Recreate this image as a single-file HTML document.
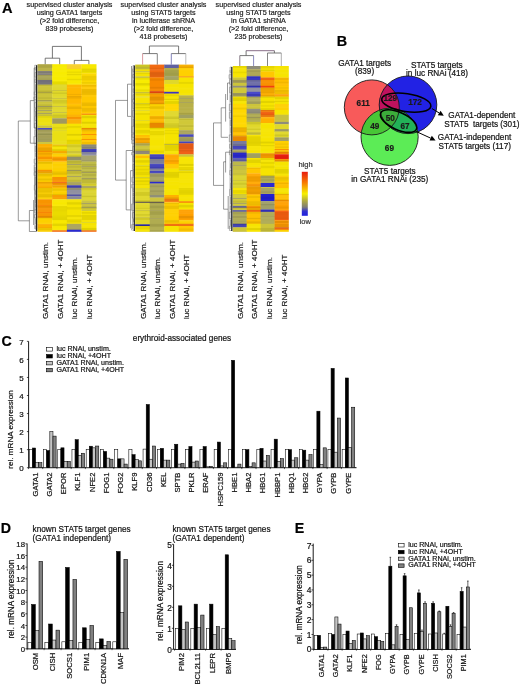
<!DOCTYPE html>
<html><head><meta charset="utf-8"><style>
html,body{margin:0;padding:0;background:#fff;}
svg{display:block;font-family:"Liberation Sans", sans-serif;filter:blur(0.35px);}
text{stroke:currentColor;stroke-width:0.2px;paint-order:stroke;}
</style></head><body>
<svg width="520" height="687" viewBox="0 0 520 687">
<rect width="520" height="687" fill="#fff"/>
<text x="1.90" y="12.50" font-size="14.6" font-weight="bold" fill="#000" color="#000">A</text>
<text x="69.50" y="6.60" font-size="7.2" text-anchor="middle" fill="#222" color="#222">supervised cluster analysis</text>
<text x="69.50" y="14.60" font-size="7.2" text-anchor="middle" fill="#222" color="#222">using GATA1 targets</text>
<text x="69.50" y="22.60" font-size="7.2" text-anchor="middle" fill="#222" color="#222">(&gt;2 fold difference,</text>
<text x="69.50" y="30.60" font-size="7.2" text-anchor="middle" fill="#222" color="#222">839 probesets)</text>
<text x="163.50" y="6.60" font-size="7.2" text-anchor="middle" fill="#222" color="#222">supervised cluster analysis</text>
<text x="163.50" y="14.60" font-size="7.2" text-anchor="middle" fill="#222" color="#222">using STAT5 targets</text>
<text x="163.50" y="22.60" font-size="7.2" text-anchor="middle" fill="#222" color="#222">in luciferase shRNA</text>
<text x="163.50" y="30.60" font-size="7.2" text-anchor="middle" fill="#222" color="#222">(&gt;2 fold difference,</text>
<text x="163.50" y="38.60" font-size="7.2" text-anchor="middle" fill="#222" color="#222">418 probesets)</text>
<text x="258.50" y="6.60" font-size="7.2" text-anchor="middle" fill="#222" color="#222">supervised cluster analysis</text>
<text x="258.50" y="14.60" font-size="7.2" text-anchor="middle" fill="#222" color="#222">using STAT5 targets</text>
<text x="258.50" y="22.60" font-size="7.2" text-anchor="middle" fill="#222" color="#222">in GATA1 shRNA</text>
<text x="258.50" y="30.60" font-size="7.2" text-anchor="middle" fill="#222" color="#222">(&gt;2 fold difference,</text>
<text x="258.50" y="38.60" font-size="7.2" text-anchor="middle" fill="#222" color="#222">235 probesets)</text>
<rect x="37.50" y="64.20" width="14.98" height="7.10" fill="#bcb44a"/>
<rect x="37.50" y="71.00" width="14.98" height="4.30" fill="#88847c"/>
<rect x="37.50" y="75.00" width="14.98" height="5.30" fill="#a8a458"/>
<rect x="37.50" y="80.00" width="14.98" height="4.90" fill="#7c7a84"/>
<rect x="37.50" y="84.60" width="14.98" height="7.70" fill="#ccc43a"/>
<rect x="37.50" y="92.00" width="14.98" height="1.30" fill="#b8b048"/>
<rect x="37.50" y="93.00" width="14.98" height="7.30" fill="#ccc43a"/>
<rect x="37.50" y="100.00" width="14.98" height="1.80" fill="#a8a050"/>
<rect x="37.50" y="101.50" width="14.98" height="4.80" fill="#ccc43a"/>
<rect x="37.50" y="106.00" width="14.98" height="1.30" fill="#aaa45c"/>
<rect x="37.50" y="107.00" width="14.98" height="3.30" fill="#ccc43a"/>
<rect x="37.50" y="110.00" width="14.98" height="1.30" fill="#aaa45c"/>
<rect x="37.50" y="111.00" width="14.98" height="2.30" fill="#ccc43a"/>
<rect x="37.50" y="113.00" width="14.98" height="1.30" fill="#aaa45c"/>
<rect x="37.50" y="114.00" width="14.98" height="2.30" fill="#ccc43a"/>
<rect x="37.50" y="116.00" width="14.98" height="9.80" fill="#ece010"/>
<rect x="37.50" y="125.50" width="14.98" height="2.80" fill="#ccc43a"/>
<rect x="37.50" y="128.00" width="14.98" height="1.90" fill="#4444bc"/>
<rect x="37.50" y="129.60" width="14.98" height="3.30" fill="#aaa45c"/>
<rect x="37.50" y="132.60" width="14.98" height="2.70" fill="#a09c58"/>
<rect x="37.50" y="135.00" width="14.98" height="3.30" fill="#aaa45c"/>
<rect x="37.50" y="138.00" width="14.98" height="4.30" fill="#a09c58"/>
<rect x="37.50" y="142.00" width="14.98" height="2.30" fill="#ccc43a"/>
<rect x="37.50" y="144.00" width="14.98" height="7.10" fill="#fcb000"/>
<rect x="37.50" y="150.80" width="14.98" height="1.50" fill="#f89400"/>
<rect x="37.50" y="152.00" width="14.98" height="5.00" fill="#fcb000"/>
<rect x="37.50" y="156.70" width="14.98" height="2.70" fill="#f89400"/>
<rect x="37.50" y="159.10" width="14.98" height="2.70" fill="#fcb000"/>
<rect x="37.50" y="161.50" width="14.98" height="8.60" fill="#fcd000"/>
<rect x="37.50" y="169.80" width="14.98" height="2.10" fill="#f89400"/>
<rect x="37.50" y="171.60" width="14.98" height="2.10" fill="#fcb000"/>
<rect x="37.50" y="173.40" width="14.98" height="8.70" fill="#fcd000"/>
<rect x="37.50" y="181.80" width="14.98" height="6.50" fill="#fcb000"/>
<rect x="37.50" y="188.00" width="14.98" height="11.60" fill="#fcd000"/>
<rect x="37.50" y="199.30" width="14.98" height="6.00" fill="#f89400"/>
<rect x="37.50" y="205.00" width="14.98" height="1.30" fill="#f88400"/>
<rect x="37.50" y="206.00" width="14.98" height="6.30" fill="#f89400"/>
<rect x="37.50" y="212.00" width="14.98" height="1.30" fill="#f88400"/>
<rect x="37.50" y="213.00" width="14.98" height="5.10" fill="#f89400"/>
<rect x="37.50" y="217.80" width="14.98" height="6.50" fill="#fcd000"/>
<rect x="37.50" y="224.00" width="14.98" height="4.30" fill="#fcb000"/>
<rect x="37.50" y="228.00" width="14.98" height="3.80" fill="#fcd000"/>
<rect x="52.17" y="64.20" width="14.98" height="20.70" fill="#f8ec00"/>
<rect x="52.17" y="84.60" width="14.98" height="5.70" fill="#e0d82a"/>
<rect x="52.17" y="90.00" width="14.98" height="1.30" fill="#ccc43a"/>
<rect x="52.17" y="91.00" width="14.98" height="7.30" fill="#e0d82a"/>
<rect x="52.17" y="98.00" width="14.98" height="1.30" fill="#ccc43a"/>
<rect x="52.17" y="99.00" width="14.98" height="5.30" fill="#e0d82a"/>
<rect x="52.17" y="104.00" width="14.98" height="2.30" fill="#e0d82a"/>
<rect x="52.17" y="106.00" width="14.98" height="1.30" fill="#c8c040"/>
<rect x="52.17" y="107.00" width="14.98" height="5.30" fill="#e0d82a"/>
<rect x="52.17" y="112.00" width="14.98" height="1.30" fill="#c8c040"/>
<rect x="52.17" y="113.00" width="14.98" height="5.60" fill="#e0d82a"/>
<rect x="52.17" y="118.30" width="14.98" height="5.70" fill="#a09860"/>
<rect x="52.17" y="123.70" width="14.98" height="6.60" fill="#eadf14"/>
<rect x="52.17" y="130.00" width="14.98" height="1.30" fill="#e0d82a"/>
<rect x="52.17" y="131.00" width="14.98" height="13.80" fill="#eadf14"/>
<rect x="52.17" y="144.50" width="14.98" height="1.80" fill="#f8d010"/>
<rect x="52.17" y="146.00" width="14.98" height="5.10" fill="#f6e400"/>
<rect x="52.17" y="150.80" width="14.98" height="2.70" fill="#fcb000"/>
<rect x="52.17" y="153.20" width="14.98" height="3.80" fill="#fcd000"/>
<rect x="52.17" y="156.70" width="14.98" height="5.10" fill="#ffa000"/>
<rect x="52.17" y="161.50" width="14.98" height="15.80" fill="#fcd000"/>
<rect x="52.17" y="177.00" width="14.98" height="5.30" fill="#f89400"/>
<rect x="52.17" y="182.00" width="14.98" height="1.30" fill="#f26a12"/>
<rect x="52.17" y="183.00" width="14.98" height="2.60" fill="#f89400"/>
<rect x="52.17" y="185.30" width="14.98" height="3.00" fill="#fcb000"/>
<rect x="52.17" y="188.00" width="14.98" height="7.30" fill="#fcd000"/>
<rect x="52.17" y="195.00" width="14.98" height="4.60" fill="#f8a000"/>
<rect x="52.17" y="199.30" width="14.98" height="31.30" fill="#f8e800"/>
<rect x="52.17" y="230.30" width="14.98" height="1.50" fill="#f26a12"/>
<rect x="66.85" y="64.20" width="14.98" height="5.10" fill="#f8d028"/>
<rect x="66.85" y="69.00" width="14.98" height="15.90" fill="#f8e800"/>
<rect x="66.85" y="84.60" width="14.98" height="19.70" fill="#ffb800"/>
<rect x="66.85" y="104.00" width="14.98" height="11.00" fill="#ffc000"/>
<rect x="66.85" y="114.70" width="14.98" height="2.60" fill="#fcb000"/>
<rect x="66.85" y="117.00" width="14.98" height="2.80" fill="#f89400"/>
<rect x="66.85" y="119.50" width="14.98" height="4.50" fill="#fcb000"/>
<rect x="66.85" y="123.70" width="14.98" height="21.10" fill="#f6e400"/>
<rect x="66.85" y="144.50" width="14.98" height="6.80" fill="#e0d82a"/>
<rect x="66.85" y="151.00" width="14.98" height="2.80" fill="#ccc43a"/>
<rect x="66.85" y="153.50" width="14.98" height="3.50" fill="#e0d82a"/>
<rect x="66.85" y="156.70" width="14.98" height="3.90" fill="#9c9a70"/>
<rect x="66.85" y="160.30" width="14.98" height="4.00" fill="#ccc43a"/>
<rect x="66.85" y="164.00" width="14.98" height="1.30" fill="#aaa45c"/>
<rect x="66.85" y="165.00" width="14.98" height="5.30" fill="#ccc43a"/>
<rect x="66.85" y="170.00" width="14.98" height="1.30" fill="#aaa45c"/>
<rect x="66.85" y="171.00" width="14.98" height="5.30" fill="#ccc43a"/>
<rect x="66.85" y="176.00" width="14.98" height="1.30" fill="#aaa45c"/>
<rect x="66.85" y="177.00" width="14.98" height="5.10" fill="#ccc43a"/>
<rect x="66.85" y="181.80" width="14.98" height="3.80" fill="#aaa45c"/>
<rect x="66.85" y="185.30" width="14.98" height="2.70" fill="#4444bc"/>
<rect x="66.85" y="187.70" width="14.98" height="2.60" fill="#8e8c7a"/>
<rect x="66.85" y="190.00" width="14.98" height="4.80" fill="#9090a0"/>
<rect x="66.85" y="194.50" width="14.98" height="1.80" fill="#5858b0"/>
<rect x="66.85" y="196.00" width="14.98" height="3.60" fill="#9090a0"/>
<rect x="66.85" y="199.30" width="14.98" height="24.80" fill="#f6e400"/>
<rect x="66.85" y="223.80" width="14.98" height="6.20" fill="#aaa45c"/>
<rect x="66.85" y="229.70" width="14.98" height="2.10" fill="#2a2ad0"/>
<rect x="81.53" y="64.20" width="14.98" height="9.40" fill="#f8e800"/>
<rect x="81.53" y="73.30" width="14.98" height="11.60" fill="#fcd800"/>
<rect x="81.53" y="84.60" width="14.98" height="29.20" fill="#ffc800"/>
<rect x="81.53" y="113.50" width="14.98" height="1.80" fill="#f89400"/>
<rect x="81.53" y="115.00" width="14.98" height="13.30" fill="#f6e400"/>
<rect x="81.53" y="128.00" width="14.98" height="1.90" fill="#f89400"/>
<rect x="81.53" y="129.60" width="14.98" height="4.70" fill="#ffc800"/>
<rect x="81.53" y="134.00" width="14.98" height="1.30" fill="#f89400"/>
<rect x="81.53" y="135.00" width="14.98" height="4.30" fill="#ffc800"/>
<rect x="81.53" y="139.00" width="14.98" height="1.30" fill="#f89400"/>
<rect x="81.53" y="140.00" width="14.98" height="4.80" fill="#ffc800"/>
<rect x="81.53" y="144.50" width="14.98" height="4.80" fill="#8e8c7a"/>
<rect x="81.53" y="149.00" width="14.98" height="3.30" fill="#4444bc"/>
<rect x="81.53" y="152.00" width="14.98" height="3.80" fill="#9090a8"/>
<rect x="81.53" y="155.50" width="14.98" height="6.30" fill="#a8a470"/>
<rect x="81.53" y="161.50" width="14.98" height="4.80" fill="#c0bc48"/>
<rect x="81.53" y="166.00" width="14.98" height="1.30" fill="#aaa45c"/>
<rect x="81.53" y="167.00" width="14.98" height="5.30" fill="#c0bc48"/>
<rect x="81.53" y="172.00" width="14.98" height="1.30" fill="#aaa45c"/>
<rect x="81.53" y="173.00" width="14.98" height="5.30" fill="#c0bc48"/>
<rect x="81.53" y="178.00" width="14.98" height="1.30" fill="#aaa45c"/>
<rect x="81.53" y="179.00" width="14.98" height="1.30" fill="#c0bc48"/>
<rect x="81.53" y="180.00" width="14.98" height="3.80" fill="#ccc43a"/>
<rect x="81.53" y="183.50" width="14.98" height="2.60" fill="#e0d82a"/>
<rect x="81.53" y="185.80" width="14.98" height="2.50" fill="#aaa45c"/>
<rect x="81.53" y="188.00" width="14.98" height="13.10" fill="#dcd430"/>
<rect x="81.53" y="200.80" width="14.98" height="2.50" fill="#c8c040"/>
<rect x="81.53" y="203.00" width="14.98" height="1.30" fill="#a8a460"/>
<rect x="81.53" y="204.00" width="14.98" height="3.30" fill="#c8c040"/>
<rect x="81.53" y="207.00" width="14.98" height="1.30" fill="#b0ac58"/>
<rect x="81.53" y="208.00" width="14.98" height="3.30" fill="#d0c838"/>
<rect x="81.53" y="211.00" width="14.98" height="11.30" fill="#f6e400"/>
<rect x="81.53" y="222.00" width="14.98" height="1.30" fill="#e0d82a"/>
<rect x="81.53" y="223.00" width="14.98" height="7.60" fill="#f6e400"/>
<rect x="81.53" y="230.30" width="14.98" height="1.50" fill="#f26a12"/>
<rect x="37.50" y="64.20" width="14.98" height="1.52" fill="#000" fill-opacity="0.072"/>
<rect x="37.50" y="65.72" width="14.98" height="2.04" fill="#000" fill-opacity="0.081"/>
<rect x="37.50" y="71.77" width="14.98" height="1.11" fill="#000" fill-opacity="0.079"/>
<rect x="37.50" y="72.88" width="14.98" height="1.68" fill="#fff" fill-opacity="0.033"/>
<rect x="37.50" y="74.56" width="14.98" height="1.20" fill="#000" fill-opacity="0.063"/>
<rect x="37.50" y="75.76" width="14.98" height="2.00" fill="#fff" fill-opacity="0.045"/>
<rect x="37.50" y="79.69" width="14.98" height="2.56" fill="#000" fill-opacity="0.084"/>
<rect x="37.50" y="82.25" width="14.98" height="2.37" fill="#000" fill-opacity="0.055"/>
<rect x="37.50" y="84.62" width="14.98" height="1.23" fill="#000" fill-opacity="0.076"/>
<rect x="37.50" y="85.85" width="14.98" height="1.49" fill="#fff" fill-opacity="0.032"/>
<rect x="37.50" y="90.66" width="14.98" height="1.88" fill="#000" fill-opacity="0.082"/>
<rect x="37.50" y="92.53" width="14.98" height="1.10" fill="#000" fill-opacity="0.065"/>
<rect x="37.50" y="97.22" width="14.98" height="1.73" fill="#000" fill-opacity="0.054"/>
<rect x="37.50" y="102.61" width="14.98" height="1.84" fill="#fff" fill-opacity="0.038"/>
<rect x="37.50" y="104.45" width="14.98" height="2.17" fill="#000" fill-opacity="0.055"/>
<rect x="37.50" y="106.61" width="14.98" height="2.57" fill="#000" fill-opacity="0.076"/>
<rect x="37.50" y="109.18" width="14.98" height="1.67" fill="#fff" fill-opacity="0.026"/>
<rect x="37.50" y="115.38" width="14.98" height="2.40" fill="#000" fill-opacity="0.052"/>
<rect x="37.50" y="121.82" width="14.98" height="2.34" fill="#fff" fill-opacity="0.044"/>
<rect x="37.50" y="127.02" width="14.98" height="2.04" fill="#fff" fill-opacity="0.049"/>
<rect x="37.50" y="129.06" width="14.98" height="2.32" fill="#000" fill-opacity="0.056"/>
<rect x="37.50" y="134.03" width="14.98" height="1.27" fill="#000" fill-opacity="0.076"/>
<rect x="37.50" y="135.29" width="14.98" height="1.09" fill="#fff" fill-opacity="0.027"/>
<rect x="37.50" y="136.39" width="14.98" height="1.21" fill="#000" fill-opacity="0.060"/>
<rect x="37.50" y="137.60" width="14.98" height="1.63" fill="#fff" fill-opacity="0.037"/>
<rect x="37.50" y="140.35" width="14.98" height="1.88" fill="#fff" fill-opacity="0.038"/>
<rect x="37.50" y="142.23" width="14.98" height="2.31" fill="#fff" fill-opacity="0.036"/>
<rect x="37.50" y="145.99" width="14.98" height="1.57" fill="#fff" fill-opacity="0.038"/>
<rect x="37.50" y="147.56" width="14.98" height="2.53" fill="#000" fill-opacity="0.072"/>
<rect x="37.50" y="150.09" width="14.98" height="1.28" fill="#000" fill-opacity="0.062"/>
<rect x="37.50" y="152.75" width="14.98" height="1.94" fill="#000" fill-opacity="0.058"/>
<rect x="37.50" y="161.64" width="14.98" height="2.08" fill="#000" fill-opacity="0.084"/>
<rect x="37.50" y="163.72" width="14.98" height="2.44" fill="#fff" fill-opacity="0.028"/>
<rect x="37.50" y="166.16" width="14.98" height="2.40" fill="#fff" fill-opacity="0.030"/>
<rect x="37.50" y="171.35" width="14.98" height="1.10" fill="#000" fill-opacity="0.082"/>
<rect x="37.50" y="172.45" width="14.98" height="1.33" fill="#000" fill-opacity="0.071"/>
<rect x="37.50" y="173.78" width="14.98" height="1.54" fill="#000" fill-opacity="0.084"/>
<rect x="37.50" y="175.33" width="14.98" height="1.00" fill="#000" fill-opacity="0.072"/>
<rect x="37.50" y="177.49" width="14.98" height="1.04" fill="#fff" fill-opacity="0.037"/>
<rect x="37.50" y="178.53" width="14.98" height="1.98" fill="#000" fill-opacity="0.072"/>
<rect x="37.50" y="181.92" width="14.98" height="1.58" fill="#000" fill-opacity="0.075"/>
<rect x="37.50" y="183.50" width="14.98" height="2.36" fill="#fff" fill-opacity="0.049"/>
<rect x="37.50" y="187.60" width="14.98" height="1.14" fill="#000" fill-opacity="0.078"/>
<rect x="37.50" y="188.74" width="14.98" height="1.55" fill="#000" fill-opacity="0.058"/>
<rect x="37.50" y="190.29" width="14.98" height="2.33" fill="#000" fill-opacity="0.071"/>
<rect x="37.50" y="192.62" width="14.98" height="1.04" fill="#fff" fill-opacity="0.045"/>
<rect x="37.50" y="193.65" width="14.98" height="1.85" fill="#000" fill-opacity="0.072"/>
<rect x="37.50" y="195.50" width="14.98" height="1.87" fill="#000" fill-opacity="0.087"/>
<rect x="37.50" y="197.37" width="14.98" height="1.84" fill="#fff" fill-opacity="0.048"/>
<rect x="37.50" y="203.01" width="14.98" height="1.27" fill="#fff" fill-opacity="0.027"/>
<rect x="37.50" y="204.28" width="14.98" height="1.85" fill="#fff" fill-opacity="0.028"/>
<rect x="37.50" y="206.13" width="14.98" height="1.53" fill="#000" fill-opacity="0.063"/>
<rect x="37.50" y="207.66" width="14.98" height="2.30" fill="#fff" fill-opacity="0.048"/>
<rect x="37.50" y="209.96" width="14.98" height="2.36" fill="#fff" fill-opacity="0.031"/>
<rect x="37.50" y="212.32" width="14.98" height="2.31" fill="#fff" fill-opacity="0.024"/>
<rect x="37.50" y="215.99" width="14.98" height="1.57" fill="#000" fill-opacity="0.087"/>
<rect x="37.50" y="217.56" width="14.98" height="1.04" fill="#000" fill-opacity="0.056"/>
<rect x="37.50" y="222.55" width="14.98" height="2.50" fill="#fff" fill-opacity="0.049"/>
<rect x="37.50" y="227.58" width="14.98" height="1.35" fill="#000" fill-opacity="0.063"/>
<rect x="37.50" y="228.93" width="14.98" height="1.31" fill="#000" fill-opacity="0.065"/>
<rect x="37.50" y="230.25" width="14.98" height="1.25" fill="#fff" fill-opacity="0.040"/>
<rect x="52.17" y="66.54" width="14.98" height="2.04" fill="#fff" fill-opacity="0.030"/>
<rect x="52.17" y="69.73" width="14.98" height="2.46" fill="#fff" fill-opacity="0.028"/>
<rect x="52.17" y="74.38" width="14.98" height="1.29" fill="#fff" fill-opacity="0.029"/>
<rect x="52.17" y="75.67" width="14.98" height="1.53" fill="#fff" fill-opacity="0.030"/>
<rect x="52.17" y="79.75" width="14.98" height="1.64" fill="#fff" fill-opacity="0.045"/>
<rect x="52.17" y="81.40" width="14.98" height="2.16" fill="#000" fill-opacity="0.070"/>
<rect x="52.17" y="83.56" width="14.98" height="1.20" fill="#000" fill-opacity="0.072"/>
<rect x="52.17" y="84.76" width="14.98" height="2.45" fill="#fff" fill-opacity="0.031"/>
<rect x="52.17" y="87.21" width="14.98" height="1.23" fill="#fff" fill-opacity="0.033"/>
<rect x="52.17" y="92.57" width="14.98" height="1.21" fill="#000" fill-opacity="0.088"/>
<rect x="52.17" y="96.33" width="14.98" height="1.84" fill="#fff" fill-opacity="0.043"/>
<rect x="52.17" y="98.17" width="14.98" height="1.69" fill="#fff" fill-opacity="0.037"/>
<rect x="52.17" y="99.87" width="14.98" height="2.32" fill="#000" fill-opacity="0.065"/>
<rect x="52.17" y="102.19" width="14.98" height="1.40" fill="#000" fill-opacity="0.055"/>
<rect x="52.17" y="106.39" width="14.98" height="1.21" fill="#fff" fill-opacity="0.041"/>
<rect x="52.17" y="109.17" width="14.98" height="1.93" fill="#fff" fill-opacity="0.040"/>
<rect x="52.17" y="111.10" width="14.98" height="1.67" fill="#fff" fill-opacity="0.042"/>
<rect x="52.17" y="114.58" width="14.98" height="1.84" fill="#000" fill-opacity="0.088"/>
<rect x="52.17" y="116.42" width="14.98" height="1.70" fill="#000" fill-opacity="0.068"/>
<rect x="52.17" y="118.12" width="14.98" height="1.01" fill="#fff" fill-opacity="0.030"/>
<rect x="52.17" y="124.08" width="14.98" height="1.89" fill="#fff" fill-opacity="0.028"/>
<rect x="52.17" y="127.14" width="14.98" height="1.40" fill="#000" fill-opacity="0.057"/>
<rect x="52.17" y="130.78" width="14.98" height="1.90" fill="#fff" fill-opacity="0.026"/>
<rect x="52.17" y="140.66" width="14.98" height="1.76" fill="#fff" fill-opacity="0.044"/>
<rect x="52.17" y="142.42" width="14.98" height="2.12" fill="#fff" fill-opacity="0.038"/>
<rect x="52.17" y="144.54" width="14.98" height="2.51" fill="#000" fill-opacity="0.059"/>
<rect x="52.17" y="147.05" width="14.98" height="1.90" fill="#fff" fill-opacity="0.044"/>
<rect x="52.17" y="148.94" width="14.98" height="2.34" fill="#000" fill-opacity="0.074"/>
<rect x="52.17" y="152.48" width="14.98" height="1.12" fill="#000" fill-opacity="0.061"/>
<rect x="52.17" y="154.72" width="14.98" height="2.25" fill="#fff" fill-opacity="0.040"/>
<rect x="52.17" y="158.22" width="14.98" height="2.06" fill="#000" fill-opacity="0.073"/>
<rect x="52.17" y="160.27" width="14.98" height="2.41" fill="#fff" fill-opacity="0.047"/>
<rect x="52.17" y="162.69" width="14.98" height="1.35" fill="#fff" fill-opacity="0.045"/>
<rect x="52.17" y="165.67" width="14.98" height="2.58" fill="#fff" fill-opacity="0.033"/>
<rect x="52.17" y="171.34" width="14.98" height="1.31" fill="#000" fill-opacity="0.052"/>
<rect x="52.17" y="172.65" width="14.98" height="2.16" fill="#000" fill-opacity="0.088"/>
<rect x="52.17" y="179.72" width="14.98" height="1.10" fill="#fff" fill-opacity="0.049"/>
<rect x="52.17" y="180.83" width="14.98" height="2.26" fill="#fff" fill-opacity="0.047"/>
<rect x="52.17" y="183.09" width="14.98" height="1.17" fill="#000" fill-opacity="0.058"/>
<rect x="52.17" y="184.26" width="14.98" height="1.06" fill="#fff" fill-opacity="0.028"/>
<rect x="52.17" y="185.32" width="14.98" height="1.43" fill="#000" fill-opacity="0.074"/>
<rect x="52.17" y="186.75" width="14.98" height="1.68" fill="#fff" fill-opacity="0.041"/>
<rect x="52.17" y="188.43" width="14.98" height="2.31" fill="#000" fill-opacity="0.059"/>
<rect x="52.17" y="190.74" width="14.98" height="1.24" fill="#fff" fill-opacity="0.042"/>
<rect x="52.17" y="193.89" width="14.98" height="1.14" fill="#000" fill-opacity="0.083"/>
<rect x="52.17" y="197.13" width="14.98" height="1.12" fill="#fff" fill-opacity="0.044"/>
<rect x="52.17" y="198.25" width="14.98" height="2.02" fill="#fff" fill-opacity="0.030"/>
<rect x="52.17" y="200.27" width="14.98" height="1.13" fill="#fff" fill-opacity="0.036"/>
<rect x="52.17" y="201.40" width="14.98" height="1.11" fill="#fff" fill-opacity="0.036"/>
<rect x="52.17" y="204.23" width="14.98" height="1.88" fill="#fff" fill-opacity="0.043"/>
<rect x="52.17" y="206.12" width="14.98" height="1.43" fill="#000" fill-opacity="0.074"/>
<rect x="52.17" y="207.55" width="14.98" height="1.84" fill="#000" fill-opacity="0.061"/>
<rect x="52.17" y="209.39" width="14.98" height="1.18" fill="#000" fill-opacity="0.071"/>
<rect x="52.17" y="210.56" width="14.98" height="1.08" fill="#000" fill-opacity="0.066"/>
<rect x="52.17" y="211.64" width="14.98" height="1.50" fill="#000" fill-opacity="0.053"/>
<rect x="52.17" y="213.14" width="14.98" height="2.22" fill="#000" fill-opacity="0.055"/>
<rect x="52.17" y="215.36" width="14.98" height="1.80" fill="#000" fill-opacity="0.069"/>
<rect x="52.17" y="217.16" width="14.98" height="1.56" fill="#000" fill-opacity="0.088"/>
<rect x="52.17" y="218.71" width="14.98" height="1.40" fill="#000" fill-opacity="0.088"/>
<rect x="52.17" y="223.59" width="14.98" height="2.50" fill="#000" fill-opacity="0.077"/>
<rect x="52.17" y="228.40" width="14.98" height="1.79" fill="#fff" fill-opacity="0.033"/>
<rect x="66.85" y="64.20" width="14.98" height="2.10" fill="#fff" fill-opacity="0.048"/>
<rect x="66.85" y="66.30" width="14.98" height="1.55" fill="#fff" fill-opacity="0.033"/>
<rect x="66.85" y="71.63" width="14.98" height="1.09" fill="#000" fill-opacity="0.074"/>
<rect x="66.85" y="72.71" width="14.98" height="1.11" fill="#fff" fill-opacity="0.024"/>
<rect x="66.85" y="73.83" width="14.98" height="1.41" fill="#000" fill-opacity="0.070"/>
<rect x="66.85" y="75.24" width="14.98" height="1.14" fill="#fff" fill-opacity="0.034"/>
<rect x="66.85" y="78.76" width="14.98" height="1.45" fill="#000" fill-opacity="0.061"/>
<rect x="66.85" y="82.94" width="14.98" height="1.42" fill="#fff" fill-opacity="0.046"/>
<rect x="66.85" y="86.91" width="14.98" height="1.39" fill="#fff" fill-opacity="0.047"/>
<rect x="66.85" y="93.88" width="14.98" height="1.01" fill="#000" fill-opacity="0.058"/>
<rect x="66.85" y="96.03" width="14.98" height="1.07" fill="#000" fill-opacity="0.087"/>
<rect x="66.85" y="97.10" width="14.98" height="1.49" fill="#000" fill-opacity="0.062"/>
<rect x="66.85" y="102.73" width="14.98" height="2.15" fill="#fff" fill-opacity="0.038"/>
<rect x="66.85" y="106.49" width="14.98" height="2.58" fill="#000" fill-opacity="0.072"/>
<rect x="66.85" y="111.23" width="14.98" height="1.07" fill="#fff" fill-opacity="0.034"/>
<rect x="66.85" y="114.73" width="14.98" height="2.17" fill="#fff" fill-opacity="0.031"/>
<rect x="66.85" y="118.12" width="14.98" height="1.81" fill="#fff" fill-opacity="0.033"/>
<rect x="66.85" y="119.93" width="14.98" height="2.29" fill="#fff" fill-opacity="0.033"/>
<rect x="66.85" y="122.22" width="14.98" height="1.93" fill="#fff" fill-opacity="0.039"/>
<rect x="66.85" y="126.24" width="14.98" height="1.37" fill="#000" fill-opacity="0.086"/>
<rect x="66.85" y="128.83" width="14.98" height="1.17" fill="#fff" fill-opacity="0.034"/>
<rect x="66.85" y="133.89" width="14.98" height="1.78" fill="#000" fill-opacity="0.090"/>
<rect x="66.85" y="135.67" width="14.98" height="2.28" fill="#fff" fill-opacity="0.025"/>
<rect x="66.85" y="139.75" width="14.98" height="2.05" fill="#000" fill-opacity="0.082"/>
<rect x="66.85" y="141.81" width="14.98" height="2.18" fill="#000" fill-opacity="0.060"/>
<rect x="66.85" y="143.99" width="14.98" height="1.12" fill="#000" fill-opacity="0.058"/>
<rect x="66.85" y="145.11" width="14.98" height="2.17" fill="#000" fill-opacity="0.065"/>
<rect x="66.85" y="147.27" width="14.98" height="2.18" fill="#fff" fill-opacity="0.048"/>
<rect x="66.85" y="155.24" width="14.98" height="2.03" fill="#000" fill-opacity="0.081"/>
<rect x="66.85" y="157.27" width="14.98" height="1.24" fill="#000" fill-opacity="0.060"/>
<rect x="66.85" y="158.50" width="14.98" height="2.19" fill="#000" fill-opacity="0.053"/>
<rect x="66.85" y="160.69" width="14.98" height="1.91" fill="#000" fill-opacity="0.089"/>
<rect x="66.85" y="162.60" width="14.98" height="1.10" fill="#000" fill-opacity="0.058"/>
<rect x="66.85" y="165.77" width="14.98" height="2.08" fill="#000" fill-opacity="0.055"/>
<rect x="66.85" y="169.68" width="14.98" height="1.75" fill="#000" fill-opacity="0.076"/>
<rect x="66.85" y="171.43" width="14.98" height="2.43" fill="#000" fill-opacity="0.066"/>
<rect x="66.85" y="173.86" width="14.98" height="2.57" fill="#fff" fill-opacity="0.044"/>
<rect x="66.85" y="177.45" width="14.98" height="2.31" fill="#fff" fill-opacity="0.047"/>
<rect x="66.85" y="179.76" width="14.98" height="1.72" fill="#000" fill-opacity="0.058"/>
<rect x="66.85" y="181.48" width="14.98" height="1.34" fill="#fff" fill-opacity="0.045"/>
<rect x="66.85" y="185.38" width="14.98" height="2.52" fill="#000" fill-opacity="0.074"/>
<rect x="66.85" y="192.64" width="14.98" height="1.37" fill="#fff" fill-opacity="0.040"/>
<rect x="66.85" y="194.01" width="14.98" height="1.78" fill="#000" fill-opacity="0.087"/>
<rect x="66.85" y="196.79" width="14.98" height="1.72" fill="#000" fill-opacity="0.054"/>
<rect x="66.85" y="199.74" width="14.98" height="1.51" fill="#fff" fill-opacity="0.034"/>
<rect x="66.85" y="201.24" width="14.98" height="1.00" fill="#fff" fill-opacity="0.025"/>
<rect x="66.85" y="202.25" width="14.98" height="2.34" fill="#000" fill-opacity="0.076"/>
<rect x="66.85" y="207.07" width="14.98" height="2.44" fill="#000" fill-opacity="0.055"/>
<rect x="66.85" y="215.28" width="14.98" height="1.44" fill="#000" fill-opacity="0.084"/>
<rect x="66.85" y="216.72" width="14.98" height="1.16" fill="#fff" fill-opacity="0.033"/>
<rect x="66.85" y="217.89" width="14.98" height="1.46" fill="#fff" fill-opacity="0.044"/>
<rect x="66.85" y="219.34" width="14.98" height="1.40" fill="#000" fill-opacity="0.058"/>
<rect x="66.85" y="220.74" width="14.98" height="1.82" fill="#000" fill-opacity="0.067"/>
<rect x="66.85" y="222.56" width="14.98" height="1.60" fill="#fff" fill-opacity="0.046"/>
<rect x="66.85" y="224.16" width="14.98" height="2.41" fill="#fff" fill-opacity="0.031"/>
<rect x="66.85" y="226.57" width="14.98" height="2.01" fill="#fff" fill-opacity="0.041"/>
<rect x="66.85" y="231.09" width="14.98" height="0.41" fill="#000" fill-opacity="0.084"/>
<rect x="81.53" y="68.58" width="14.98" height="1.46" fill="#000" fill-opacity="0.084"/>
<rect x="81.53" y="70.03" width="14.98" height="2.48" fill="#000" fill-opacity="0.075"/>
<rect x="81.53" y="74.27" width="14.98" height="1.48" fill="#fff" fill-opacity="0.024"/>
<rect x="81.53" y="75.75" width="14.98" height="2.56" fill="#000" fill-opacity="0.059"/>
<rect x="81.53" y="78.31" width="14.98" height="2.05" fill="#000" fill-opacity="0.054"/>
<rect x="81.53" y="82.25" width="14.98" height="1.27" fill="#000" fill-opacity="0.071"/>
<rect x="81.53" y="83.52" width="14.98" height="1.33" fill="#fff" fill-opacity="0.041"/>
<rect x="81.53" y="84.85" width="14.98" height="1.80" fill="#000" fill-opacity="0.064"/>
<rect x="81.53" y="86.65" width="14.98" height="2.45" fill="#fff" fill-opacity="0.050"/>
<rect x="81.53" y="89.10" width="14.98" height="1.72" fill="#000" fill-opacity="0.073"/>
<rect x="81.53" y="90.82" width="14.98" height="1.31" fill="#000" fill-opacity="0.079"/>
<rect x="81.53" y="92.13" width="14.98" height="1.55" fill="#000" fill-opacity="0.079"/>
<rect x="81.53" y="93.67" width="14.98" height="1.38" fill="#000" fill-opacity="0.059"/>
<rect x="81.53" y="95.06" width="14.98" height="1.91" fill="#fff" fill-opacity="0.039"/>
<rect x="81.53" y="102.43" width="14.98" height="1.10" fill="#000" fill-opacity="0.057"/>
<rect x="81.53" y="103.53" width="14.98" height="2.55" fill="#000" fill-opacity="0.075"/>
<rect x="81.53" y="107.88" width="14.98" height="2.38" fill="#000" fill-opacity="0.064"/>
<rect x="81.53" y="110.26" width="14.98" height="1.43" fill="#000" fill-opacity="0.060"/>
<rect x="81.53" y="113.34" width="14.98" height="2.53" fill="#fff" fill-opacity="0.035"/>
<rect x="81.53" y="115.86" width="14.98" height="2.40" fill="#000" fill-opacity="0.087"/>
<rect x="81.53" y="121.75" width="14.98" height="1.94" fill="#000" fill-opacity="0.090"/>
<rect x="81.53" y="123.69" width="14.98" height="1.63" fill="#fff" fill-opacity="0.043"/>
<rect x="81.53" y="125.31" width="14.98" height="2.32" fill="#fff" fill-opacity="0.036"/>
<rect x="81.53" y="127.63" width="14.98" height="2.56" fill="#000" fill-opacity="0.060"/>
<rect x="81.53" y="130.19" width="14.98" height="1.17" fill="#000" fill-opacity="0.071"/>
<rect x="81.53" y="135.70" width="14.98" height="2.04" fill="#fff" fill-opacity="0.026"/>
<rect x="81.53" y="139.47" width="14.98" height="1.06" fill="#fff" fill-opacity="0.028"/>
<rect x="81.53" y="140.54" width="14.98" height="1.37" fill="#fff" fill-opacity="0.042"/>
<rect x="81.53" y="141.91" width="14.98" height="2.03" fill="#000" fill-opacity="0.054"/>
<rect x="81.53" y="143.94" width="14.98" height="1.20" fill="#000" fill-opacity="0.060"/>
<rect x="81.53" y="147.16" width="14.98" height="1.18" fill="#000" fill-opacity="0.082"/>
<rect x="81.53" y="150.18" width="14.98" height="1.62" fill="#000" fill-opacity="0.063"/>
<rect x="81.53" y="151.80" width="14.98" height="1.96" fill="#000" fill-opacity="0.089"/>
<rect x="81.53" y="160.20" width="14.98" height="1.38" fill="#000" fill-opacity="0.060"/>
<rect x="81.53" y="164.11" width="14.98" height="1.49" fill="#000" fill-opacity="0.087"/>
<rect x="81.53" y="167.40" width="14.98" height="1.67" fill="#000" fill-opacity="0.059"/>
<rect x="81.53" y="169.07" width="14.98" height="2.07" fill="#fff" fill-opacity="0.043"/>
<rect x="81.53" y="171.14" width="14.98" height="1.36" fill="#000" fill-opacity="0.086"/>
<rect x="81.53" y="174.04" width="14.98" height="2.09" fill="#000" fill-opacity="0.066"/>
<rect x="81.53" y="176.13" width="14.98" height="2.28" fill="#fff" fill-opacity="0.024"/>
<rect x="81.53" y="178.41" width="14.98" height="1.81" fill="#000" fill-opacity="0.065"/>
<rect x="81.53" y="180.22" width="14.98" height="2.55" fill="#000" fill-opacity="0.053"/>
<rect x="81.53" y="182.77" width="14.98" height="2.31" fill="#000" fill-opacity="0.062"/>
<rect x="81.53" y="185.08" width="14.98" height="1.35" fill="#fff" fill-opacity="0.026"/>
<rect x="81.53" y="186.43" width="14.98" height="1.47" fill="#fff" fill-opacity="0.045"/>
<rect x="81.53" y="187.91" width="14.98" height="1.79" fill="#000" fill-opacity="0.068"/>
<rect x="81.53" y="191.06" width="14.98" height="2.06" fill="#fff" fill-opacity="0.045"/>
<rect x="81.53" y="194.36" width="14.98" height="1.34" fill="#fff" fill-opacity="0.047"/>
<rect x="81.53" y="195.70" width="14.98" height="1.23" fill="#000" fill-opacity="0.084"/>
<rect x="81.53" y="198.02" width="14.98" height="2.44" fill="#fff" fill-opacity="0.038"/>
<rect x="81.53" y="200.46" width="14.98" height="2.17" fill="#fff" fill-opacity="0.050"/>
<rect x="81.53" y="205.12" width="14.98" height="1.30" fill="#fff" fill-opacity="0.044"/>
<rect x="81.53" y="206.42" width="14.98" height="2.19" fill="#000" fill-opacity="0.086"/>
<rect x="81.53" y="212.27" width="14.98" height="1.27" fill="#000" fill-opacity="0.090"/>
<rect x="81.53" y="214.99" width="14.98" height="2.53" fill="#000" fill-opacity="0.075"/>
<rect x="81.53" y="217.52" width="14.98" height="2.54" fill="#000" fill-opacity="0.065"/>
<rect x="81.53" y="220.06" width="14.98" height="1.57" fill="#fff" fill-opacity="0.032"/>
<rect x="81.53" y="225.03" width="14.98" height="1.60" fill="#fff" fill-opacity="0.042"/>
<rect x="81.53" y="227.93" width="14.98" height="2.44" fill="#000" fill-opacity="0.086"/>
<rect x="81.53" y="230.37" width="14.98" height="1.13" fill="#fff" fill-opacity="0.031"/>
<rect x="135.20" y="64.60" width="14.83" height="2.50" fill="#e0d82a"/>
<rect x="135.20" y="66.80" width="14.83" height="2.70" fill="#ccc43a"/>
<rect x="135.20" y="69.20" width="14.83" height="2.10" fill="#f6e400"/>
<rect x="135.20" y="71.00" width="14.83" height="1.50" fill="#ccc43a"/>
<rect x="135.20" y="72.20" width="14.83" height="4.40" fill="#f6e400"/>
<rect x="135.20" y="76.30" width="14.83" height="2.00" fill="#ccc43a"/>
<rect x="135.20" y="78.00" width="14.83" height="14.10" fill="#f8ec00"/>
<rect x="135.20" y="91.80" width="14.83" height="1.70" fill="#ccc43a"/>
<rect x="135.20" y="93.20" width="14.83" height="3.60" fill="#f6e400"/>
<rect x="135.20" y="96.50" width="14.83" height="1.30" fill="#e0d82a"/>
<rect x="135.20" y="97.50" width="14.83" height="5.80" fill="#f6e400"/>
<rect x="135.20" y="103.00" width="14.83" height="1.30" fill="#e0d82a"/>
<rect x="135.20" y="104.00" width="14.83" height="6.30" fill="#f6e400"/>
<rect x="135.20" y="110.00" width="14.83" height="1.30" fill="#e0d82a"/>
<rect x="135.20" y="111.00" width="14.83" height="9.30" fill="#f6e400"/>
<rect x="135.20" y="120.00" width="14.83" height="1.30" fill="#e0d82a"/>
<rect x="135.20" y="121.00" width="14.83" height="14.30" fill="#f6e400"/>
<rect x="135.20" y="135.00" width="14.83" height="3.30" fill="#ffc000"/>
<rect x="135.20" y="138.00" width="14.83" height="5.60" fill="#f8a800"/>
<rect x="135.20" y="143.30" width="14.83" height="3.00" fill="#b8b050"/>
<rect x="135.20" y="146.00" width="14.83" height="5.10" fill="#ccc43a"/>
<rect x="135.20" y="150.80" width="14.83" height="3.80" fill="#908878"/>
<rect x="135.20" y="154.30" width="14.83" height="1.50" fill="#f6e400"/>
<rect x="135.20" y="155.50" width="14.83" height="2.80" fill="#ffc000"/>
<rect x="135.20" y="158.00" width="14.83" height="7.30" fill="#f6e400"/>
<rect x="135.20" y="165.00" width="14.83" height="1.30" fill="#e0d82a"/>
<rect x="135.20" y="166.00" width="14.83" height="11.30" fill="#f6e400"/>
<rect x="135.20" y="177.00" width="14.83" height="1.30" fill="#e0d82a"/>
<rect x="135.20" y="178.00" width="14.83" height="10.30" fill="#f6e400"/>
<rect x="135.20" y="188.00" width="14.83" height="7.30" fill="#e0d828"/>
<rect x="135.20" y="195.00" width="14.83" height="7.00" fill="#e0d82a"/>
<rect x="135.20" y="201.70" width="14.83" height="1.60" fill="#706850"/>
<rect x="135.20" y="203.00" width="14.83" height="7.30" fill="#e0d82a"/>
<rect x="135.20" y="210.00" width="14.83" height="1.30" fill="#ccc43a"/>
<rect x="135.20" y="211.00" width="14.83" height="6.30" fill="#e0d82a"/>
<rect x="135.20" y="217.00" width="14.83" height="1.30" fill="#ccc43a"/>
<rect x="135.20" y="218.00" width="14.83" height="6.60" fill="#e0d82a"/>
<rect x="135.20" y="224.30" width="14.83" height="2.00" fill="#3030a0"/>
<rect x="135.20" y="226.00" width="14.83" height="5.80" fill="#f6e400"/>
<rect x="149.72" y="64.60" width="14.83" height="13.20" fill="#f26a12"/>
<rect x="149.72" y="77.50" width="14.83" height="14.00" fill="#f88800"/>
<rect x="149.72" y="91.20" width="14.83" height="2.30" fill="#ee4a10"/>
<rect x="149.72" y="93.20" width="14.83" height="11.10" fill="#f8a000"/>
<rect x="149.72" y="104.00" width="14.83" height="12.30" fill="#fcd000"/>
<rect x="149.72" y="116.00" width="14.83" height="7.30" fill="#ffb800"/>
<rect x="149.72" y="123.00" width="14.83" height="5.10" fill="#f89000"/>
<rect x="149.72" y="127.80" width="14.83" height="26.80" fill="#f6e400"/>
<rect x="149.72" y="154.30" width="14.83" height="5.00" fill="#4444bc"/>
<rect x="149.72" y="159.00" width="14.83" height="5.20" fill="#8888a0"/>
<rect x="149.72" y="163.90" width="14.83" height="5.00" fill="#4444bc"/>
<rect x="149.72" y="168.60" width="14.83" height="2.70" fill="#8888a0"/>
<rect x="149.72" y="171.00" width="14.83" height="2.70" fill="#4444bc"/>
<rect x="149.72" y="173.40" width="14.83" height="8.70" fill="#a8a468"/>
<rect x="149.72" y="181.80" width="14.83" height="2.00" fill="#2a2ad0"/>
<rect x="149.72" y="183.50" width="14.83" height="4.80" fill="#a8a460"/>
<rect x="149.72" y="188.00" width="14.83" height="7.30" fill="#a8a460"/>
<rect x="149.72" y="195.00" width="14.83" height="2.80" fill="#909078"/>
<rect x="149.72" y="197.50" width="14.83" height="4.50" fill="#ccc43a"/>
<rect x="149.72" y="201.70" width="14.83" height="1.60" fill="#706850"/>
<rect x="149.72" y="203.00" width="14.83" height="7.30" fill="#b0ac50"/>
<rect x="149.72" y="210.00" width="14.83" height="1.30" fill="#aaa45c"/>
<rect x="149.72" y="211.00" width="14.83" height="7.30" fill="#b0ac50"/>
<rect x="149.72" y="218.00" width="14.83" height="1.30" fill="#aaa45c"/>
<rect x="149.72" y="219.00" width="14.83" height="12.80" fill="#b0ac50"/>
<rect x="164.25" y="64.60" width="14.83" height="3.70" fill="#6060a0"/>
<rect x="164.25" y="68.00" width="14.83" height="8.60" fill="#b0ac50"/>
<rect x="164.25" y="76.30" width="14.83" height="3.90" fill="#a0a060"/>
<rect x="164.25" y="79.90" width="14.83" height="4.40" fill="#e0d82a"/>
<rect x="164.25" y="84.00" width="14.83" height="8.10" fill="#f6e400"/>
<rect x="164.25" y="91.80" width="14.83" height="2.10" fill="#3830c0"/>
<rect x="164.25" y="93.60" width="14.83" height="10.70" fill="#f6e400"/>
<rect x="164.25" y="104.00" width="14.83" height="7.30" fill="#ffd800"/>
<rect x="164.25" y="111.00" width="14.83" height="17.10" fill="#e0d82a"/>
<rect x="164.25" y="127.80" width="14.83" height="16.50" fill="#f6e400"/>
<rect x="164.25" y="144.00" width="14.83" height="1.30" fill="#ccc43a"/>
<rect x="164.25" y="145.00" width="14.83" height="9.60" fill="#f6e400"/>
<rect x="164.25" y="154.30" width="14.83" height="9.90" fill="#ffa800"/>
<rect x="164.25" y="163.90" width="14.83" height="5.00" fill="#ffc800"/>
<rect x="164.25" y="168.60" width="14.83" height="26.70" fill="#f6e400"/>
<rect x="164.25" y="195.00" width="14.83" height="4.00" fill="#ffb000"/>
<rect x="164.25" y="198.70" width="14.83" height="3.90" fill="#f88010"/>
<rect x="164.25" y="202.30" width="14.83" height="21.80" fill="#ffd000"/>
<rect x="164.25" y="223.80" width="14.83" height="2.50" fill="#f07010"/>
<rect x="164.25" y="226.00" width="14.83" height="5.80" fill="#f6e400"/>
<rect x="178.78" y="64.60" width="14.83" height="3.70" fill="#f8b000"/>
<rect x="178.78" y="68.00" width="14.83" height="8.60" fill="#ffd000"/>
<rect x="178.78" y="76.30" width="14.83" height="1.50" fill="#f89400"/>
<rect x="178.78" y="77.50" width="14.83" height="18.20" fill="#f6e400"/>
<rect x="178.78" y="95.40" width="14.83" height="2.90" fill="#b8b048"/>
<rect x="178.78" y="98.00" width="14.83" height="1.30" fill="#aaa45c"/>
<rect x="178.78" y="99.00" width="14.83" height="3.30" fill="#b8b048"/>
<rect x="178.78" y="102.00" width="14.83" height="1.30" fill="#aaa45c"/>
<rect x="178.78" y="103.00" width="14.83" height="12.00" fill="#b8b048"/>
<rect x="178.78" y="114.70" width="14.83" height="3.90" fill="#a0a060"/>
<rect x="178.78" y="118.30" width="14.83" height="12.20" fill="#d0c838"/>
<rect x="178.78" y="130.20" width="14.83" height="4.50" fill="#aaa45c"/>
<rect x="178.78" y="134.40" width="14.83" height="2.70" fill="#4444bc"/>
<rect x="178.78" y="136.80" width="14.83" height="5.00" fill="#a8a460"/>
<rect x="178.78" y="141.50" width="14.83" height="2.10" fill="#4444bc"/>
<rect x="178.78" y="143.30" width="14.83" height="11.30" fill="#f06018"/>
<rect x="178.78" y="154.30" width="14.83" height="2.70" fill="#ccc43a"/>
<rect x="178.78" y="156.70" width="14.83" height="13.60" fill="#f6e400"/>
<rect x="178.78" y="170.00" width="14.83" height="1.30" fill="#e0d82a"/>
<rect x="178.78" y="171.00" width="14.83" height="30.40" fill="#f6e400"/>
<rect x="178.78" y="201.10" width="14.83" height="2.20" fill="#f89400"/>
<rect x="178.78" y="203.00" width="14.83" height="6.80" fill="#f6e400"/>
<rect x="178.78" y="209.50" width="14.83" height="11.00" fill="#ffa000"/>
<rect x="178.78" y="220.20" width="14.83" height="3.90" fill="#fcd000"/>
<rect x="178.78" y="223.80" width="14.83" height="2.50" fill="#f07010"/>
<rect x="178.78" y="226.00" width="14.83" height="5.80" fill="#ffc800"/>
<rect x="135.20" y="64.60" width="14.83" height="2.23" fill="#000" fill-opacity="0.085"/>
<rect x="135.20" y="66.83" width="14.83" height="1.06" fill="#000" fill-opacity="0.082"/>
<rect x="135.20" y="67.88" width="14.83" height="2.47" fill="#000" fill-opacity="0.059"/>
<rect x="135.20" y="70.35" width="14.83" height="2.20" fill="#fff" fill-opacity="0.040"/>
<rect x="135.20" y="72.55" width="14.83" height="1.54" fill="#000" fill-opacity="0.057"/>
<rect x="135.20" y="78.04" width="14.83" height="1.51" fill="#000" fill-opacity="0.057"/>
<rect x="135.20" y="79.55" width="14.83" height="1.01" fill="#fff" fill-opacity="0.026"/>
<rect x="135.20" y="83.02" width="14.83" height="2.51" fill="#000" fill-opacity="0.087"/>
<rect x="135.20" y="86.91" width="14.83" height="2.53" fill="#fff" fill-opacity="0.045"/>
<rect x="135.20" y="89.44" width="14.83" height="1.62" fill="#000" fill-opacity="0.060"/>
<rect x="135.20" y="92.74" width="14.83" height="2.48" fill="#000" fill-opacity="0.068"/>
<rect x="135.20" y="95.23" width="14.83" height="2.28" fill="#fff" fill-opacity="0.024"/>
<rect x="135.20" y="97.51" width="14.83" height="2.32" fill="#fff" fill-opacity="0.027"/>
<rect x="135.20" y="103.31" width="14.83" height="2.25" fill="#000" fill-opacity="0.081"/>
<rect x="135.20" y="105.56" width="14.83" height="1.32" fill="#fff" fill-opacity="0.025"/>
<rect x="135.20" y="106.88" width="14.83" height="1.40" fill="#000" fill-opacity="0.082"/>
<rect x="135.20" y="109.33" width="14.83" height="1.52" fill="#fff" fill-opacity="0.048"/>
<rect x="135.20" y="110.85" width="14.83" height="2.41" fill="#fff" fill-opacity="0.049"/>
<rect x="135.20" y="113.26" width="14.83" height="1.42" fill="#000" fill-opacity="0.080"/>
<rect x="135.20" y="121.35" width="14.83" height="2.20" fill="#fff" fill-opacity="0.035"/>
<rect x="135.20" y="123.54" width="14.83" height="2.06" fill="#000" fill-opacity="0.075"/>
<rect x="135.20" y="125.60" width="14.83" height="2.35" fill="#000" fill-opacity="0.055"/>
<rect x="135.20" y="129.86" width="14.83" height="2.18" fill="#000" fill-opacity="0.066"/>
<rect x="135.20" y="132.04" width="14.83" height="1.40" fill="#000" fill-opacity="0.061"/>
<rect x="135.20" y="133.43" width="14.83" height="1.25" fill="#fff" fill-opacity="0.038"/>
<rect x="135.20" y="136.60" width="14.83" height="1.63" fill="#fff" fill-opacity="0.049"/>
<rect x="135.20" y="138.24" width="14.83" height="1.81" fill="#000" fill-opacity="0.062"/>
<rect x="135.20" y="142.34" width="14.83" height="2.59" fill="#000" fill-opacity="0.078"/>
<rect x="135.20" y="144.93" width="14.83" height="1.76" fill="#fff" fill-opacity="0.032"/>
<rect x="135.20" y="146.69" width="14.83" height="2.34" fill="#fff" fill-opacity="0.041"/>
<rect x="135.20" y="149.03" width="14.83" height="1.06" fill="#000" fill-opacity="0.055"/>
<rect x="135.20" y="150.10" width="14.83" height="1.19" fill="#000" fill-opacity="0.067"/>
<rect x="135.20" y="158.72" width="14.83" height="1.42" fill="#fff" fill-opacity="0.028"/>
<rect x="135.20" y="160.14" width="14.83" height="2.51" fill="#000" fill-opacity="0.077"/>
<rect x="135.20" y="165.95" width="14.83" height="1.23" fill="#000" fill-opacity="0.066"/>
<rect x="135.20" y="168.58" width="14.83" height="2.04" fill="#000" fill-opacity="0.066"/>
<rect x="135.20" y="171.65" width="14.83" height="2.09" fill="#000" fill-opacity="0.068"/>
<rect x="135.20" y="173.73" width="14.83" height="1.50" fill="#000" fill-opacity="0.066"/>
<rect x="135.20" y="177.50" width="14.83" height="1.10" fill="#000" fill-opacity="0.078"/>
<rect x="135.20" y="180.24" width="14.83" height="2.02" fill="#000" fill-opacity="0.079"/>
<rect x="135.20" y="183.52" width="14.83" height="1.66" fill="#000" fill-opacity="0.056"/>
<rect x="135.20" y="185.18" width="14.83" height="1.49" fill="#fff" fill-opacity="0.045"/>
<rect x="135.20" y="189.74" width="14.83" height="2.38" fill="#fff" fill-opacity="0.050"/>
<rect x="135.20" y="192.12" width="14.83" height="1.58" fill="#000" fill-opacity="0.066"/>
<rect x="135.20" y="193.71" width="14.83" height="2.16" fill="#000" fill-opacity="0.066"/>
<rect x="135.20" y="195.87" width="14.83" height="1.01" fill="#fff" fill-opacity="0.040"/>
<rect x="135.20" y="196.88" width="14.83" height="1.68" fill="#fff" fill-opacity="0.032"/>
<rect x="135.20" y="198.56" width="14.83" height="1.65" fill="#fff" fill-opacity="0.038"/>
<rect x="135.20" y="200.21" width="14.83" height="1.74" fill="#000" fill-opacity="0.070"/>
<rect x="135.20" y="202.97" width="14.83" height="2.03" fill="#fff" fill-opacity="0.041"/>
<rect x="135.20" y="207.73" width="14.83" height="1.23" fill="#000" fill-opacity="0.056"/>
<rect x="135.20" y="208.96" width="14.83" height="1.83" fill="#fff" fill-opacity="0.043"/>
<rect x="135.20" y="211.97" width="14.83" height="2.29" fill="#fff" fill-opacity="0.047"/>
<rect x="135.20" y="214.26" width="14.83" height="1.32" fill="#000" fill-opacity="0.075"/>
<rect x="135.20" y="215.57" width="14.83" height="2.51" fill="#fff" fill-opacity="0.048"/>
<rect x="135.20" y="218.08" width="14.83" height="1.77" fill="#000" fill-opacity="0.084"/>
<rect x="135.20" y="224.78" width="14.83" height="2.32" fill="#000" fill-opacity="0.071"/>
<rect x="135.20" y="227.10" width="14.83" height="2.26" fill="#000" fill-opacity="0.063"/>
<rect x="135.20" y="229.36" width="14.83" height="1.65" fill="#fff" fill-opacity="0.035"/>
<rect x="135.20" y="231.01" width="14.83" height="0.49" fill="#000" fill-opacity="0.068"/>
<rect x="149.72" y="67.78" width="14.83" height="1.20" fill="#000" fill-opacity="0.060"/>
<rect x="149.72" y="68.97" width="14.83" height="2.16" fill="#fff" fill-opacity="0.040"/>
<rect x="149.72" y="72.20" width="14.83" height="2.21" fill="#000" fill-opacity="0.085"/>
<rect x="149.72" y="74.41" width="14.83" height="2.34" fill="#000" fill-opacity="0.076"/>
<rect x="149.72" y="78.71" width="14.83" height="2.00" fill="#000" fill-opacity="0.053"/>
<rect x="149.72" y="86.82" width="14.83" height="1.78" fill="#000" fill-opacity="0.062"/>
<rect x="149.72" y="88.60" width="14.83" height="2.22" fill="#fff" fill-opacity="0.028"/>
<rect x="149.72" y="90.83" width="14.83" height="1.73" fill="#000" fill-opacity="0.068"/>
<rect x="149.72" y="92.56" width="14.83" height="1.76" fill="#000" fill-opacity="0.077"/>
<rect x="149.72" y="96.67" width="14.83" height="1.82" fill="#000" fill-opacity="0.085"/>
<rect x="149.72" y="98.49" width="14.83" height="2.02" fill="#000" fill-opacity="0.080"/>
<rect x="149.72" y="100.50" width="14.83" height="2.17" fill="#fff" fill-opacity="0.028"/>
<rect x="149.72" y="102.68" width="14.83" height="1.82" fill="#000" fill-opacity="0.083"/>
<rect x="149.72" y="106.30" width="14.83" height="2.52" fill="#000" fill-opacity="0.074"/>
<rect x="149.72" y="108.82" width="14.83" height="2.37" fill="#fff" fill-opacity="0.050"/>
<rect x="149.72" y="111.19" width="14.83" height="2.17" fill="#fff" fill-opacity="0.031"/>
<rect x="149.72" y="113.37" width="14.83" height="1.31" fill="#fff" fill-opacity="0.048"/>
<rect x="149.72" y="114.68" width="14.83" height="1.79" fill="#fff" fill-opacity="0.046"/>
<rect x="149.72" y="116.46" width="14.83" height="2.47" fill="#000" fill-opacity="0.070"/>
<rect x="149.72" y="118.93" width="14.83" height="2.26" fill="#fff" fill-opacity="0.043"/>
<rect x="149.72" y="122.29" width="14.83" height="2.21" fill="#000" fill-opacity="0.071"/>
<rect x="149.72" y="124.50" width="14.83" height="2.43" fill="#000" fill-opacity="0.057"/>
<rect x="149.72" y="126.94" width="14.83" height="2.31" fill="#000" fill-opacity="0.073"/>
<rect x="149.72" y="129.24" width="14.83" height="1.80" fill="#fff" fill-opacity="0.042"/>
<rect x="149.72" y="131.05" width="14.83" height="1.33" fill="#000" fill-opacity="0.058"/>
<rect x="149.72" y="132.38" width="14.83" height="1.81" fill="#000" fill-opacity="0.052"/>
<rect x="149.72" y="134.19" width="14.83" height="1.06" fill="#000" fill-opacity="0.068"/>
<rect x="149.72" y="135.25" width="14.83" height="1.26" fill="#fff" fill-opacity="0.044"/>
<rect x="149.72" y="136.51" width="14.83" height="2.09" fill="#fff" fill-opacity="0.040"/>
<rect x="149.72" y="138.59" width="14.83" height="1.27" fill="#fff" fill-opacity="0.028"/>
<rect x="149.72" y="145.46" width="14.83" height="1.93" fill="#fff" fill-opacity="0.038"/>
<rect x="149.72" y="147.39" width="14.83" height="1.17" fill="#fff" fill-opacity="0.049"/>
<rect x="149.72" y="150.57" width="14.83" height="2.28" fill="#000" fill-opacity="0.058"/>
<rect x="149.72" y="155.43" width="14.83" height="1.58" fill="#fff" fill-opacity="0.026"/>
<rect x="149.72" y="157.00" width="14.83" height="1.71" fill="#000" fill-opacity="0.069"/>
<rect x="149.72" y="158.71" width="14.83" height="2.19" fill="#000" fill-opacity="0.084"/>
<rect x="149.72" y="160.90" width="14.83" height="2.31" fill="#000" fill-opacity="0.060"/>
<rect x="149.72" y="163.21" width="14.83" height="2.02" fill="#fff" fill-opacity="0.048"/>
<rect x="149.72" y="167.17" width="14.83" height="1.50" fill="#000" fill-opacity="0.090"/>
<rect x="149.72" y="168.67" width="14.83" height="1.05" fill="#000" fill-opacity="0.072"/>
<rect x="149.72" y="171.71" width="14.83" height="1.82" fill="#fff" fill-opacity="0.040"/>
<rect x="149.72" y="173.53" width="14.83" height="1.21" fill="#000" fill-opacity="0.063"/>
<rect x="149.72" y="174.74" width="14.83" height="2.04" fill="#000" fill-opacity="0.087"/>
<rect x="149.72" y="180.32" width="14.83" height="1.94" fill="#000" fill-opacity="0.065"/>
<rect x="149.72" y="184.26" width="14.83" height="1.22" fill="#fff" fill-opacity="0.044"/>
<rect x="149.72" y="185.48" width="14.83" height="1.39" fill="#000" fill-opacity="0.072"/>
<rect x="149.72" y="188.02" width="14.83" height="2.39" fill="#fff" fill-opacity="0.028"/>
<rect x="149.72" y="190.42" width="14.83" height="1.64" fill="#000" fill-opacity="0.058"/>
<rect x="149.72" y="197.01" width="14.83" height="2.50" fill="#fff" fill-opacity="0.023"/>
<rect x="149.72" y="199.51" width="14.83" height="1.40" fill="#fff" fill-opacity="0.040"/>
<rect x="149.72" y="201.98" width="14.83" height="1.65" fill="#000" fill-opacity="0.061"/>
<rect x="149.72" y="203.63" width="14.83" height="1.09" fill="#fff" fill-opacity="0.028"/>
<rect x="149.72" y="205.74" width="14.83" height="2.51" fill="#000" fill-opacity="0.073"/>
<rect x="149.72" y="211.38" width="14.83" height="2.30" fill="#000" fill-opacity="0.069"/>
<rect x="149.72" y="213.68" width="14.83" height="1.50" fill="#000" fill-opacity="0.054"/>
<rect x="149.72" y="215.17" width="14.83" height="1.08" fill="#fff" fill-opacity="0.039"/>
<rect x="149.72" y="218.50" width="14.83" height="1.01" fill="#fff" fill-opacity="0.034"/>
<rect x="149.72" y="223.89" width="14.83" height="1.36" fill="#000" fill-opacity="0.077"/>
<rect x="149.72" y="225.25" width="14.83" height="1.37" fill="#000" fill-opacity="0.085"/>
<rect x="149.72" y="226.63" width="14.83" height="1.54" fill="#fff" fill-opacity="0.025"/>
<rect x="149.72" y="228.16" width="14.83" height="2.11" fill="#fff" fill-opacity="0.035"/>
<rect x="149.72" y="230.28" width="14.83" height="1.22" fill="#000" fill-opacity="0.058"/>
<rect x="164.25" y="70.17" width="14.83" height="2.54" fill="#000" fill-opacity="0.064"/>
<rect x="164.25" y="72.72" width="14.83" height="2.41" fill="#000" fill-opacity="0.088"/>
<rect x="164.25" y="75.12" width="14.83" height="1.42" fill="#000" fill-opacity="0.062"/>
<rect x="164.25" y="76.54" width="14.83" height="2.19" fill="#fff" fill-opacity="0.044"/>
<rect x="164.25" y="83.33" width="14.83" height="1.38" fill="#fff" fill-opacity="0.041"/>
<rect x="164.25" y="86.73" width="14.83" height="2.06" fill="#fff" fill-opacity="0.048"/>
<rect x="164.25" y="88.79" width="14.83" height="1.75" fill="#fff" fill-opacity="0.034"/>
<rect x="164.25" y="90.54" width="14.83" height="2.12" fill="#fff" fill-opacity="0.036"/>
<rect x="164.25" y="94.36" width="14.83" height="1.91" fill="#000" fill-opacity="0.053"/>
<rect x="164.25" y="97.61" width="14.83" height="1.12" fill="#fff" fill-opacity="0.041"/>
<rect x="164.25" y="98.73" width="14.83" height="1.23" fill="#000" fill-opacity="0.087"/>
<rect x="164.25" y="99.96" width="14.83" height="1.17" fill="#fff" fill-opacity="0.043"/>
<rect x="164.25" y="101.13" width="14.83" height="1.55" fill="#000" fill-opacity="0.073"/>
<rect x="164.25" y="102.69" width="14.83" height="1.05" fill="#000" fill-opacity="0.085"/>
<rect x="164.25" y="105.84" width="14.83" height="2.12" fill="#fff" fill-opacity="0.024"/>
<rect x="164.25" y="109.06" width="14.83" height="1.58" fill="#fff" fill-opacity="0.032"/>
<rect x="164.25" y="110.64" width="14.83" height="2.31" fill="#fff" fill-opacity="0.039"/>
<rect x="164.25" y="112.95" width="14.83" height="1.11" fill="#fff" fill-opacity="0.037"/>
<rect x="164.25" y="114.06" width="14.83" height="2.46" fill="#fff" fill-opacity="0.044"/>
<rect x="164.25" y="116.52" width="14.83" height="1.17" fill="#000" fill-opacity="0.065"/>
<rect x="164.25" y="117.69" width="14.83" height="1.18" fill="#000" fill-opacity="0.086"/>
<rect x="164.25" y="118.87" width="14.83" height="2.36" fill="#fff" fill-opacity="0.031"/>
<rect x="164.25" y="121.23" width="14.83" height="2.01" fill="#fff" fill-opacity="0.033"/>
<rect x="164.25" y="123.24" width="14.83" height="2.01" fill="#000" fill-opacity="0.056"/>
<rect x="164.25" y="125.25" width="14.83" height="1.16" fill="#000" fill-opacity="0.078"/>
<rect x="164.25" y="126.41" width="14.83" height="2.21" fill="#000" fill-opacity="0.065"/>
<rect x="164.25" y="130.14" width="14.83" height="1.03" fill="#000" fill-opacity="0.059"/>
<rect x="164.25" y="132.62" width="14.83" height="1.59" fill="#000" fill-opacity="0.052"/>
<rect x="164.25" y="140.17" width="14.83" height="1.70" fill="#fff" fill-opacity="0.027"/>
<rect x="164.25" y="143.42" width="14.83" height="1.86" fill="#000" fill-opacity="0.064"/>
<rect x="164.25" y="145.28" width="14.83" height="2.38" fill="#000" fill-opacity="0.079"/>
<rect x="164.25" y="147.66" width="14.83" height="2.31" fill="#000" fill-opacity="0.070"/>
<rect x="164.25" y="149.97" width="14.83" height="1.00" fill="#000" fill-opacity="0.066"/>
<rect x="164.25" y="150.97" width="14.83" height="2.22" fill="#fff" fill-opacity="0.048"/>
<rect x="164.25" y="154.20" width="14.83" height="1.79" fill="#fff" fill-opacity="0.030"/>
<rect x="164.25" y="157.28" width="14.83" height="1.56" fill="#fff" fill-opacity="0.033"/>
<rect x="164.25" y="158.84" width="14.83" height="1.42" fill="#fff" fill-opacity="0.044"/>
<rect x="164.25" y="160.25" width="14.83" height="1.45" fill="#000" fill-opacity="0.064"/>
<rect x="164.25" y="165.00" width="14.83" height="1.13" fill="#fff" fill-opacity="0.029"/>
<rect x="164.25" y="166.13" width="14.83" height="2.12" fill="#fff" fill-opacity="0.029"/>
<rect x="164.25" y="171.89" width="14.83" height="2.42" fill="#000" fill-opacity="0.080"/>
<rect x="164.25" y="174.32" width="14.83" height="2.42" fill="#000" fill-opacity="0.087"/>
<rect x="164.25" y="176.74" width="14.83" height="1.33" fill="#000" fill-opacity="0.058"/>
<rect x="164.25" y="180.51" width="14.83" height="1.61" fill="#fff" fill-opacity="0.038"/>
<rect x="164.25" y="183.49" width="14.83" height="1.85" fill="#fff" fill-opacity="0.025"/>
<rect x="164.25" y="189.10" width="14.83" height="1.25" fill="#fff" fill-opacity="0.034"/>
<rect x="164.25" y="190.35" width="14.83" height="2.06" fill="#fff" fill-opacity="0.024"/>
<rect x="164.25" y="197.12" width="14.83" height="2.42" fill="#000" fill-opacity="0.061"/>
<rect x="164.25" y="199.54" width="14.83" height="1.31" fill="#000" fill-opacity="0.054"/>
<rect x="164.25" y="200.85" width="14.83" height="2.13" fill="#fff" fill-opacity="0.034"/>
<rect x="164.25" y="202.97" width="14.83" height="1.25" fill="#000" fill-opacity="0.071"/>
<rect x="164.25" y="205.61" width="14.83" height="1.84" fill="#000" fill-opacity="0.071"/>
<rect x="164.25" y="207.45" width="14.83" height="1.52" fill="#000" fill-opacity="0.067"/>
<rect x="164.25" y="208.97" width="14.83" height="2.56" fill="#fff" fill-opacity="0.023"/>
<rect x="164.25" y="211.53" width="14.83" height="1.16" fill="#fff" fill-opacity="0.046"/>
<rect x="164.25" y="213.86" width="14.83" height="2.57" fill="#fff" fill-opacity="0.029"/>
<rect x="164.25" y="219.92" width="14.83" height="1.17" fill="#000" fill-opacity="0.065"/>
<rect x="164.25" y="221.09" width="14.83" height="1.62" fill="#000" fill-opacity="0.086"/>
<rect x="164.25" y="222.71" width="14.83" height="1.64" fill="#fff" fill-opacity="0.029"/>
<rect x="164.25" y="229.70" width="14.83" height="1.65" fill="#fff" fill-opacity="0.024"/>
<rect x="178.78" y="64.60" width="14.83" height="1.92" fill="#fff" fill-opacity="0.025"/>
<rect x="178.78" y="66.52" width="14.83" height="1.67" fill="#000" fill-opacity="0.063"/>
<rect x="178.78" y="68.19" width="14.83" height="2.16" fill="#fff" fill-opacity="0.038"/>
<rect x="178.78" y="81.89" width="14.83" height="2.01" fill="#000" fill-opacity="0.060"/>
<rect x="178.78" y="87.57" width="14.83" height="2.08" fill="#fff" fill-opacity="0.043"/>
<rect x="178.78" y="93.18" width="14.83" height="1.78" fill="#fff" fill-opacity="0.047"/>
<rect x="178.78" y="96.03" width="14.83" height="1.26" fill="#fff" fill-opacity="0.028"/>
<rect x="178.78" y="106.96" width="14.83" height="1.66" fill="#fff" fill-opacity="0.045"/>
<rect x="178.78" y="109.96" width="14.83" height="1.63" fill="#fff" fill-opacity="0.026"/>
<rect x="178.78" y="111.58" width="14.83" height="1.20" fill="#fff" fill-opacity="0.048"/>
<rect x="178.78" y="112.78" width="14.83" height="1.57" fill="#000" fill-opacity="0.083"/>
<rect x="178.78" y="118.48" width="14.83" height="1.56" fill="#000" fill-opacity="0.058"/>
<rect x="178.78" y="120.05" width="14.83" height="1.36" fill="#fff" fill-opacity="0.024"/>
<rect x="178.78" y="123.91" width="14.83" height="1.35" fill="#fff" fill-opacity="0.030"/>
<rect x="178.78" y="125.26" width="14.83" height="1.63" fill="#000" fill-opacity="0.065"/>
<rect x="178.78" y="126.89" width="14.83" height="1.21" fill="#fff" fill-opacity="0.028"/>
<rect x="178.78" y="132.14" width="14.83" height="1.36" fill="#fff" fill-opacity="0.046"/>
<rect x="178.78" y="135.07" width="14.83" height="2.31" fill="#fff" fill-opacity="0.032"/>
<rect x="178.78" y="137.38" width="14.83" height="1.75" fill="#000" fill-opacity="0.055"/>
<rect x="178.78" y="139.12" width="14.83" height="1.88" fill="#000" fill-opacity="0.075"/>
<rect x="178.78" y="143.34" width="14.83" height="2.36" fill="#000" fill-opacity="0.058"/>
<rect x="178.78" y="145.70" width="14.83" height="1.60" fill="#000" fill-opacity="0.060"/>
<rect x="178.78" y="147.30" width="14.83" height="1.68" fill="#000" fill-opacity="0.068"/>
<rect x="178.78" y="149.98" width="14.83" height="1.45" fill="#000" fill-opacity="0.061"/>
<rect x="178.78" y="156.66" width="14.83" height="2.49" fill="#fff" fill-opacity="0.035"/>
<rect x="178.78" y="159.14" width="14.83" height="1.09" fill="#fff" fill-opacity="0.033"/>
<rect x="178.78" y="160.24" width="14.83" height="2.45" fill="#fff" fill-opacity="0.028"/>
<rect x="178.78" y="162.68" width="14.83" height="1.22" fill="#fff" fill-opacity="0.033"/>
<rect x="178.78" y="163.91" width="14.83" height="2.01" fill="#000" fill-opacity="0.088"/>
<rect x="178.78" y="165.92" width="14.83" height="1.02" fill="#fff" fill-opacity="0.045"/>
<rect x="178.78" y="166.94" width="14.83" height="2.05" fill="#000" fill-opacity="0.060"/>
<rect x="178.78" y="168.99" width="14.83" height="1.16" fill="#000" fill-opacity="0.073"/>
<rect x="178.78" y="170.15" width="14.83" height="1.37" fill="#fff" fill-opacity="0.028"/>
<rect x="178.78" y="171.53" width="14.83" height="1.55" fill="#000" fill-opacity="0.072"/>
<rect x="178.78" y="173.08" width="14.83" height="2.45" fill="#fff" fill-opacity="0.029"/>
<rect x="178.78" y="175.53" width="14.83" height="1.27" fill="#fff" fill-opacity="0.039"/>
<rect x="178.78" y="176.80" width="14.83" height="1.97" fill="#fff" fill-opacity="0.028"/>
<rect x="178.78" y="178.77" width="14.83" height="2.07" fill="#fff" fill-opacity="0.039"/>
<rect x="178.78" y="180.84" width="14.83" height="2.26" fill="#fff" fill-opacity="0.034"/>
<rect x="178.78" y="184.42" width="14.83" height="1.85" fill="#fff" fill-opacity="0.024"/>
<rect x="178.78" y="186.27" width="14.83" height="1.70" fill="#fff" fill-opacity="0.038"/>
<rect x="178.78" y="187.97" width="14.83" height="1.89" fill="#000" fill-opacity="0.058"/>
<rect x="178.78" y="189.85" width="14.83" height="1.37" fill="#000" fill-opacity="0.073"/>
<rect x="178.78" y="191.23" width="14.83" height="1.79" fill="#000" fill-opacity="0.083"/>
<rect x="178.78" y="193.02" width="14.83" height="1.75" fill="#000" fill-opacity="0.073"/>
<rect x="178.78" y="196.55" width="14.83" height="1.86" fill="#fff" fill-opacity="0.036"/>
<rect x="178.78" y="198.42" width="14.83" height="1.01" fill="#fff" fill-opacity="0.034"/>
<rect x="178.78" y="201.17" width="14.83" height="2.06" fill="#fff" fill-opacity="0.034"/>
<rect x="178.78" y="204.84" width="14.83" height="2.54" fill="#000" fill-opacity="0.081"/>
<rect x="178.78" y="210.44" width="14.83" height="2.09" fill="#fff" fill-opacity="0.043"/>
<rect x="178.78" y="212.53" width="14.83" height="1.53" fill="#fff" fill-opacity="0.048"/>
<rect x="178.78" y="215.88" width="14.83" height="2.44" fill="#000" fill-opacity="0.086"/>
<rect x="178.78" y="220.46" width="14.83" height="1.54" fill="#fff" fill-opacity="0.036"/>
<rect x="178.78" y="223.59" width="14.83" height="1.84" fill="#fff" fill-opacity="0.027"/>
<rect x="178.78" y="228.45" width="14.83" height="2.32" fill="#000" fill-opacity="0.055"/>
<rect x="232.70" y="66.00" width="14.25" height="11.80" fill="#f6e400"/>
<rect x="232.70" y="77.50" width="14.25" height="2.70" fill="#ccc43a"/>
<rect x="232.70" y="79.90" width="14.25" height="3.30" fill="#a8a058"/>
<rect x="232.70" y="82.90" width="14.25" height="3.20" fill="#ccc43a"/>
<rect x="232.70" y="85.80" width="14.25" height="2.10" fill="#8e8c7a"/>
<rect x="232.70" y="87.60" width="14.25" height="5.70" fill="#d0c838"/>
<rect x="232.70" y="93.00" width="14.25" height="3.90" fill="#a09c60"/>
<rect x="232.70" y="96.60" width="14.25" height="7.70" fill="#f6e400"/>
<rect x="232.70" y="104.00" width="14.25" height="24.10" fill="#ffd800"/>
<rect x="232.70" y="127.80" width="14.25" height="8.70" fill="#ffc000"/>
<rect x="232.70" y="136.20" width="14.25" height="5.10" fill="#f89000"/>
<rect x="232.70" y="141.00" width="14.25" height="5.30" fill="#76769a"/>
<rect x="232.70" y="146.00" width="14.25" height="3.90" fill="#4444bc"/>
<rect x="232.70" y="149.60" width="14.25" height="3.30" fill="#aaa45c"/>
<rect x="232.70" y="152.60" width="14.25" height="5.70" fill="#2a2ad0"/>
<rect x="232.70" y="158.00" width="14.25" height="3.80" fill="#6060b0"/>
<rect x="232.70" y="161.50" width="14.25" height="3.80" fill="#bcb84a"/>
<rect x="232.70" y="165.00" width="14.25" height="1.30" fill="#aaa45c"/>
<rect x="232.70" y="166.00" width="14.25" height="4.10" fill="#c4be44"/>
<rect x="232.70" y="169.80" width="14.25" height="5.10" fill="#ccc43a"/>
<rect x="232.70" y="174.60" width="14.25" height="5.70" fill="#dad42e"/>
<rect x="232.70" y="180.00" width="14.25" height="1.30" fill="#ccc43a"/>
<rect x="232.70" y="181.00" width="14.25" height="7.30" fill="#dad42e"/>
<rect x="232.70" y="188.00" width="14.25" height="6.30" fill="#f6e400"/>
<rect x="232.70" y="194.00" width="14.25" height="4.30" fill="#d0c838"/>
<rect x="232.70" y="198.00" width="14.25" height="1.30" fill="#aaa45c"/>
<rect x="232.70" y="199.00" width="14.25" height="4.30" fill="#d0c838"/>
<rect x="232.70" y="203.00" width="14.25" height="1.30" fill="#aaa45c"/>
<rect x="232.70" y="204.00" width="14.25" height="2.20" fill="#d0c838"/>
<rect x="232.70" y="205.90" width="14.25" height="2.10" fill="#606090"/>
<rect x="232.70" y="207.70" width="14.25" height="2.60" fill="#ccc43a"/>
<rect x="232.70" y="210.00" width="14.25" height="2.10" fill="#6868a0"/>
<rect x="232.70" y="211.80" width="14.25" height="4.50" fill="#b0ac58"/>
<rect x="232.70" y="216.00" width="14.25" height="1.30" fill="#aaa45c"/>
<rect x="232.70" y="217.00" width="14.25" height="4.30" fill="#b0ac58"/>
<rect x="232.70" y="221.00" width="14.25" height="1.30" fill="#aaa45c"/>
<rect x="232.70" y="222.00" width="14.25" height="2.10" fill="#b0ac58"/>
<rect x="232.70" y="223.80" width="14.25" height="3.80" fill="#4040b0"/>
<rect x="232.70" y="227.30" width="14.25" height="4.50" fill="#ccc43a"/>
<rect x="246.65" y="66.00" width="14.25" height="3.50" fill="#8e8c7a"/>
<rect x="246.65" y="69.20" width="14.25" height="7.40" fill="#b0a858"/>
<rect x="246.65" y="76.30" width="14.25" height="3.90" fill="#3838c8"/>
<rect x="246.65" y="79.90" width="14.25" height="6.20" fill="#7070a8"/>
<rect x="246.65" y="85.80" width="14.25" height="2.10" fill="#3030b8"/>
<rect x="246.65" y="87.60" width="14.25" height="4.50" fill="#9090a0"/>
<rect x="246.65" y="91.80" width="14.25" height="5.10" fill="#4040c8"/>
<rect x="246.65" y="96.60" width="14.25" height="7.70" fill="#b0ac60"/>
<rect x="246.65" y="104.00" width="14.25" height="5.10" fill="#ccc43a"/>
<rect x="246.65" y="108.80" width="14.25" height="5.00" fill="#8e8c7a"/>
<rect x="246.65" y="113.50" width="14.25" height="3.80" fill="#b0ac50"/>
<rect x="246.65" y="117.00" width="14.25" height="1.30" fill="#aaa45c"/>
<rect x="246.65" y="118.00" width="14.25" height="4.20" fill="#b0ac50"/>
<rect x="246.65" y="121.90" width="14.25" height="11.00" fill="#e0d82a"/>
<rect x="246.65" y="132.60" width="14.25" height="2.70" fill="#ccc43a"/>
<rect x="246.65" y="135.00" width="14.25" height="18.50" fill="#f6e400"/>
<rect x="246.65" y="153.20" width="14.25" height="5.10" fill="#a0a060"/>
<rect x="246.65" y="158.00" width="14.25" height="9.80" fill="#f6e400"/>
<rect x="246.65" y="167.50" width="14.25" height="6.20" fill="#ffc800"/>
<rect x="246.65" y="173.40" width="14.25" height="10.90" fill="#ffa800"/>
<rect x="246.65" y="184.00" width="14.25" height="2.80" fill="#f89400"/>
<rect x="246.65" y="186.50" width="14.25" height="8.40" fill="#ffa800"/>
<rect x="246.65" y="194.60" width="14.25" height="11.60" fill="#ffc800"/>
<rect x="246.65" y="205.90" width="14.25" height="2.40" fill="#f89400"/>
<rect x="246.65" y="208.00" width="14.25" height="2.30" fill="#fcb000"/>
<rect x="246.65" y="210.00" width="14.25" height="2.10" fill="#f26a12"/>
<rect x="246.65" y="211.80" width="14.25" height="12.30" fill="#ffc000"/>
<rect x="246.65" y="223.80" width="14.25" height="8.00" fill="#f6e400"/>
<rect x="260.60" y="66.00" width="14.25" height="5.80" fill="#f6e400"/>
<rect x="260.60" y="71.50" width="14.25" height="6.30" fill="#ffc800"/>
<rect x="260.60" y="77.50" width="14.25" height="2.70" fill="#f06010"/>
<rect x="260.60" y="79.90" width="14.25" height="6.20" fill="#f89000"/>
<rect x="260.60" y="85.80" width="14.25" height="2.10" fill="#f04010"/>
<rect x="260.60" y="87.60" width="14.25" height="9.30" fill="#ffb000"/>
<rect x="260.60" y="96.60" width="14.25" height="13.70" fill="#f6e400"/>
<rect x="260.60" y="110.00" width="14.25" height="2.30" fill="#f88010"/>
<rect x="260.60" y="112.00" width="14.25" height="3.30" fill="#f06010"/>
<rect x="260.60" y="115.00" width="14.25" height="2.40" fill="#f88010"/>
<rect x="260.60" y="117.10" width="14.25" height="6.20" fill="#ffb000"/>
<rect x="260.60" y="123.00" width="14.25" height="30.50" fill="#f6e400"/>
<rect x="260.60" y="153.20" width="14.25" height="5.10" fill="#ffa000"/>
<rect x="260.60" y="158.00" width="14.25" height="18.10" fill="#f6e400"/>
<rect x="260.60" y="175.80" width="14.25" height="7.50" fill="#b0ac58"/>
<rect x="260.60" y="183.00" width="14.25" height="4.40" fill="#2a2ad0"/>
<rect x="260.60" y="187.10" width="14.25" height="1.20" fill="#ccc43a"/>
<rect x="260.60" y="188.00" width="14.25" height="6.30" fill="#a8a460"/>
<rect x="260.60" y="194.00" width="14.25" height="7.40" fill="#2020d0"/>
<rect x="260.60" y="201.10" width="14.25" height="8.70" fill="#a0a068"/>
<rect x="260.60" y="209.50" width="14.25" height="2.60" fill="#3030c0"/>
<rect x="260.60" y="211.80" width="14.25" height="4.50" fill="#b0ac58"/>
<rect x="260.60" y="216.00" width="14.25" height="1.30" fill="#aaa45c"/>
<rect x="260.60" y="217.00" width="14.25" height="7.10" fill="#b0ac58"/>
<rect x="260.60" y="223.80" width="14.25" height="8.00" fill="#ccc43a"/>
<rect x="274.55" y="66.00" width="14.25" height="11.80" fill="#f6e400"/>
<rect x="274.55" y="77.50" width="14.25" height="8.60" fill="#ffc000"/>
<rect x="274.55" y="85.80" width="14.25" height="8.70" fill="#ffc800"/>
<rect x="274.55" y="94.20" width="14.25" height="2.70" fill="#ffa000"/>
<rect x="274.55" y="96.60" width="14.25" height="7.70" fill="#f6e400"/>
<rect x="274.55" y="104.00" width="14.25" height="6.30" fill="#ffd000"/>
<rect x="274.55" y="110.00" width="14.25" height="5.00" fill="#f6e400"/>
<rect x="274.55" y="114.70" width="14.25" height="7.50" fill="#c8c040"/>
<rect x="274.55" y="121.90" width="14.25" height="2.60" fill="#8e8c7a"/>
<rect x="274.55" y="124.20" width="14.25" height="5.10" fill="#e0d82a"/>
<rect x="274.55" y="129.00" width="14.25" height="2.70" fill="#a09c60"/>
<rect x="274.55" y="131.40" width="14.25" height="6.30" fill="#e0d82a"/>
<rect x="274.55" y="137.40" width="14.25" height="3.90" fill="#a09c60"/>
<rect x="274.55" y="141.00" width="14.25" height="8.30" fill="#ffd000"/>
<rect x="274.55" y="149.00" width="14.25" height="1.30" fill="#f89400"/>
<rect x="274.55" y="150.00" width="14.25" height="2.30" fill="#ffc000"/>
<rect x="274.55" y="152.00" width="14.25" height="2.60" fill="#f89000"/>
<rect x="274.55" y="154.30" width="14.25" height="5.10" fill="#e82010"/>
<rect x="274.55" y="159.10" width="14.25" height="2.70" fill="#f89400"/>
<rect x="274.55" y="161.50" width="14.25" height="14.60" fill="#f6e400"/>
<rect x="274.55" y="175.80" width="14.25" height="6.30" fill="#fcd000"/>
<rect x="274.55" y="181.80" width="14.25" height="6.50" fill="#ffc000"/>
<rect x="274.55" y="188.00" width="14.25" height="6.30" fill="#f6e400"/>
<rect x="274.55" y="194.00" width="14.25" height="6.30" fill="#ffc000"/>
<rect x="274.55" y="200.00" width="14.25" height="1.40" fill="#f89400"/>
<rect x="274.55" y="201.10" width="14.25" height="9.80" fill="#ffa000"/>
<rect x="274.55" y="210.60" width="14.25" height="9.90" fill="#f86010"/>
<rect x="274.55" y="220.20" width="14.25" height="7.40" fill="#f89800"/>
<rect x="274.55" y="227.30" width="14.25" height="2.70" fill="#f26a12"/>
<rect x="274.55" y="229.70" width="14.25" height="2.10" fill="#fcd000"/>
<rect x="232.70" y="66.00" width="14.25" height="1.81" fill="#000" fill-opacity="0.057"/>
<rect x="232.70" y="67.81" width="14.25" height="1.81" fill="#fff" fill-opacity="0.047"/>
<rect x="232.70" y="69.62" width="14.25" height="2.05" fill="#fff" fill-opacity="0.029"/>
<rect x="232.70" y="71.66" width="14.25" height="1.53" fill="#000" fill-opacity="0.052"/>
<rect x="232.70" y="74.67" width="14.25" height="2.02" fill="#fff" fill-opacity="0.028"/>
<rect x="232.70" y="80.17" width="14.25" height="1.08" fill="#000" fill-opacity="0.054"/>
<rect x="232.70" y="81.25" width="14.25" height="1.01" fill="#000" fill-opacity="0.067"/>
<rect x="232.70" y="84.73" width="14.25" height="2.05" fill="#fff" fill-opacity="0.029"/>
<rect x="232.70" y="93.34" width="14.25" height="2.09" fill="#000" fill-opacity="0.064"/>
<rect x="232.70" y="97.50" width="14.25" height="2.22" fill="#000" fill-opacity="0.078"/>
<rect x="232.70" y="99.72" width="14.25" height="1.29" fill="#000" fill-opacity="0.086"/>
<rect x="232.70" y="101.01" width="14.25" height="2.24" fill="#fff" fill-opacity="0.041"/>
<rect x="232.70" y="105.30" width="14.25" height="2.32" fill="#fff" fill-opacity="0.029"/>
<rect x="232.70" y="107.61" width="14.25" height="1.90" fill="#000" fill-opacity="0.059"/>
<rect x="232.70" y="112.51" width="14.25" height="2.03" fill="#fff" fill-opacity="0.043"/>
<rect x="232.70" y="115.62" width="14.25" height="1.06" fill="#000" fill-opacity="0.076"/>
<rect x="232.70" y="122.47" width="14.25" height="1.95" fill="#fff" fill-opacity="0.044"/>
<rect x="232.70" y="126.99" width="14.25" height="1.66" fill="#000" fill-opacity="0.078"/>
<rect x="232.70" y="128.65" width="14.25" height="2.03" fill="#000" fill-opacity="0.065"/>
<rect x="232.70" y="130.68" width="14.25" height="1.24" fill="#000" fill-opacity="0.088"/>
<rect x="232.70" y="132.93" width="14.25" height="1.19" fill="#fff" fill-opacity="0.047"/>
<rect x="232.70" y="134.12" width="14.25" height="1.14" fill="#fff" fill-opacity="0.037"/>
<rect x="232.70" y="135.27" width="14.25" height="1.21" fill="#000" fill-opacity="0.088"/>
<rect x="232.70" y="136.47" width="14.25" height="2.15" fill="#000" fill-opacity="0.061"/>
<rect x="232.70" y="138.62" width="14.25" height="2.17" fill="#000" fill-opacity="0.068"/>
<rect x="232.70" y="140.80" width="14.25" height="1.08" fill="#fff" fill-opacity="0.027"/>
<rect x="232.70" y="141.88" width="14.25" height="2.14" fill="#fff" fill-opacity="0.036"/>
<rect x="232.70" y="144.02" width="14.25" height="2.17" fill="#000" fill-opacity="0.080"/>
<rect x="232.70" y="148.19" width="14.25" height="1.74" fill="#fff" fill-opacity="0.043"/>
<rect x="232.70" y="149.93" width="14.25" height="1.41" fill="#fff" fill-opacity="0.046"/>
<rect x="232.70" y="151.34" width="14.25" height="2.15" fill="#000" fill-opacity="0.089"/>
<rect x="232.70" y="154.51" width="14.25" height="2.31" fill="#000" fill-opacity="0.080"/>
<rect x="232.70" y="156.81" width="14.25" height="1.50" fill="#fff" fill-opacity="0.023"/>
<rect x="232.70" y="158.31" width="14.25" height="1.27" fill="#fff" fill-opacity="0.036"/>
<rect x="232.70" y="159.58" width="14.25" height="1.78" fill="#000" fill-opacity="0.083"/>
<rect x="232.70" y="164.65" width="14.25" height="1.23" fill="#fff" fill-opacity="0.030"/>
<rect x="232.70" y="169.47" width="14.25" height="1.62" fill="#fff" fill-opacity="0.029"/>
<rect x="232.70" y="171.08" width="14.25" height="2.51" fill="#fff" fill-opacity="0.028"/>
<rect x="232.70" y="173.60" width="14.25" height="1.91" fill="#000" fill-opacity="0.055"/>
<rect x="232.70" y="175.50" width="14.25" height="1.10" fill="#fff" fill-opacity="0.047"/>
<rect x="232.70" y="176.60" width="14.25" height="2.13" fill="#fff" fill-opacity="0.033"/>
<rect x="232.70" y="180.26" width="14.25" height="2.56" fill="#fff" fill-opacity="0.033"/>
<rect x="232.70" y="182.82" width="14.25" height="1.96" fill="#000" fill-opacity="0.053"/>
<rect x="232.70" y="184.78" width="14.25" height="1.69" fill="#fff" fill-opacity="0.039"/>
<rect x="232.70" y="188.07" width="14.25" height="1.96" fill="#fff" fill-opacity="0.040"/>
<rect x="232.70" y="190.03" width="14.25" height="2.29" fill="#000" fill-opacity="0.056"/>
<rect x="232.70" y="192.32" width="14.25" height="1.00" fill="#000" fill-opacity="0.058"/>
<rect x="232.70" y="195.00" width="14.25" height="2.31" fill="#fff" fill-opacity="0.039"/>
<rect x="232.70" y="197.31" width="14.25" height="1.07" fill="#fff" fill-opacity="0.033"/>
<rect x="232.70" y="198.38" width="14.25" height="2.30" fill="#fff" fill-opacity="0.037"/>
<rect x="232.70" y="200.68" width="14.25" height="1.92" fill="#000" fill-opacity="0.057"/>
<rect x="232.70" y="202.59" width="14.25" height="2.36" fill="#fff" fill-opacity="0.031"/>
<rect x="232.70" y="204.95" width="14.25" height="2.10" fill="#fff" fill-opacity="0.041"/>
<rect x="232.70" y="207.05" width="14.25" height="1.55" fill="#000" fill-opacity="0.080"/>
<rect x="232.70" y="208.60" width="14.25" height="1.89" fill="#fff" fill-opacity="0.030"/>
<rect x="232.70" y="210.49" width="14.25" height="1.32" fill="#fff" fill-opacity="0.025"/>
<rect x="232.70" y="211.81" width="14.25" height="2.49" fill="#000" fill-opacity="0.062"/>
<rect x="232.70" y="216.27" width="14.25" height="1.74" fill="#000" fill-opacity="0.065"/>
<rect x="232.70" y="218.02" width="14.25" height="1.41" fill="#fff" fill-opacity="0.025"/>
<rect x="232.70" y="221.69" width="14.25" height="1.14" fill="#fff" fill-opacity="0.031"/>
<rect x="232.70" y="222.83" width="14.25" height="2.24" fill="#000" fill-opacity="0.062"/>
<rect x="232.70" y="225.07" width="14.25" height="1.93" fill="#fff" fill-opacity="0.040"/>
<rect x="232.70" y="231.17" width="14.25" height="0.33" fill="#000" fill-opacity="0.067"/>
<rect x="246.65" y="70.51" width="14.25" height="1.24" fill="#000" fill-opacity="0.085"/>
<rect x="246.65" y="75.52" width="14.25" height="2.26" fill="#000" fill-opacity="0.071"/>
<rect x="246.65" y="79.73" width="14.25" height="1.83" fill="#000" fill-opacity="0.088"/>
<rect x="246.65" y="81.56" width="14.25" height="1.05" fill="#fff" fill-opacity="0.049"/>
<rect x="246.65" y="85.00" width="14.25" height="1.91" fill="#000" fill-opacity="0.059"/>
<rect x="246.65" y="89.16" width="14.25" height="2.51" fill="#fff" fill-opacity="0.027"/>
<rect x="246.65" y="91.67" width="14.25" height="2.31" fill="#fff" fill-opacity="0.046"/>
<rect x="246.65" y="93.98" width="14.25" height="1.41" fill="#000" fill-opacity="0.085"/>
<rect x="246.65" y="95.39" width="14.25" height="1.32" fill="#000" fill-opacity="0.068"/>
<rect x="246.65" y="96.71" width="14.25" height="1.13" fill="#000" fill-opacity="0.084"/>
<rect x="246.65" y="97.84" width="14.25" height="1.89" fill="#fff" fill-opacity="0.037"/>
<rect x="246.65" y="99.74" width="14.25" height="1.73" fill="#fff" fill-opacity="0.045"/>
<rect x="246.65" y="101.47" width="14.25" height="2.46" fill="#000" fill-opacity="0.082"/>
<rect x="246.65" y="105.88" width="14.25" height="1.19" fill="#fff" fill-opacity="0.046"/>
<rect x="246.65" y="108.48" width="14.25" height="2.03" fill="#fff" fill-opacity="0.046"/>
<rect x="246.65" y="112.58" width="14.25" height="1.72" fill="#000" fill-opacity="0.071"/>
<rect x="246.65" y="114.30" width="14.25" height="2.55" fill="#fff" fill-opacity="0.049"/>
<rect x="246.65" y="116.84" width="14.25" height="1.35" fill="#000" fill-opacity="0.085"/>
<rect x="246.65" y="119.61" width="14.25" height="2.44" fill="#fff" fill-opacity="0.040"/>
<rect x="246.65" y="122.05" width="14.25" height="2.34" fill="#000" fill-opacity="0.084"/>
<rect x="246.65" y="126.65" width="14.25" height="2.03" fill="#fff" fill-opacity="0.049"/>
<rect x="246.65" y="128.69" width="14.25" height="1.09" fill="#000" fill-opacity="0.073"/>
<rect x="246.65" y="129.77" width="14.25" height="2.21" fill="#fff" fill-opacity="0.044"/>
<rect x="246.65" y="131.98" width="14.25" height="2.08" fill="#000" fill-opacity="0.054"/>
<rect x="246.65" y="134.07" width="14.25" height="1.95" fill="#fff" fill-opacity="0.026"/>
<rect x="246.65" y="136.01" width="14.25" height="1.17" fill="#000" fill-opacity="0.051"/>
<rect x="246.65" y="137.18" width="14.25" height="1.41" fill="#000" fill-opacity="0.075"/>
<rect x="246.65" y="138.59" width="14.25" height="1.77" fill="#000" fill-opacity="0.070"/>
<rect x="246.65" y="140.36" width="14.25" height="1.38" fill="#000" fill-opacity="0.073"/>
<rect x="246.65" y="141.74" width="14.25" height="2.08" fill="#000" fill-opacity="0.088"/>
<rect x="246.65" y="143.83" width="14.25" height="2.15" fill="#000" fill-opacity="0.067"/>
<rect x="246.65" y="145.97" width="14.25" height="1.06" fill="#fff" fill-opacity="0.043"/>
<rect x="246.65" y="147.03" width="14.25" height="1.35" fill="#fff" fill-opacity="0.043"/>
<rect x="246.65" y="148.39" width="14.25" height="2.39" fill="#fff" fill-opacity="0.039"/>
<rect x="246.65" y="152.00" width="14.25" height="1.16" fill="#fff" fill-opacity="0.043"/>
<rect x="246.65" y="159.54" width="14.25" height="2.01" fill="#000" fill-opacity="0.073"/>
<rect x="246.65" y="161.54" width="14.25" height="1.35" fill="#000" fill-opacity="0.083"/>
<rect x="246.65" y="165.04" width="14.25" height="1.23" fill="#fff" fill-opacity="0.037"/>
<rect x="246.65" y="167.70" width="14.25" height="1.25" fill="#000" fill-opacity="0.057"/>
<rect x="246.65" y="172.56" width="14.25" height="1.51" fill="#fff" fill-opacity="0.040"/>
<rect x="246.65" y="174.07" width="14.25" height="1.18" fill="#fff" fill-opacity="0.048"/>
<rect x="246.65" y="175.25" width="14.25" height="1.09" fill="#fff" fill-opacity="0.040"/>
<rect x="246.65" y="176.34" width="14.25" height="2.07" fill="#000" fill-opacity="0.065"/>
<rect x="246.65" y="178.41" width="14.25" height="1.76" fill="#000" fill-opacity="0.056"/>
<rect x="246.65" y="180.18" width="14.25" height="1.41" fill="#000" fill-opacity="0.066"/>
<rect x="246.65" y="181.59" width="14.25" height="1.58" fill="#fff" fill-opacity="0.049"/>
<rect x="246.65" y="183.17" width="14.25" height="2.60" fill="#fff" fill-opacity="0.043"/>
<rect x="246.65" y="185.77" width="14.25" height="1.16" fill="#000" fill-opacity="0.055"/>
<rect x="246.65" y="186.92" width="14.25" height="2.43" fill="#000" fill-opacity="0.083"/>
<rect x="246.65" y="189.36" width="14.25" height="2.16" fill="#000" fill-opacity="0.055"/>
<rect x="246.65" y="191.52" width="14.25" height="2.57" fill="#000" fill-opacity="0.088"/>
<rect x="246.65" y="196.38" width="14.25" height="1.22" fill="#000" fill-opacity="0.090"/>
<rect x="246.65" y="201.23" width="14.25" height="2.46" fill="#000" fill-opacity="0.064"/>
<rect x="246.65" y="203.69" width="14.25" height="1.91" fill="#000" fill-opacity="0.073"/>
<rect x="246.65" y="205.60" width="14.25" height="1.29" fill="#fff" fill-opacity="0.027"/>
<rect x="246.65" y="206.89" width="14.25" height="2.14" fill="#000" fill-opacity="0.066"/>
<rect x="246.65" y="209.03" width="14.25" height="1.13" fill="#000" fill-opacity="0.080"/>
<rect x="246.65" y="212.13" width="14.25" height="1.44" fill="#000" fill-opacity="0.065"/>
<rect x="246.65" y="217.85" width="14.25" height="1.32" fill="#000" fill-opacity="0.082"/>
<rect x="246.65" y="221.34" width="14.25" height="2.15" fill="#000" fill-opacity="0.083"/>
<rect x="246.65" y="225.80" width="14.25" height="2.35" fill="#fff" fill-opacity="0.036"/>
<rect x="246.65" y="228.14" width="14.25" height="1.79" fill="#000" fill-opacity="0.088"/>
<rect x="260.60" y="66.00" width="14.25" height="2.40" fill="#000" fill-opacity="0.058"/>
<rect x="260.60" y="68.40" width="14.25" height="1.30" fill="#fff" fill-opacity="0.033"/>
<rect x="260.60" y="69.69" width="14.25" height="1.59" fill="#000" fill-opacity="0.070"/>
<rect x="260.60" y="76.79" width="14.25" height="2.31" fill="#fff" fill-opacity="0.037"/>
<rect x="260.60" y="80.61" width="14.25" height="1.61" fill="#fff" fill-opacity="0.025"/>
<rect x="260.60" y="82.22" width="14.25" height="1.10" fill="#fff" fill-opacity="0.037"/>
<rect x="260.60" y="87.66" width="14.25" height="1.86" fill="#000" fill-opacity="0.088"/>
<rect x="260.60" y="89.52" width="14.25" height="2.55" fill="#000" fill-opacity="0.063"/>
<rect x="260.60" y="92.07" width="14.25" height="1.29" fill="#000" fill-opacity="0.078"/>
<rect x="260.60" y="93.36" width="14.25" height="1.40" fill="#fff" fill-opacity="0.032"/>
<rect x="260.60" y="94.76" width="14.25" height="1.05" fill="#000" fill-opacity="0.078"/>
<rect x="260.60" y="95.81" width="14.25" height="2.12" fill="#000" fill-opacity="0.067"/>
<rect x="260.60" y="100.88" width="14.25" height="2.12" fill="#000" fill-opacity="0.078"/>
<rect x="260.60" y="105.40" width="14.25" height="1.07" fill="#000" fill-opacity="0.075"/>
<rect x="260.60" y="108.26" width="14.25" height="1.45" fill="#000" fill-opacity="0.075"/>
<rect x="260.60" y="109.71" width="14.25" height="1.65" fill="#000" fill-opacity="0.074"/>
<rect x="260.60" y="111.36" width="14.25" height="1.95" fill="#fff" fill-opacity="0.036"/>
<rect x="260.60" y="114.54" width="14.25" height="2.19" fill="#000" fill-opacity="0.070"/>
<rect x="260.60" y="116.73" width="14.25" height="2.32" fill="#fff" fill-opacity="0.044"/>
<rect x="260.60" y="123.02" width="14.25" height="1.63" fill="#fff" fill-opacity="0.044"/>
<rect x="260.60" y="128.28" width="14.25" height="1.70" fill="#fff" fill-opacity="0.048"/>
<rect x="260.60" y="129.98" width="14.25" height="2.29" fill="#fff" fill-opacity="0.041"/>
<rect x="260.60" y="132.26" width="14.25" height="2.30" fill="#fff" fill-opacity="0.035"/>
<rect x="260.60" y="135.65" width="14.25" height="2.53" fill="#fff" fill-opacity="0.043"/>
<rect x="260.60" y="141.60" width="14.25" height="1.85" fill="#000" fill-opacity="0.082"/>
<rect x="260.60" y="145.14" width="14.25" height="1.03" fill="#000" fill-opacity="0.073"/>
<rect x="260.60" y="146.17" width="14.25" height="2.55" fill="#fff" fill-opacity="0.028"/>
<rect x="260.60" y="151.22" width="14.25" height="2.29" fill="#fff" fill-opacity="0.038"/>
<rect x="260.60" y="153.52" width="14.25" height="2.42" fill="#000" fill-opacity="0.086"/>
<rect x="260.60" y="155.93" width="14.25" height="2.03" fill="#000" fill-opacity="0.058"/>
<rect x="260.60" y="157.96" width="14.25" height="2.09" fill="#000" fill-opacity="0.057"/>
<rect x="260.60" y="160.05" width="14.25" height="1.87" fill="#fff" fill-opacity="0.042"/>
<rect x="260.60" y="161.91" width="14.25" height="1.99" fill="#000" fill-opacity="0.060"/>
<rect x="260.60" y="165.74" width="14.25" height="2.52" fill="#000" fill-opacity="0.055"/>
<rect x="260.60" y="174.90" width="14.25" height="1.85" fill="#000" fill-opacity="0.072"/>
<rect x="260.60" y="176.76" width="14.25" height="1.20" fill="#000" fill-opacity="0.074"/>
<rect x="260.60" y="179.42" width="14.25" height="1.46" fill="#000" fill-opacity="0.061"/>
<rect x="260.60" y="191.32" width="14.25" height="1.50" fill="#000" fill-opacity="0.061"/>
<rect x="260.60" y="196.80" width="14.25" height="2.38" fill="#000" fill-opacity="0.061"/>
<rect x="260.60" y="201.07" width="14.25" height="1.46" fill="#fff" fill-opacity="0.049"/>
<rect x="260.60" y="202.53" width="14.25" height="1.47" fill="#fff" fill-opacity="0.027"/>
<rect x="260.60" y="204.00" width="14.25" height="1.25" fill="#000" fill-opacity="0.082"/>
<rect x="260.60" y="208.75" width="14.25" height="1.70" fill="#fff" fill-opacity="0.024"/>
<rect x="260.60" y="210.45" width="14.25" height="1.17" fill="#000" fill-opacity="0.063"/>
<rect x="260.60" y="211.63" width="14.25" height="2.53" fill="#fff" fill-opacity="0.024"/>
<rect x="260.60" y="216.97" width="14.25" height="1.99" fill="#fff" fill-opacity="0.035"/>
<rect x="260.60" y="221.27" width="14.25" height="2.18" fill="#fff" fill-opacity="0.024"/>
<rect x="260.60" y="227.93" width="14.25" height="2.46" fill="#000" fill-opacity="0.075"/>
<rect x="260.60" y="230.39" width="14.25" height="1.11" fill="#000" fill-opacity="0.089"/>
<rect x="274.55" y="68.23" width="14.25" height="1.80" fill="#fff" fill-opacity="0.046"/>
<rect x="274.55" y="71.94" width="14.25" height="2.25" fill="#fff" fill-opacity="0.037"/>
<rect x="274.55" y="77.89" width="14.25" height="2.16" fill="#000" fill-opacity="0.055"/>
<rect x="274.55" y="81.67" width="14.25" height="1.62" fill="#000" fill-opacity="0.051"/>
<rect x="274.55" y="83.28" width="14.25" height="2.26" fill="#fff" fill-opacity="0.035"/>
<rect x="274.55" y="87.34" width="14.25" height="1.29" fill="#000" fill-opacity="0.054"/>
<rect x="274.55" y="89.87" width="14.25" height="1.93" fill="#000" fill-opacity="0.079"/>
<rect x="274.55" y="91.80" width="14.25" height="2.47" fill="#000" fill-opacity="0.051"/>
<rect x="274.55" y="94.27" width="14.25" height="2.35" fill="#fff" fill-opacity="0.034"/>
<rect x="274.55" y="96.62" width="14.25" height="2.53" fill="#000" fill-opacity="0.065"/>
<rect x="274.55" y="99.15" width="14.25" height="1.68" fill="#fff" fill-opacity="0.041"/>
<rect x="274.55" y="100.84" width="14.25" height="1.02" fill="#000" fill-opacity="0.084"/>
<rect x="274.55" y="103.76" width="14.25" height="2.47" fill="#fff" fill-opacity="0.027"/>
<rect x="274.55" y="106.23" width="14.25" height="1.86" fill="#fff" fill-opacity="0.050"/>
<rect x="274.55" y="113.59" width="14.25" height="1.56" fill="#fff" fill-opacity="0.045"/>
<rect x="274.55" y="120.03" width="14.25" height="1.92" fill="#fff" fill-opacity="0.038"/>
<rect x="274.55" y="128.79" width="14.25" height="1.85" fill="#fff" fill-opacity="0.032"/>
<rect x="274.55" y="130.64" width="14.25" height="1.27" fill="#000" fill-opacity="0.052"/>
<rect x="274.55" y="131.91" width="14.25" height="2.57" fill="#fff" fill-opacity="0.033"/>
<rect x="274.55" y="134.48" width="14.25" height="1.82" fill="#000" fill-opacity="0.077"/>
<rect x="274.55" y="138.73" width="14.25" height="2.31" fill="#fff" fill-opacity="0.049"/>
<rect x="274.55" y="143.46" width="14.25" height="1.25" fill="#000" fill-opacity="0.055"/>
<rect x="274.55" y="146.53" width="14.25" height="1.30" fill="#000" fill-opacity="0.068"/>
<rect x="274.55" y="149.84" width="14.25" height="1.57" fill="#fff" fill-opacity="0.049"/>
<rect x="274.55" y="151.41" width="14.25" height="2.02" fill="#000" fill-opacity="0.085"/>
<rect x="274.55" y="153.43" width="14.25" height="1.66" fill="#fff" fill-opacity="0.029"/>
<rect x="274.55" y="156.58" width="14.25" height="1.01" fill="#000" fill-opacity="0.053"/>
<rect x="274.55" y="159.93" width="14.25" height="2.07" fill="#000" fill-opacity="0.066"/>
<rect x="274.55" y="165.22" width="14.25" height="1.85" fill="#fff" fill-opacity="0.050"/>
<rect x="274.55" y="168.99" width="14.25" height="1.19" fill="#000" fill-opacity="0.071"/>
<rect x="274.55" y="170.18" width="14.25" height="2.22" fill="#000" fill-opacity="0.077"/>
<rect x="274.55" y="172.40" width="14.25" height="1.16" fill="#000" fill-opacity="0.070"/>
<rect x="274.55" y="173.56" width="14.25" height="1.84" fill="#fff" fill-opacity="0.032"/>
<rect x="274.55" y="175.40" width="14.25" height="1.98" fill="#fff" fill-opacity="0.031"/>
<rect x="274.55" y="177.38" width="14.25" height="1.10" fill="#000" fill-opacity="0.089"/>
<rect x="274.55" y="178.48" width="14.25" height="2.23" fill="#000" fill-opacity="0.051"/>
<rect x="274.55" y="182.85" width="14.25" height="1.27" fill="#000" fill-opacity="0.058"/>
<rect x="274.55" y="184.12" width="14.25" height="1.16" fill="#fff" fill-opacity="0.040"/>
<rect x="274.55" y="188.93" width="14.25" height="1.09" fill="#fff" fill-opacity="0.039"/>
<rect x="274.55" y="190.02" width="14.25" height="1.93" fill="#fff" fill-opacity="0.046"/>
<rect x="274.55" y="193.66" width="14.25" height="1.40" fill="#000" fill-opacity="0.085"/>
<rect x="274.55" y="195.06" width="14.25" height="2.49" fill="#fff" fill-opacity="0.035"/>
<rect x="274.55" y="197.55" width="14.25" height="1.50" fill="#fff" fill-opacity="0.040"/>
<rect x="274.55" y="199.05" width="14.25" height="2.31" fill="#000" fill-opacity="0.054"/>
<rect x="274.55" y="201.36" width="14.25" height="1.96" fill="#fff" fill-opacity="0.046"/>
<rect x="274.55" y="203.32" width="14.25" height="1.79" fill="#fff" fill-opacity="0.045"/>
<rect x="274.55" y="206.50" width="14.25" height="2.15" fill="#000" fill-opacity="0.063"/>
<rect x="274.55" y="208.65" width="14.25" height="1.49" fill="#fff" fill-opacity="0.038"/>
<rect x="274.55" y="210.15" width="14.25" height="1.78" fill="#fff" fill-opacity="0.029"/>
<rect x="274.55" y="211.92" width="14.25" height="1.39" fill="#000" fill-opacity="0.069"/>
<rect x="274.55" y="213.31" width="14.25" height="1.57" fill="#000" fill-opacity="0.068"/>
<rect x="274.55" y="214.88" width="14.25" height="2.55" fill="#000" fill-opacity="0.055"/>
<rect x="274.55" y="217.44" width="14.25" height="1.90" fill="#000" fill-opacity="0.076"/>
<rect x="274.55" y="221.19" width="14.25" height="1.65" fill="#000" fill-opacity="0.082"/>
<rect x="274.55" y="222.84" width="14.25" height="1.20" fill="#fff" fill-opacity="0.033"/>
<rect x="274.55" y="224.03" width="14.25" height="1.56" fill="#000" fill-opacity="0.061"/>
<rect x="274.55" y="225.59" width="14.25" height="1.31" fill="#000" fill-opacity="0.056"/>
<rect x="274.55" y="226.90" width="14.25" height="1.38" fill="#000" fill-opacity="0.086"/>
<line x1="52.40" y1="46.40" x2="81.40" y2="46.40" stroke="#555" stroke-width="0.8"/>
<line x1="52.40" y1="46.40" x2="52.40" y2="58.20" stroke="#555" stroke-width="0.8"/>
<line x1="81.40" y1="46.40" x2="81.40" y2="60.40" stroke="#555" stroke-width="0.8"/>
<line x1="45.20" y1="58.20" x2="59.70" y2="58.20" stroke="#555" stroke-width="0.8"/>
<line x1="45.20" y1="58.20" x2="45.20" y2="64.20" stroke="#555" stroke-width="0.8"/>
<line x1="59.70" y1="58.20" x2="59.70" y2="64.20" stroke="#555" stroke-width="0.8"/>
<line x1="74.30" y1="60.40" x2="88.90" y2="60.40" stroke="#555" stroke-width="0.8"/>
<line x1="74.30" y1="60.40" x2="74.30" y2="64.20" stroke="#555" stroke-width="0.8"/>
<line x1="88.90" y1="60.40" x2="88.90" y2="64.20" stroke="#555" stroke-width="0.8"/>
<line x1="149.40" y1="46.00" x2="178.60" y2="46.00" stroke="#555" stroke-width="0.8"/>
<line x1="149.40" y1="46.00" x2="149.40" y2="53.60" stroke="#555" stroke-width="0.8"/>
<line x1="178.60" y1="46.00" x2="178.60" y2="53.60" stroke="#555" stroke-width="0.8"/>
<line x1="142.60" y1="53.60" x2="157.30" y2="53.60" stroke="#555" stroke-width="0.8"/>
<line x1="142.60" y1="53.60" x2="142.60" y2="64.60" stroke="#d08088" stroke-width="0.8"/>
<line x1="157.30" y1="53.60" x2="157.30" y2="64.60" stroke="#666" stroke-width="0.8"/>
<line x1="171.30" y1="53.60" x2="185.80" y2="53.60" stroke="#555" stroke-width="0.8"/>
<line x1="171.30" y1="53.60" x2="171.30" y2="64.60" stroke="#6262a8" stroke-width="0.8"/>
<line x1="185.80" y1="53.60" x2="185.80" y2="64.60" stroke="#aaa" stroke-width="0.8"/>
<line x1="246.10" y1="50.70" x2="274.40" y2="50.70" stroke="#6a4a6a" stroke-width="0.8"/>
<line x1="246.10" y1="50.70" x2="246.10" y2="55.60" stroke="#555" stroke-width="0.8"/>
<line x1="274.40" y1="50.70" x2="274.40" y2="53.00" stroke="#555" stroke-width="0.8"/>
<line x1="239.80" y1="55.60" x2="253.60" y2="55.60" stroke="#555" stroke-width="0.8"/>
<line x1="239.80" y1="55.60" x2="239.80" y2="66.00" stroke="#6a5a6a" stroke-width="0.8"/>
<line x1="253.60" y1="55.60" x2="253.60" y2="66.00" stroke="#6a6ab0" stroke-width="0.8"/>
<line x1="267.50" y1="53.00" x2="281.30" y2="53.00" stroke="#555" stroke-width="0.8"/>
<line x1="267.50" y1="53.00" x2="267.50" y2="66.00" stroke="#666" stroke-width="0.8"/>
<line x1="281.30" y1="53.00" x2="281.30" y2="66.00" stroke="#999" stroke-width="0.8"/>
<line x1="18.30" y1="121.00" x2="18.30" y2="220.80" stroke="#555" stroke-width="0.6"/>
<line x1="18.30" y1="121.00" x2="30.30" y2="121.00" stroke="#555" stroke-width="0.6"/>
<line x1="18.30" y1="220.80" x2="29.40" y2="220.80" stroke="#555" stroke-width="0.6"/>
<line x1="30.30" y1="100.60" x2="30.30" y2="143.20" stroke="#555" stroke-width="0.6"/>
<line x1="30.30" y1="100.60" x2="34.20" y2="100.60" stroke="#555" stroke-width="0.6"/>
<line x1="30.30" y1="143.20" x2="36.20" y2="143.20" stroke="#555" stroke-width="0.6"/>
<line x1="34.20" y1="67.90" x2="34.20" y2="128.00" stroke="#555" stroke-width="0.6"/>
<line x1="34.20" y1="67.90" x2="36.00" y2="67.90" stroke="#555" stroke-width="0.6"/>
<line x1="34.20" y1="128.00" x2="36.00" y2="128.00" stroke="#555" stroke-width="0.6"/>
<line x1="29.40" y1="210.50" x2="29.40" y2="231.50" stroke="#555" stroke-width="0.6"/>
<line x1="29.40" y1="210.50" x2="33.60" y2="210.50" stroke="#555" stroke-width="0.6"/>
<line x1="29.40" y1="231.50" x2="37.00" y2="231.50" stroke="#555" stroke-width="0.6"/>
<line x1="35.00" y1="167.00" x2="35.00" y2="210.50" stroke="#555" stroke-width="0.6"/>
<line x1="33.60" y1="200.00" x2="33.60" y2="225.00" stroke="#555" stroke-width="0.6"/>
<line x1="115.50" y1="100.40" x2="115.50" y2="180.10" stroke="#555" stroke-width="0.6"/>
<line x1="115.50" y1="100.40" x2="127.50" y2="100.40" stroke="#555" stroke-width="0.6"/>
<line x1="115.50" y1="180.10" x2="126.20" y2="180.10" stroke="#555" stroke-width="0.6"/>
<line x1="127.50" y1="84.20" x2="127.50" y2="116.40" stroke="#555" stroke-width="0.6"/>
<line x1="127.50" y1="84.20" x2="131.90" y2="84.20" stroke="#555" stroke-width="0.6"/>
<line x1="127.50" y1="116.40" x2="131.00" y2="116.40" stroke="#555" stroke-width="0.6"/>
<line x1="126.20" y1="150.50" x2="126.20" y2="209.90" stroke="#555" stroke-width="0.6"/>
<line x1="126.20" y1="150.50" x2="133.00" y2="150.50" stroke="#555" stroke-width="0.6"/>
<line x1="126.20" y1="209.90" x2="130.60" y2="209.90" stroke="#555" stroke-width="0.6"/>
<line x1="130.60" y1="170.60" x2="130.60" y2="228.20" stroke="#555" stroke-width="0.6"/>
<line x1="130.60" y1="170.60" x2="133.00" y2="170.60" stroke="#555" stroke-width="0.6"/>
<line x1="131.50" y1="66.00" x2="131.50" y2="140.00" stroke="#555" stroke-width="0.6"/>
<line x1="213.50" y1="122.90" x2="213.50" y2="185.40" stroke="#555" stroke-width="0.6"/>
<line x1="213.50" y1="122.90" x2="221.20" y2="122.90" stroke="#555" stroke-width="0.6"/>
<line x1="213.50" y1="185.40" x2="223.60" y2="185.40" stroke="#555" stroke-width="0.6"/>
<line x1="221.20" y1="107.80" x2="221.20" y2="137.30" stroke="#555" stroke-width="0.6"/>
<line x1="221.20" y1="107.80" x2="225.60" y2="107.80" stroke="#555" stroke-width="0.6"/>
<line x1="221.20" y1="137.30" x2="228.00" y2="137.30" stroke="#555" stroke-width="0.6"/>
<line x1="225.60" y1="94.00" x2="225.60" y2="121.60" stroke="#555" stroke-width="0.6"/>
<line x1="227.50" y1="83.00" x2="227.50" y2="100.00" stroke="#555" stroke-width="0.6"/>
<line x1="227.50" y1="83.00" x2="230.00" y2="83.00" stroke="#555" stroke-width="0.6"/>
<line x1="223.60" y1="161.80" x2="223.60" y2="209.20" stroke="#555" stroke-width="0.6"/>
<line x1="223.60" y1="161.80" x2="226.00" y2="161.80" stroke="#555" stroke-width="0.6"/>
<line x1="223.60" y1="209.20" x2="228.00" y2="209.20" stroke="#555" stroke-width="0.6"/>
<line x1="225.60" y1="152.20" x2="225.60" y2="172.50" stroke="#555" stroke-width="0.6"/>
<line x1="225.60" y1="152.20" x2="231.00" y2="152.20" stroke="#555" stroke-width="0.6"/>
<line x1="228.20" y1="196.00" x2="228.20" y2="228.90" stroke="#555" stroke-width="0.6"/>
<line x1="34.78" y1="65.20" x2="34.78" y2="69.74" stroke="#666" stroke-width="0.5"/>
<line x1="34.78" y1="65.20" x2="36.70" y2="65.20" stroke="#777" stroke-width="0.45"/>
<line x1="34.78" y1="69.74" x2="36.70" y2="69.74" stroke="#777" stroke-width="0.45"/>
<line x1="34.88" y1="72.55" x2="34.88" y2="77.14" stroke="#666" stroke-width="0.5"/>
<line x1="34.88" y1="72.55" x2="36.70" y2="72.55" stroke="#777" stroke-width="0.45"/>
<line x1="34.88" y1="77.14" x2="36.70" y2="77.14" stroke="#777" stroke-width="0.45"/>
<line x1="34.88" y1="79.11" x2="34.88" y2="82.44" stroke="#666" stroke-width="0.5"/>
<line x1="34.88" y1="79.11" x2="36.70" y2="79.11" stroke="#777" stroke-width="0.45"/>
<line x1="34.88" y1="82.44" x2="36.70" y2="82.44" stroke="#777" stroke-width="0.45"/>
<line x1="35.71" y1="84.52" x2="35.71" y2="90.58" stroke="#666" stroke-width="0.5"/>
<line x1="35.71" y1="84.52" x2="36.70" y2="84.52" stroke="#777" stroke-width="0.45"/>
<line x1="35.71" y1="90.58" x2="36.70" y2="90.58" stroke="#777" stroke-width="0.45"/>
<line x1="34.28" y1="91.84" x2="34.28" y2="94.75" stroke="#666" stroke-width="0.5"/>
<line x1="34.28" y1="91.84" x2="36.70" y2="91.84" stroke="#777" stroke-width="0.45"/>
<line x1="34.28" y1="94.75" x2="36.70" y2="94.75" stroke="#777" stroke-width="0.45"/>
<line x1="33.94" y1="96.98" x2="33.94" y2="99.67" stroke="#666" stroke-width="0.5"/>
<line x1="33.94" y1="96.98" x2="36.70" y2="96.98" stroke="#777" stroke-width="0.45"/>
<line x1="33.94" y1="99.67" x2="36.70" y2="99.67" stroke="#777" stroke-width="0.45"/>
<line x1="34.67" y1="102.58" x2="34.67" y2="108.03" stroke="#666" stroke-width="0.5"/>
<line x1="34.67" y1="102.58" x2="36.70" y2="102.58" stroke="#777" stroke-width="0.45"/>
<line x1="34.67" y1="108.03" x2="36.70" y2="108.03" stroke="#777" stroke-width="0.45"/>
<line x1="34.84" y1="108.92" x2="34.84" y2="111.49" stroke="#666" stroke-width="0.5"/>
<line x1="34.84" y1="108.92" x2="36.70" y2="108.92" stroke="#777" stroke-width="0.45"/>
<line x1="34.84" y1="111.49" x2="36.70" y2="111.49" stroke="#777" stroke-width="0.45"/>
<line x1="35.42" y1="112.14" x2="35.42" y2="115.49" stroke="#666" stroke-width="0.5"/>
<line x1="35.42" y1="112.14" x2="36.70" y2="112.14" stroke="#777" stroke-width="0.45"/>
<line x1="35.42" y1="115.49" x2="36.70" y2="115.49" stroke="#777" stroke-width="0.45"/>
<line x1="35.02" y1="116.07" x2="35.02" y2="120.66" stroke="#666" stroke-width="0.5"/>
<line x1="35.02" y1="116.07" x2="36.70" y2="116.07" stroke="#777" stroke-width="0.45"/>
<line x1="35.02" y1="120.66" x2="36.70" y2="120.66" stroke="#777" stroke-width="0.45"/>
<line x1="34.62" y1="123.26" x2="34.62" y2="128.10" stroke="#666" stroke-width="0.5"/>
<line x1="34.62" y1="123.26" x2="36.70" y2="123.26" stroke="#777" stroke-width="0.45"/>
<line x1="34.62" y1="128.10" x2="36.70" y2="128.10" stroke="#777" stroke-width="0.45"/>
<line x1="34.99" y1="129.85" x2="34.99" y2="135.33" stroke="#666" stroke-width="0.5"/>
<line x1="34.99" y1="129.85" x2="36.70" y2="129.85" stroke="#777" stroke-width="0.45"/>
<line x1="34.99" y1="135.33" x2="36.70" y2="135.33" stroke="#777" stroke-width="0.45"/>
<line x1="33.91" y1="136.52" x2="33.91" y2="143.51" stroke="#666" stroke-width="0.5"/>
<line x1="33.91" y1="136.52" x2="36.70" y2="136.52" stroke="#777" stroke-width="0.45"/>
<line x1="33.91" y1="143.51" x2="36.70" y2="143.51" stroke="#777" stroke-width="0.45"/>
<line x1="35.27" y1="146.11" x2="35.27" y2="151.80" stroke="#666" stroke-width="0.5"/>
<line x1="35.27" y1="146.11" x2="36.70" y2="146.11" stroke="#777" stroke-width="0.45"/>
<line x1="35.27" y1="151.80" x2="36.70" y2="151.80" stroke="#777" stroke-width="0.45"/>
<line x1="35.76" y1="152.87" x2="35.76" y2="156.67" stroke="#666" stroke-width="0.5"/>
<line x1="35.76" y1="152.87" x2="36.70" y2="152.87" stroke="#777" stroke-width="0.45"/>
<line x1="35.76" y1="156.67" x2="36.70" y2="156.67" stroke="#777" stroke-width="0.45"/>
<line x1="34.21" y1="159.09" x2="34.21" y2="163.39" stroke="#666" stroke-width="0.5"/>
<line x1="34.21" y1="159.09" x2="36.70" y2="159.09" stroke="#777" stroke-width="0.45"/>
<line x1="34.21" y1="163.39" x2="36.70" y2="163.39" stroke="#777" stroke-width="0.45"/>
<line x1="34.21" y1="164.86" x2="34.21" y2="171.67" stroke="#666" stroke-width="0.5"/>
<line x1="34.21" y1="164.86" x2="36.70" y2="164.86" stroke="#777" stroke-width="0.45"/>
<line x1="34.21" y1="171.67" x2="36.70" y2="171.67" stroke="#777" stroke-width="0.45"/>
<line x1="34.08" y1="172.17" x2="34.08" y2="175.61" stroke="#666" stroke-width="0.5"/>
<line x1="34.08" y1="172.17" x2="36.70" y2="172.17" stroke="#777" stroke-width="0.45"/>
<line x1="34.08" y1="175.61" x2="36.70" y2="175.61" stroke="#777" stroke-width="0.45"/>
<line x1="35.11" y1="177.29" x2="35.11" y2="184.20" stroke="#666" stroke-width="0.5"/>
<line x1="35.11" y1="177.29" x2="36.70" y2="177.29" stroke="#777" stroke-width="0.45"/>
<line x1="35.11" y1="184.20" x2="36.70" y2="184.20" stroke="#777" stroke-width="0.45"/>
<line x1="34.34" y1="184.88" x2="34.34" y2="190.22" stroke="#666" stroke-width="0.5"/>
<line x1="34.34" y1="184.88" x2="36.70" y2="184.88" stroke="#777" stroke-width="0.45"/>
<line x1="34.34" y1="190.22" x2="36.70" y2="190.22" stroke="#777" stroke-width="0.45"/>
<line x1="35.23" y1="191.39" x2="35.23" y2="194.28" stroke="#666" stroke-width="0.5"/>
<line x1="35.23" y1="191.39" x2="36.70" y2="191.39" stroke="#777" stroke-width="0.45"/>
<line x1="35.23" y1="194.28" x2="36.70" y2="194.28" stroke="#777" stroke-width="0.45"/>
<line x1="35.66" y1="197.19" x2="35.66" y2="203.10" stroke="#666" stroke-width="0.5"/>
<line x1="35.66" y1="197.19" x2="36.70" y2="197.19" stroke="#777" stroke-width="0.45"/>
<line x1="35.66" y1="203.10" x2="36.70" y2="203.10" stroke="#777" stroke-width="0.45"/>
<line x1="35.78" y1="204.22" x2="35.78" y2="207.17" stroke="#666" stroke-width="0.5"/>
<line x1="35.78" y1="204.22" x2="36.70" y2="204.22" stroke="#777" stroke-width="0.45"/>
<line x1="35.78" y1="207.17" x2="36.70" y2="207.17" stroke="#777" stroke-width="0.45"/>
<line x1="34.78" y1="209.67" x2="34.78" y2="212.97" stroke="#666" stroke-width="0.5"/>
<line x1="34.78" y1="209.67" x2="36.70" y2="209.67" stroke="#777" stroke-width="0.45"/>
<line x1="34.78" y1="212.97" x2="36.70" y2="212.97" stroke="#777" stroke-width="0.45"/>
<line x1="34.44" y1="214.59" x2="34.44" y2="217.94" stroke="#666" stroke-width="0.5"/>
<line x1="34.44" y1="214.59" x2="36.70" y2="214.59" stroke="#777" stroke-width="0.45"/>
<line x1="34.44" y1="217.94" x2="36.70" y2="217.94" stroke="#777" stroke-width="0.45"/>
<line x1="35.67" y1="218.77" x2="35.67" y2="224.17" stroke="#666" stroke-width="0.5"/>
<line x1="35.67" y1="218.77" x2="36.70" y2="218.77" stroke="#777" stroke-width="0.45"/>
<line x1="35.67" y1="224.17" x2="36.70" y2="224.17" stroke="#777" stroke-width="0.45"/>
<line x1="35.36" y1="225.72" x2="35.36" y2="229.18" stroke="#666" stroke-width="0.5"/>
<line x1="35.36" y1="225.72" x2="36.70" y2="225.72" stroke="#777" stroke-width="0.45"/>
<line x1="35.36" y1="229.18" x2="36.70" y2="229.18" stroke="#777" stroke-width="0.45"/>
<line x1="132.99" y1="65.60" x2="132.99" y2="71.72" stroke="#666" stroke-width="0.5"/>
<line x1="132.99" y1="65.60" x2="134.40" y2="65.60" stroke="#777" stroke-width="0.45"/>
<line x1="132.99" y1="71.72" x2="134.40" y2="71.72" stroke="#777" stroke-width="0.45"/>
<line x1="132.81" y1="74.43" x2="132.81" y2="77.88" stroke="#666" stroke-width="0.5"/>
<line x1="132.81" y1="74.43" x2="134.40" y2="74.43" stroke="#777" stroke-width="0.45"/>
<line x1="132.81" y1="77.88" x2="134.40" y2="77.88" stroke="#777" stroke-width="0.45"/>
<line x1="133.40" y1="80.51" x2="133.40" y2="85.90" stroke="#666" stroke-width="0.5"/>
<line x1="133.40" y1="80.51" x2="134.40" y2="80.51" stroke="#777" stroke-width="0.45"/>
<line x1="133.40" y1="85.90" x2="134.40" y2="85.90" stroke="#777" stroke-width="0.45"/>
<line x1="133.08" y1="88.87" x2="133.08" y2="92.33" stroke="#666" stroke-width="0.5"/>
<line x1="133.08" y1="88.87" x2="134.40" y2="88.87" stroke="#777" stroke-width="0.45"/>
<line x1="133.08" y1="92.33" x2="134.40" y2="92.33" stroke="#777" stroke-width="0.45"/>
<line x1="133.01" y1="94.76" x2="133.01" y2="98.74" stroke="#666" stroke-width="0.5"/>
<line x1="133.01" y1="94.76" x2="134.40" y2="94.76" stroke="#777" stroke-width="0.45"/>
<line x1="133.01" y1="98.74" x2="134.40" y2="98.74" stroke="#777" stroke-width="0.45"/>
<line x1="132.43" y1="99.43" x2="132.43" y2="102.33" stroke="#666" stroke-width="0.5"/>
<line x1="132.43" y1="99.43" x2="134.40" y2="99.43" stroke="#777" stroke-width="0.45"/>
<line x1="132.43" y1="102.33" x2="134.40" y2="102.33" stroke="#777" stroke-width="0.45"/>
<line x1="132.86" y1="103.44" x2="132.86" y2="108.65" stroke="#666" stroke-width="0.5"/>
<line x1="132.86" y1="103.44" x2="134.40" y2="103.44" stroke="#777" stroke-width="0.45"/>
<line x1="132.86" y1="108.65" x2="134.40" y2="108.65" stroke="#777" stroke-width="0.45"/>
<line x1="132.63" y1="110.28" x2="132.63" y2="117.10" stroke="#666" stroke-width="0.5"/>
<line x1="132.63" y1="110.28" x2="134.40" y2="110.28" stroke="#777" stroke-width="0.45"/>
<line x1="132.63" y1="117.10" x2="134.40" y2="117.10" stroke="#777" stroke-width="0.45"/>
<line x1="133.23" y1="119.03" x2="133.23" y2="125.43" stroke="#666" stroke-width="0.5"/>
<line x1="133.23" y1="119.03" x2="134.40" y2="119.03" stroke="#777" stroke-width="0.45"/>
<line x1="133.23" y1="125.43" x2="134.40" y2="125.43" stroke="#777" stroke-width="0.45"/>
<line x1="131.96" y1="126.32" x2="131.96" y2="132.91" stroke="#666" stroke-width="0.5"/>
<line x1="131.96" y1="126.32" x2="134.40" y2="126.32" stroke="#777" stroke-width="0.45"/>
<line x1="131.96" y1="132.91" x2="134.40" y2="132.91" stroke="#777" stroke-width="0.45"/>
<line x1="132.12" y1="134.03" x2="132.12" y2="137.38" stroke="#666" stroke-width="0.5"/>
<line x1="132.12" y1="134.03" x2="134.40" y2="134.03" stroke="#777" stroke-width="0.45"/>
<line x1="132.12" y1="137.38" x2="134.40" y2="137.38" stroke="#777" stroke-width="0.45"/>
<line x1="131.70" y1="140.23" x2="131.70" y2="143.62" stroke="#666" stroke-width="0.5"/>
<line x1="131.70" y1="140.23" x2="134.40" y2="140.23" stroke="#777" stroke-width="0.45"/>
<line x1="131.70" y1="143.62" x2="134.40" y2="143.62" stroke="#777" stroke-width="0.45"/>
<line x1="132.76" y1="146.32" x2="132.76" y2="151.54" stroke="#666" stroke-width="0.5"/>
<line x1="132.76" y1="146.32" x2="134.40" y2="146.32" stroke="#777" stroke-width="0.45"/>
<line x1="132.76" y1="151.54" x2="134.40" y2="151.54" stroke="#777" stroke-width="0.45"/>
<line x1="131.67" y1="152.30" x2="131.67" y2="154.97" stroke="#666" stroke-width="0.5"/>
<line x1="131.67" y1="152.30" x2="134.40" y2="152.30" stroke="#777" stroke-width="0.45"/>
<line x1="131.67" y1="154.97" x2="134.40" y2="154.97" stroke="#777" stroke-width="0.45"/>
<line x1="133.09" y1="156.07" x2="133.09" y2="161.74" stroke="#666" stroke-width="0.5"/>
<line x1="133.09" y1="156.07" x2="134.40" y2="156.07" stroke="#777" stroke-width="0.45"/>
<line x1="133.09" y1="161.74" x2="134.40" y2="161.74" stroke="#777" stroke-width="0.45"/>
<line x1="133.01" y1="164.30" x2="133.01" y2="169.48" stroke="#666" stroke-width="0.5"/>
<line x1="133.01" y1="164.30" x2="134.40" y2="164.30" stroke="#777" stroke-width="0.45"/>
<line x1="133.01" y1="169.48" x2="134.40" y2="169.48" stroke="#777" stroke-width="0.45"/>
<line x1="133.46" y1="170.42" x2="133.46" y2="176.16" stroke="#666" stroke-width="0.5"/>
<line x1="133.46" y1="170.42" x2="134.40" y2="170.42" stroke="#777" stroke-width="0.45"/>
<line x1="133.46" y1="176.16" x2="134.40" y2="176.16" stroke="#777" stroke-width="0.45"/>
<line x1="131.90" y1="177.24" x2="131.90" y2="182.25" stroke="#666" stroke-width="0.5"/>
<line x1="131.90" y1="177.24" x2="134.40" y2="177.24" stroke="#777" stroke-width="0.45"/>
<line x1="131.90" y1="182.25" x2="134.40" y2="182.25" stroke="#777" stroke-width="0.45"/>
<line x1="131.77" y1="184.29" x2="131.77" y2="188.05" stroke="#666" stroke-width="0.5"/>
<line x1="131.77" y1="184.29" x2="134.40" y2="184.29" stroke="#777" stroke-width="0.45"/>
<line x1="131.77" y1="188.05" x2="134.40" y2="188.05" stroke="#777" stroke-width="0.45"/>
<line x1="133.06" y1="189.06" x2="133.06" y2="191.63" stroke="#666" stroke-width="0.5"/>
<line x1="133.06" y1="189.06" x2="134.40" y2="189.06" stroke="#777" stroke-width="0.45"/>
<line x1="133.06" y1="191.63" x2="134.40" y2="191.63" stroke="#777" stroke-width="0.45"/>
<line x1="133.25" y1="193.25" x2="133.25" y2="196.02" stroke="#666" stroke-width="0.5"/>
<line x1="133.25" y1="193.25" x2="134.40" y2="193.25" stroke="#777" stroke-width="0.45"/>
<line x1="133.25" y1="196.02" x2="134.40" y2="196.02" stroke="#777" stroke-width="0.45"/>
<line x1="133.34" y1="197.44" x2="133.34" y2="202.52" stroke="#666" stroke-width="0.5"/>
<line x1="133.34" y1="197.44" x2="134.40" y2="197.44" stroke="#777" stroke-width="0.45"/>
<line x1="133.34" y1="202.52" x2="134.40" y2="202.52" stroke="#777" stroke-width="0.45"/>
<line x1="131.64" y1="203.92" x2="131.64" y2="210.43" stroke="#666" stroke-width="0.5"/>
<line x1="131.64" y1="203.92" x2="134.40" y2="203.92" stroke="#777" stroke-width="0.45"/>
<line x1="131.64" y1="210.43" x2="134.40" y2="210.43" stroke="#777" stroke-width="0.45"/>
<line x1="132.43" y1="212.57" x2="132.43" y2="218.18" stroke="#666" stroke-width="0.5"/>
<line x1="132.43" y1="212.57" x2="134.40" y2="212.57" stroke="#777" stroke-width="0.45"/>
<line x1="132.43" y1="218.18" x2="134.40" y2="218.18" stroke="#777" stroke-width="0.45"/>
<line x1="133.56" y1="219.03" x2="133.56" y2="221.69" stroke="#666" stroke-width="0.5"/>
<line x1="133.56" y1="219.03" x2="134.40" y2="219.03" stroke="#777" stroke-width="0.45"/>
<line x1="133.56" y1="221.69" x2="134.40" y2="221.69" stroke="#777" stroke-width="0.45"/>
<line x1="131.67" y1="224.47" x2="131.67" y2="230.12" stroke="#666" stroke-width="0.5"/>
<line x1="131.67" y1="224.47" x2="134.40" y2="224.47" stroke="#777" stroke-width="0.45"/>
<line x1="131.67" y1="230.12" x2="134.40" y2="230.12" stroke="#777" stroke-width="0.45"/>
<line x1="230.14" y1="67.00" x2="230.14" y2="72.36" stroke="#666" stroke-width="0.5"/>
<line x1="230.14" y1="67.00" x2="231.90" y2="67.00" stroke="#777" stroke-width="0.45"/>
<line x1="230.14" y1="72.36" x2="231.90" y2="72.36" stroke="#777" stroke-width="0.45"/>
<line x1="229.10" y1="74.69" x2="229.10" y2="78.62" stroke="#666" stroke-width="0.5"/>
<line x1="229.10" y1="74.69" x2="231.90" y2="74.69" stroke="#777" stroke-width="0.45"/>
<line x1="229.10" y1="78.62" x2="231.90" y2="78.62" stroke="#777" stroke-width="0.45"/>
<line x1="229.63" y1="79.31" x2="229.63" y2="84.27" stroke="#666" stroke-width="0.5"/>
<line x1="229.63" y1="79.31" x2="231.90" y2="79.31" stroke="#777" stroke-width="0.45"/>
<line x1="229.63" y1="84.27" x2="231.90" y2="84.27" stroke="#777" stroke-width="0.45"/>
<line x1="229.69" y1="87.02" x2="229.69" y2="92.84" stroke="#666" stroke-width="0.5"/>
<line x1="229.69" y1="87.02" x2="231.90" y2="87.02" stroke="#777" stroke-width="0.45"/>
<line x1="229.69" y1="92.84" x2="231.90" y2="92.84" stroke="#777" stroke-width="0.45"/>
<line x1="230.40" y1="95.32" x2="230.40" y2="101.94" stroke="#666" stroke-width="0.5"/>
<line x1="230.40" y1="95.32" x2="231.90" y2="95.32" stroke="#777" stroke-width="0.45"/>
<line x1="230.40" y1="101.94" x2="231.90" y2="101.94" stroke="#777" stroke-width="0.45"/>
<line x1="229.36" y1="104.15" x2="229.36" y2="110.70" stroke="#666" stroke-width="0.5"/>
<line x1="229.36" y1="104.15" x2="231.90" y2="104.15" stroke="#777" stroke-width="0.45"/>
<line x1="229.36" y1="110.70" x2="231.90" y2="110.70" stroke="#777" stroke-width="0.45"/>
<line x1="229.37" y1="112.25" x2="229.37" y2="118.30" stroke="#666" stroke-width="0.5"/>
<line x1="229.37" y1="112.25" x2="231.90" y2="112.25" stroke="#777" stroke-width="0.45"/>
<line x1="229.37" y1="118.30" x2="231.90" y2="118.30" stroke="#777" stroke-width="0.45"/>
<line x1="230.34" y1="120.24" x2="230.34" y2="125.55" stroke="#666" stroke-width="0.5"/>
<line x1="230.34" y1="120.24" x2="231.90" y2="120.24" stroke="#777" stroke-width="0.45"/>
<line x1="230.34" y1="125.55" x2="231.90" y2="125.55" stroke="#777" stroke-width="0.45"/>
<line x1="230.94" y1="127.51" x2="230.94" y2="132.75" stroke="#666" stroke-width="0.5"/>
<line x1="230.94" y1="127.51" x2="231.90" y2="127.51" stroke="#777" stroke-width="0.45"/>
<line x1="230.94" y1="132.75" x2="231.90" y2="132.75" stroke="#777" stroke-width="0.45"/>
<line x1="229.34" y1="134.84" x2="229.34" y2="141.81" stroke="#666" stroke-width="0.5"/>
<line x1="229.34" y1="134.84" x2="231.90" y2="134.84" stroke="#777" stroke-width="0.45"/>
<line x1="229.34" y1="141.81" x2="231.90" y2="141.81" stroke="#777" stroke-width="0.45"/>
<line x1="229.63" y1="144.13" x2="229.63" y2="148.38" stroke="#666" stroke-width="0.5"/>
<line x1="229.63" y1="144.13" x2="231.90" y2="144.13" stroke="#777" stroke-width="0.45"/>
<line x1="229.63" y1="148.38" x2="231.90" y2="148.38" stroke="#777" stroke-width="0.45"/>
<line x1="229.42" y1="150.33" x2="229.42" y2="154.82" stroke="#666" stroke-width="0.5"/>
<line x1="229.42" y1="150.33" x2="231.90" y2="150.33" stroke="#777" stroke-width="0.45"/>
<line x1="229.42" y1="154.82" x2="231.90" y2="154.82" stroke="#777" stroke-width="0.45"/>
<line x1="231.04" y1="155.53" x2="231.04" y2="161.40" stroke="#666" stroke-width="0.5"/>
<line x1="231.04" y1="155.53" x2="231.90" y2="155.53" stroke="#777" stroke-width="0.45"/>
<line x1="231.04" y1="161.40" x2="231.90" y2="161.40" stroke="#777" stroke-width="0.45"/>
<line x1="230.64" y1="163.41" x2="230.64" y2="168.07" stroke="#666" stroke-width="0.5"/>
<line x1="230.64" y1="163.41" x2="231.90" y2="163.41" stroke="#777" stroke-width="0.45"/>
<line x1="230.64" y1="168.07" x2="231.90" y2="168.07" stroke="#777" stroke-width="0.45"/>
<line x1="229.87" y1="170.32" x2="229.87" y2="175.05" stroke="#666" stroke-width="0.5"/>
<line x1="229.87" y1="170.32" x2="231.90" y2="170.32" stroke="#777" stroke-width="0.45"/>
<line x1="229.87" y1="175.05" x2="231.90" y2="175.05" stroke="#777" stroke-width="0.45"/>
<line x1="231.08" y1="177.85" x2="231.08" y2="181.51" stroke="#666" stroke-width="0.5"/>
<line x1="231.08" y1="177.85" x2="231.90" y2="177.85" stroke="#777" stroke-width="0.45"/>
<line x1="231.08" y1="181.51" x2="231.90" y2="181.51" stroke="#777" stroke-width="0.45"/>
<line x1="230.69" y1="182.76" x2="230.69" y2="188.31" stroke="#666" stroke-width="0.5"/>
<line x1="230.69" y1="182.76" x2="231.90" y2="182.76" stroke="#777" stroke-width="0.45"/>
<line x1="230.69" y1="188.31" x2="231.90" y2="188.31" stroke="#777" stroke-width="0.45"/>
<line x1="229.78" y1="189.23" x2="229.78" y2="195.81" stroke="#666" stroke-width="0.5"/>
<line x1="229.78" y1="189.23" x2="231.90" y2="189.23" stroke="#777" stroke-width="0.45"/>
<line x1="229.78" y1="195.81" x2="231.90" y2="195.81" stroke="#777" stroke-width="0.45"/>
<line x1="230.45" y1="197.41" x2="230.45" y2="203.93" stroke="#666" stroke-width="0.5"/>
<line x1="230.45" y1="197.41" x2="231.90" y2="197.41" stroke="#777" stroke-width="0.45"/>
<line x1="230.45" y1="203.93" x2="231.90" y2="203.93" stroke="#777" stroke-width="0.45"/>
<line x1="230.24" y1="206.09" x2="230.24" y2="209.49" stroke="#666" stroke-width="0.5"/>
<line x1="230.24" y1="206.09" x2="231.90" y2="206.09" stroke="#777" stroke-width="0.45"/>
<line x1="230.24" y1="209.49" x2="231.90" y2="209.49" stroke="#777" stroke-width="0.45"/>
<line x1="229.34" y1="212.00" x2="229.34" y2="218.61" stroke="#666" stroke-width="0.5"/>
<line x1="229.34" y1="212.00" x2="231.90" y2="212.00" stroke="#777" stroke-width="0.45"/>
<line x1="229.34" y1="218.61" x2="231.90" y2="218.61" stroke="#777" stroke-width="0.45"/>
<line x1="230.47" y1="220.08" x2="230.47" y2="225.20" stroke="#666" stroke-width="0.5"/>
<line x1="230.47" y1="220.08" x2="231.90" y2="220.08" stroke="#777" stroke-width="0.45"/>
<line x1="230.47" y1="225.20" x2="231.90" y2="225.20" stroke="#777" stroke-width="0.45"/>
<line x1="229.43" y1="226.04" x2="229.43" y2="230.50" stroke="#666" stroke-width="0.5"/>
<line x1="229.43" y1="226.04" x2="231.90" y2="226.04" stroke="#777" stroke-width="0.45"/>
<line x1="229.43" y1="230.50" x2="231.90" y2="230.50" stroke="#777" stroke-width="0.45"/>
<line x1="36.60" y1="65.20" x2="36.60" y2="231.00" stroke="#222" stroke-width="1.3"/>
<line x1="34.90" y1="68.20" x2="34.90" y2="229.00" stroke="#777" stroke-width="0.6"/>
<line x1="134.30" y1="65.60" x2="134.30" y2="231.00" stroke="#222" stroke-width="1.3"/>
<line x1="132.60" y1="68.60" x2="132.60" y2="229.00" stroke="#777" stroke-width="0.6"/>
<line x1="231.80" y1="67.00" x2="231.80" y2="231.00" stroke="#222" stroke-width="1.3"/>
<line x1="230.10" y1="70.00" x2="230.10" y2="229.00" stroke="#777" stroke-width="0.6"/>
<text x="48.00" y="319.00" font-size="8.1" transform="rotate(-90 48.0 319.0)" fill="#1a1a1a" color="#1a1a1a">GATA1 RNAi, unstim.</text>
<text x="62.60" y="319.00" font-size="8.1" transform="rotate(-90 62.6 319.0)" fill="#1a1a1a" color="#1a1a1a">GATA1 RNAi, + 4OHT</text>
<text x="77.20" y="319.00" font-size="8.1" transform="rotate(-90 77.2 319.0)" fill="#1a1a1a" color="#1a1a1a">luc RNAi, unstim.</text>
<text x="91.90" y="319.00" font-size="8.1" transform="rotate(-90 91.9 319.0)" fill="#1a1a1a" color="#1a1a1a">luc RNAi, + 4OHT</text>
<text x="146.00" y="319.00" font-size="8.1" transform="rotate(-90 146.0 319.0)" fill="#1a1a1a" color="#1a1a1a">GATA1 RNAi, unstim.</text>
<text x="160.40" y="319.00" font-size="8.1" transform="rotate(-90 160.4 319.0)" fill="#1a1a1a" color="#1a1a1a">luc RNAi, unstim.</text>
<text x="174.60" y="319.00" font-size="8.1" transform="rotate(-90 174.6 319.0)" fill="#1a1a1a" color="#1a1a1a">GATA1 RNAi, + 4OHT</text>
<text x="189.30" y="319.00" font-size="8.1" transform="rotate(-90 189.3 319.0)" fill="#1a1a1a" color="#1a1a1a">luc RNAi, + 4OHT</text>
<text x="242.70" y="319.00" font-size="8.1" transform="rotate(-90 242.7 319.0)" fill="#1a1a1a" color="#1a1a1a">GATA1 RNAi, unstim.</text>
<text x="257.30" y="319.00" font-size="8.1" transform="rotate(-90 257.3 319.0)" fill="#1a1a1a" color="#1a1a1a">GATA1 RNAi, + 4OHT</text>
<text x="271.90" y="319.00" font-size="8.1" transform="rotate(-90 271.9 319.0)" fill="#1a1a1a" color="#1a1a1a">luc RNAi, unstim.</text>
<text x="286.50" y="319.00" font-size="8.1" transform="rotate(-90 286.5 319.0)" fill="#1a1a1a" color="#1a1a1a">luc RNAi, + 4OHT</text>
<defs><linearGradient id="cb" x1="0" y1="0" x2="0" y2="1"><stop offset="0" stop-color="#e81c10"/><stop offset="0.25" stop-color="#f87c00"/><stop offset="0.5" stop-color="#f6f000"/><stop offset="0.66" stop-color="#b0aa40"/><stop offset="0.8" stop-color="#807e74"/><stop offset="0.9" stop-color="#3030d0"/><stop offset="1" stop-color="#2020e0"/></linearGradient></defs>
<rect x="301.80" y="171.80" width="6.00" height="44.00" fill="url(#cb)"/>
<text x="305.50" y="166.50" font-size="7.5" text-anchor="middle" fill="#333" color="#333">high</text>
<text x="305.30" y="224.00" font-size="7.5" text-anchor="middle" fill="#333" color="#333">low</text>
<text x="336.70" y="45.60" font-size="14.4" font-weight="bold" fill="#000" color="#000">B</text>
<clipPath id="cr"><circle cx="371.8" cy="107.4" r="27.5"/></clipPath>
<clipPath id="cg"><circle cx="389.6" cy="136.8" r="28.6"/></clipPath>
<circle cx="371.8" cy="107.4" r="27.5" fill="#f85a5a" />
<circle cx="408.0" cy="104.8" r="28.8" fill="#2222e4" />
<circle cx="408.0" cy="104.8" r="28.8" fill="#c0125e" clip-path="url(#cr)"/>
<circle cx="389.6" cy="136.8" r="28.6" fill="#5cec56" />
<circle cx="371.8" cy="107.4" r="27.5" fill="#48c636" clip-path="url(#cg)"/>
<circle cx="408.0" cy="104.8" r="28.8" fill="#22b258" clip-path="url(#cg)"/>
<g clip-path="url(#cg)"><circle cx="408.0" cy="104.8" r="28.8" fill="#3cac3a" clip-path="url(#cr)"/></g>
<circle cx="371.8" cy="107.4" r="27.5" fill="none" stroke="#1a1a1a" stroke-width="0.9"/>
<circle cx="408.0" cy="104.8" r="28.8" fill="none" stroke="#1a1a1a" stroke-width="0.9"/>
<circle cx="389.6" cy="136.8" r="28.6" fill="none" stroke="#1a1a1a" stroke-width="0.9"/>
<ellipse cx="406.3" cy="102.6" rx="24.8" ry="9.0" transform="rotate(8.5 406.3 102.6)" fill="none" stroke="#000" stroke-width="1.6"/>
<ellipse cx="398.6" cy="121.1" rx="19.6" ry="8.6" transform="rotate(24.5 398.6 121.1)" fill="none" stroke="#000" stroke-width="1.6"/>
<line x1="432.00" y1="108.60" x2="439.19" y2="112.99" stroke="#000" stroke-width="1.0"/>
<path d="M443.80,115.80 L437.78,115.29 L440.60,110.68 Z" fill="#000"/>
<line x1="415.50" y1="131.20" x2="430.69" y2="138.15" stroke="#000" stroke-width="1.0"/>
<path d="M435.60,140.40 L429.57,140.61 L431.81,135.70 Z" fill="#000"/>
<text x="363.20" y="105.80" font-size="8.2" text-anchor="middle" font-weight="bold" fill="#1a1a1a" color="#1a1a1a">611</text>
<text x="390.30" y="101.40" font-size="8.2" text-anchor="middle" font-weight="bold" fill="#1a1a1a" color="#1a1a1a">129</text>
<text x="415.10" y="104.80" font-size="8.2" text-anchor="middle" font-weight="bold" fill="#1a1a1a" color="#1a1a1a">172</text>
<text x="390.30" y="120.50" font-size="8.2" text-anchor="middle" font-weight="bold" fill="#1a1a1a" color="#1a1a1a">50</text>
<text x="374.70" y="129.00" font-size="8.2" text-anchor="middle" font-weight="bold" fill="#1a1a1a" color="#1a1a1a">49</text>
<text x="405.00" y="128.50" font-size="8.2" text-anchor="middle" font-weight="bold" fill="#1a1a1a" color="#1a1a1a">67</text>
<text x="389.40" y="150.60" font-size="8.2" text-anchor="middle" font-weight="bold" fill="#1a1a1a" color="#1a1a1a">69</text>
<text x="364.60" y="66.30" font-size="8.2" text-anchor="middle" fill="#111" color="#111">GATA1 targets</text>
<text x="364.60" y="74.30" font-size="8.2" text-anchor="middle" fill="#111" color="#111">(839)</text>
<text x="436.80" y="67.70" font-size="8.2" text-anchor="middle" fill="#111" color="#111">STAT5 targets</text>
<text x="437.00" y="76.00" font-size="8.2" text-anchor="middle" fill="#111" color="#111">in luc RNAi (418)</text>
<text x="389.90" y="173.80" font-size="8.2" text-anchor="middle" fill="#111" color="#111">STAT5 targets</text>
<text x="389.80" y="182.30" font-size="8.2" text-anchor="middle" fill="#111" color="#111">in GATA1 RNAi (235)</text>
<text x="448.30" y="118.00" font-size="8.2" fill="#111" color="#111">GATA1-dependent</text>
<text x="444.20" y="127.00" font-size="8.2" fill="#111" color="#111">STAT5  targets (301)</text>
<text x="437.80" y="140.20" font-size="8.2" fill="#111" color="#111">GATA1-independent</text>
<text x="438.60" y="148.80" font-size="8.2" fill="#111" color="#111">STAT5 targets (117)</text>
<text x="1.40" y="345.60" font-size="14.2" font-weight="bold" fill="#000" color="#000">C</text>
<text x="182.00" y="341.20" font-size="8.2" text-anchor="middle" fill="#111" color="#111">erythroid-associated genes</text>
<line x1="28.60" y1="341.35" x2="28.60" y2="467.70" stroke="#000" stroke-width="0.9"/>
<line x1="28.60" y1="467.70" x2="356.50" y2="467.70" stroke="#000" stroke-width="1.0"/>
<line x1="26.90" y1="467.70" x2="28.60" y2="467.70" stroke="#000" stroke-width="0.7"/>
<text x="23.60" y="470.90" font-size="8.0" text-anchor="end" fill="#111" color="#111">0</text>
<line x1="26.90" y1="449.65" x2="28.60" y2="449.65" stroke="#000" stroke-width="0.7"/>
<text x="23.60" y="452.85" font-size="8.0" text-anchor="end" fill="#111" color="#111">1</text>
<line x1="26.90" y1="431.60" x2="28.60" y2="431.60" stroke="#000" stroke-width="0.7"/>
<text x="23.60" y="434.80" font-size="8.0" text-anchor="end" fill="#111" color="#111">2</text>
<line x1="26.90" y1="413.55" x2="28.60" y2="413.55" stroke="#000" stroke-width="0.7"/>
<text x="23.60" y="416.75" font-size="8.0" text-anchor="end" fill="#111" color="#111">3</text>
<line x1="26.90" y1="395.50" x2="28.60" y2="395.50" stroke="#000" stroke-width="0.7"/>
<text x="23.60" y="398.70" font-size="8.0" text-anchor="end" fill="#111" color="#111">4</text>
<line x1="26.90" y1="377.45" x2="28.60" y2="377.45" stroke="#000" stroke-width="0.7"/>
<text x="23.60" y="380.65" font-size="8.0" text-anchor="end" fill="#111" color="#111">5</text>
<line x1="26.90" y1="359.40" x2="28.60" y2="359.40" stroke="#000" stroke-width="0.7"/>
<text x="23.60" y="362.60" font-size="8.0" text-anchor="end" fill="#111" color="#111">6</text>
<line x1="26.90" y1="341.35" x2="28.60" y2="341.35" stroke="#000" stroke-width="0.7"/>
<text x="23.60" y="344.55" font-size="8.0" text-anchor="end" fill="#111" color="#111">7</text>
<rect x="29.30" y="449.65" width="3.15" height="18.05" fill="#ffffff" stroke="#000" stroke-width="0.55"/>
<rect x="32.45" y="448.03" width="3.15" height="19.67" fill="#000000" stroke="#000" stroke-width="0.55"/>
<rect x="35.60" y="462.65" width="3.15" height="5.05" fill="#c4c4c4" stroke="#000" stroke-width="0.55"/>
<rect x="38.75" y="462.65" width="3.15" height="5.05" fill="#808080" stroke="#000" stroke-width="0.55"/>
<line x1="28.50" y1="467.70" x2="28.50" y2="469.10" stroke="#000" stroke-width="0.6"/>
<text x="37.80" y="472.60" font-size="7.6" text-anchor="end" transform="rotate(-90 37.8 472.6)" fill="#111" color="#111">GATA1</text>
<rect x="43.52" y="449.65" width="3.15" height="18.05" fill="#ffffff" stroke="#000" stroke-width="0.55"/>
<rect x="46.67" y="450.55" width="3.15" height="17.15" fill="#000000" stroke="#000" stroke-width="0.55"/>
<rect x="49.82" y="431.60" width="3.15" height="36.10" fill="#c4c4c4" stroke="#000" stroke-width="0.55"/>
<rect x="52.97" y="436.11" width="3.15" height="31.59" fill="#808080" stroke="#000" stroke-width="0.55"/>
<line x1="42.72" y1="467.70" x2="42.72" y2="469.10" stroke="#000" stroke-width="0.6"/>
<text x="52.02" y="472.60" font-size="7.6" text-anchor="end" transform="rotate(-90 52.02 472.6)" fill="#111" color="#111">GATA2</text>
<rect x="57.74" y="449.65" width="3.15" height="18.05" fill="#ffffff" stroke="#000" stroke-width="0.55"/>
<rect x="60.89" y="447.84" width="3.15" height="19.86" fill="#000000" stroke="#000" stroke-width="0.55"/>
<rect x="64.04" y="461.38" width="3.15" height="6.32" fill="#c4c4c4" stroke="#000" stroke-width="0.55"/>
<rect x="67.19" y="461.38" width="3.15" height="6.32" fill="#808080" stroke="#000" stroke-width="0.55"/>
<line x1="56.94" y1="467.70" x2="56.94" y2="469.10" stroke="#000" stroke-width="0.6"/>
<text x="66.24" y="472.60" font-size="7.6" text-anchor="end" transform="rotate(-90 66.24000000000001 472.6)" fill="#111" color="#111">EPOR</text>
<rect x="71.96" y="449.65" width="3.15" height="18.05" fill="#ffffff" stroke="#000" stroke-width="0.55"/>
<rect x="75.11" y="439.72" width="3.15" height="27.98" fill="#000000" stroke="#000" stroke-width="0.55"/>
<rect x="78.26" y="455.43" width="3.15" height="12.27" fill="#c4c4c4" stroke="#000" stroke-width="0.55"/>
<rect x="81.41" y="453.26" width="3.15" height="14.44" fill="#808080" stroke="#000" stroke-width="0.55"/>
<line x1="71.16" y1="467.70" x2="71.16" y2="469.10" stroke="#000" stroke-width="0.6"/>
<text x="80.46" y="472.60" font-size="7.6" text-anchor="end" transform="rotate(-90 80.46000000000001 472.6)" fill="#111" color="#111">KLF1</text>
<rect x="86.18" y="449.65" width="3.15" height="18.05" fill="#ffffff" stroke="#000" stroke-width="0.55"/>
<rect x="89.33" y="446.22" width="3.15" height="21.48" fill="#000000" stroke="#000" stroke-width="0.55"/>
<rect x="92.48" y="447.84" width="3.15" height="19.86" fill="#c4c4c4" stroke="#000" stroke-width="0.55"/>
<rect x="95.63" y="446.04" width="3.15" height="21.66" fill="#808080" stroke="#000" stroke-width="0.55"/>
<line x1="85.38" y1="467.70" x2="85.38" y2="469.10" stroke="#000" stroke-width="0.6"/>
<text x="94.68" y="472.60" font-size="7.6" text-anchor="end" transform="rotate(-90 94.68 472.6)" fill="#111" color="#111">NFE2</text>
<rect x="100.40" y="449.65" width="3.15" height="18.05" fill="#ffffff" stroke="#000" stroke-width="0.55"/>
<rect x="103.55" y="451.45" width="3.15" height="16.25" fill="#000000" stroke="#000" stroke-width="0.55"/>
<rect x="106.70" y="458.13" width="3.15" height="9.57" fill="#c4c4c4" stroke="#000" stroke-width="0.55"/>
<rect x="109.85" y="459.22" width="3.15" height="8.48" fill="#808080" stroke="#000" stroke-width="0.55"/>
<line x1="99.60" y1="467.70" x2="99.60" y2="469.10" stroke="#000" stroke-width="0.6"/>
<text x="108.90" y="472.60" font-size="7.6" text-anchor="end" transform="rotate(-90 108.9 472.6)" fill="#111" color="#111">FOG1</text>
<rect x="114.62" y="449.65" width="3.15" height="18.05" fill="#ffffff" stroke="#000" stroke-width="0.55"/>
<rect x="117.77" y="458.86" width="3.15" height="8.84" fill="#000000" stroke="#000" stroke-width="0.55"/>
<rect x="120.92" y="458.86" width="3.15" height="8.84" fill="#c4c4c4" stroke="#000" stroke-width="0.55"/>
<rect x="124.07" y="464.09" width="3.15" height="3.61" fill="#808080" stroke="#000" stroke-width="0.55"/>
<line x1="113.82" y1="467.70" x2="113.82" y2="469.10" stroke="#000" stroke-width="0.6"/>
<text x="123.12" y="472.60" font-size="7.6" text-anchor="end" transform="rotate(-90 123.12 472.6)" fill="#111" color="#111">FOG2</text>
<rect x="128.84" y="449.65" width="3.15" height="18.05" fill="#ffffff" stroke="#000" stroke-width="0.55"/>
<rect x="131.99" y="454.70" width="3.15" height="13.00" fill="#000000" stroke="#000" stroke-width="0.55"/>
<rect x="135.14" y="459.58" width="3.15" height="8.12" fill="#c4c4c4" stroke="#000" stroke-width="0.55"/>
<rect x="138.29" y="460.84" width="3.15" height="6.86" fill="#808080" stroke="#000" stroke-width="0.55"/>
<line x1="128.04" y1="467.70" x2="128.04" y2="469.10" stroke="#000" stroke-width="0.6"/>
<text x="137.34" y="472.60" font-size="7.6" text-anchor="end" transform="rotate(-90 137.34 472.6)" fill="#111" color="#111">KLF9</text>
<rect x="143.06" y="449.11" width="3.15" height="18.59" fill="#ffffff" stroke="#000" stroke-width="0.55"/>
<rect x="146.21" y="404.52" width="3.15" height="63.18" fill="#000000" stroke="#000" stroke-width="0.55"/>
<rect x="149.36" y="459.22" width="3.15" height="8.48" fill="#c4c4c4" stroke="#000" stroke-width="0.55"/>
<rect x="152.51" y="446.04" width="3.15" height="21.66" fill="#808080" stroke="#000" stroke-width="0.55"/>
<line x1="142.26" y1="467.70" x2="142.26" y2="469.10" stroke="#000" stroke-width="0.6"/>
<text x="151.56" y="472.60" font-size="7.6" text-anchor="end" transform="rotate(-90 151.56 472.6)" fill="#111" color="#111">CD36</text>
<rect x="157.28" y="449.65" width="3.15" height="18.05" fill="#ffffff" stroke="#000" stroke-width="0.55"/>
<rect x="160.43" y="448.39" width="3.15" height="19.31" fill="#000000" stroke="#000" stroke-width="0.55"/>
<rect x="163.58" y="460.12" width="3.15" height="7.58" fill="#c4c4c4" stroke="#000" stroke-width="0.55"/>
<rect x="166.73" y="460.12" width="3.15" height="7.58" fill="#808080" stroke="#000" stroke-width="0.55"/>
<line x1="156.48" y1="467.70" x2="156.48" y2="469.10" stroke="#000" stroke-width="0.6"/>
<text x="165.78" y="472.60" font-size="7.6" text-anchor="end" transform="rotate(-90 165.78 472.6)" fill="#111" color="#111">KEL</text>
<rect x="171.50" y="449.65" width="3.15" height="18.05" fill="#ffffff" stroke="#000" stroke-width="0.55"/>
<rect x="174.65" y="444.24" width="3.15" height="23.47" fill="#000000" stroke="#000" stroke-width="0.55"/>
<rect x="177.80" y="464.09" width="3.15" height="3.61" fill="#c4c4c4" stroke="#000" stroke-width="0.55"/>
<rect x="180.95" y="463.37" width="3.15" height="4.33" fill="#808080" stroke="#000" stroke-width="0.55"/>
<line x1="170.70" y1="467.70" x2="170.70" y2="469.10" stroke="#000" stroke-width="0.6"/>
<text x="180.00" y="472.60" font-size="7.6" text-anchor="end" transform="rotate(-90 180.00000000000003 472.6)" fill="#111" color="#111">SPTB</text>
<rect x="185.72" y="449.65" width="3.15" height="18.05" fill="#ffffff" stroke="#000" stroke-width="0.55"/>
<rect x="188.87" y="446.58" width="3.15" height="21.12" fill="#000000" stroke="#000" stroke-width="0.55"/>
<rect x="192.02" y="462.10" width="3.15" height="5.60" fill="#c4c4c4" stroke="#000" stroke-width="0.55"/>
<rect x="195.17" y="461.02" width="3.15" height="6.68" fill="#808080" stroke="#000" stroke-width="0.55"/>
<line x1="184.92" y1="467.70" x2="184.92" y2="469.10" stroke="#000" stroke-width="0.6"/>
<text x="194.22" y="472.60" font-size="7.6" text-anchor="end" transform="rotate(-90 194.22000000000003 472.6)" fill="#111" color="#111">PKLR</text>
<rect x="199.94" y="449.65" width="3.15" height="18.05" fill="#ffffff" stroke="#000" stroke-width="0.55"/>
<rect x="203.09" y="446.58" width="3.15" height="21.12" fill="#000000" stroke="#000" stroke-width="0.55"/>
<rect x="206.24" y="466.80" width="3.15" height="0.90" fill="#c4c4c4" stroke="#000" stroke-width="0.55"/>
<rect x="209.39" y="466.26" width="3.15" height="1.44" fill="#808080" stroke="#000" stroke-width="0.55"/>
<line x1="199.14" y1="467.70" x2="199.14" y2="469.10" stroke="#000" stroke-width="0.6"/>
<text x="208.44" y="472.60" font-size="7.6" text-anchor="end" transform="rotate(-90 208.44000000000003 472.6)" fill="#111" color="#111">ERAF</text>
<rect x="214.16" y="449.65" width="3.15" height="18.05" fill="#ffffff" stroke="#000" stroke-width="0.55"/>
<rect x="217.31" y="442.07" width="3.15" height="25.63" fill="#000000" stroke="#000" stroke-width="0.55"/>
<rect x="220.46" y="465.89" width="3.15" height="1.81" fill="#c4c4c4" stroke="#000" stroke-width="0.55"/>
<rect x="223.61" y="462.83" width="3.15" height="4.87" fill="#808080" stroke="#000" stroke-width="0.55"/>
<line x1="213.36" y1="467.70" x2="213.36" y2="469.10" stroke="#000" stroke-width="0.6"/>
<text x="222.66" y="472.60" font-size="7.6" text-anchor="end" transform="rotate(-90 222.66000000000003 472.6)" fill="#111" color="#111">HSPC159</text>
<rect x="228.38" y="449.65" width="3.15" height="18.05" fill="#ffffff" stroke="#000" stroke-width="0.55"/>
<rect x="231.53" y="360.30" width="3.15" height="107.40" fill="#000000" stroke="#000" stroke-width="0.55"/>
<rect x="234.68" y="467.16" width="3.15" height="0.54" fill="#c4c4c4" stroke="#000" stroke-width="0.55"/>
<rect x="237.83" y="464.09" width="3.15" height="3.61" fill="#808080" stroke="#000" stroke-width="0.55"/>
<line x1="227.58" y1="467.70" x2="227.58" y2="469.10" stroke="#000" stroke-width="0.6"/>
<text x="236.88" y="472.60" font-size="7.6" text-anchor="end" transform="rotate(-90 236.88000000000002 472.6)" fill="#111" color="#111">HBE1</text>
<rect x="242.60" y="449.65" width="3.15" height="18.05" fill="#ffffff" stroke="#000" stroke-width="0.55"/>
<rect x="245.75" y="449.65" width="3.15" height="18.05" fill="#000000" stroke="#000" stroke-width="0.55"/>
<rect x="248.90" y="466.44" width="3.15" height="1.26" fill="#c4c4c4" stroke="#000" stroke-width="0.55"/>
<rect x="252.05" y="462.83" width="3.15" height="4.87" fill="#808080" stroke="#000" stroke-width="0.55"/>
<line x1="241.80" y1="467.70" x2="241.80" y2="469.10" stroke="#000" stroke-width="0.6"/>
<text x="251.10" y="472.60" font-size="7.6" text-anchor="end" transform="rotate(-90 251.10000000000002 472.6)" fill="#111" color="#111">HBA2</text>
<rect x="256.82" y="449.65" width="3.15" height="18.05" fill="#ffffff" stroke="#000" stroke-width="0.55"/>
<rect x="259.97" y="448.39" width="3.15" height="19.31" fill="#000000" stroke="#000" stroke-width="0.55"/>
<rect x="263.12" y="461.02" width="3.15" height="6.68" fill="#c4c4c4" stroke="#000" stroke-width="0.55"/>
<rect x="266.27" y="455.43" width="3.15" height="12.27" fill="#808080" stroke="#000" stroke-width="0.55"/>
<line x1="256.02" y1="467.70" x2="256.02" y2="469.10" stroke="#000" stroke-width="0.6"/>
<text x="265.32" y="472.60" font-size="7.6" text-anchor="end" transform="rotate(-90 265.32 472.6)" fill="#111" color="#111">HBG1</text>
<rect x="271.04" y="449.65" width="3.15" height="18.05" fill="#ffffff" stroke="#000" stroke-width="0.55"/>
<rect x="274.19" y="439.18" width="3.15" height="28.52" fill="#000000" stroke="#000" stroke-width="0.55"/>
<rect x="277.34" y="461.38" width="3.15" height="6.32" fill="#c4c4c4" stroke="#000" stroke-width="0.55"/>
<rect x="280.49" y="458.68" width="3.15" height="9.03" fill="#808080" stroke="#000" stroke-width="0.55"/>
<line x1="270.24" y1="467.70" x2="270.24" y2="469.10" stroke="#000" stroke-width="0.6"/>
<text x="279.54" y="472.60" font-size="7.6" text-anchor="end" transform="rotate(-90 279.54 472.6)" fill="#111" color="#111">HBBP1</text>
<rect x="285.26" y="449.65" width="3.15" height="18.05" fill="#ffffff" stroke="#000" stroke-width="0.55"/>
<rect x="288.41" y="449.65" width="3.15" height="18.05" fill="#000000" stroke="#000" stroke-width="0.55"/>
<rect x="291.56" y="460.12" width="3.15" height="7.58" fill="#c4c4c4" stroke="#000" stroke-width="0.55"/>
<rect x="294.71" y="457.77" width="3.15" height="9.93" fill="#808080" stroke="#000" stroke-width="0.55"/>
<line x1="284.46" y1="467.70" x2="284.46" y2="469.10" stroke="#000" stroke-width="0.6"/>
<text x="293.76" y="472.60" font-size="7.6" text-anchor="end" transform="rotate(-90 293.76 472.6)" fill="#111" color="#111">HBQ1</text>
<rect x="299.48" y="449.65" width="3.15" height="18.05" fill="#ffffff" stroke="#000" stroke-width="0.55"/>
<rect x="302.63" y="450.19" width="3.15" height="17.51" fill="#000000" stroke="#000" stroke-width="0.55"/>
<rect x="305.78" y="460.12" width="3.15" height="7.58" fill="#c4c4c4" stroke="#000" stroke-width="0.55"/>
<rect x="308.93" y="454.70" width="3.15" height="13.00" fill="#808080" stroke="#000" stroke-width="0.55"/>
<line x1="298.68" y1="467.70" x2="298.68" y2="469.10" stroke="#000" stroke-width="0.6"/>
<text x="307.98" y="472.60" font-size="7.6" text-anchor="end" transform="rotate(-90 307.98 472.6)" fill="#111" color="#111">HBG2</text>
<rect x="313.70" y="449.65" width="3.15" height="18.05" fill="#ffffff" stroke="#000" stroke-width="0.55"/>
<rect x="316.85" y="411.20" width="3.15" height="56.50" fill="#000000" stroke="#000" stroke-width="0.55"/>
<rect x="320.00" y="464.63" width="3.15" height="3.07" fill="#c4c4c4" stroke="#000" stroke-width="0.55"/>
<rect x="323.15" y="447.84" width="3.15" height="19.86" fill="#808080" stroke="#000" stroke-width="0.55"/>
<line x1="312.90" y1="467.70" x2="312.90" y2="469.10" stroke="#000" stroke-width="0.6"/>
<text x="322.20" y="472.60" font-size="7.6" text-anchor="end" transform="rotate(-90 322.20000000000005 472.6)" fill="#111" color="#111">GYPA</text>
<rect x="327.92" y="449.65" width="3.15" height="18.05" fill="#ffffff" stroke="#000" stroke-width="0.55"/>
<rect x="331.07" y="368.42" width="3.15" height="99.28" fill="#000000" stroke="#000" stroke-width="0.55"/>
<rect x="334.22" y="452.18" width="3.15" height="15.52" fill="#c4c4c4" stroke="#000" stroke-width="0.55"/>
<rect x="337.37" y="418.06" width="3.15" height="49.64" fill="#808080" stroke="#000" stroke-width="0.55"/>
<line x1="327.12" y1="467.70" x2="327.12" y2="469.10" stroke="#000" stroke-width="0.6"/>
<text x="336.42" y="472.60" font-size="7.6" text-anchor="end" transform="rotate(-90 336.42 472.6)" fill="#111" color="#111">GYPB</text>
<rect x="342.14" y="449.65" width="3.15" height="18.05" fill="#ffffff" stroke="#000" stroke-width="0.55"/>
<rect x="345.29" y="377.99" width="3.15" height="89.71" fill="#000000" stroke="#000" stroke-width="0.55"/>
<rect x="348.44" y="447.30" width="3.15" height="20.40" fill="#c4c4c4" stroke="#000" stroke-width="0.55"/>
<rect x="351.59" y="407.23" width="3.15" height="60.47" fill="#808080" stroke="#000" stroke-width="0.55"/>
<line x1="341.34" y1="467.70" x2="341.34" y2="469.10" stroke="#000" stroke-width="0.6"/>
<text x="350.64" y="472.60" font-size="7.6" text-anchor="end" transform="rotate(-90 350.64000000000004 472.6)" fill="#111" color="#111">GYPE</text>
<text x="13.00" y="429.50" font-size="8.1" text-anchor="middle" transform="rotate(-90 13.0 429.5)" fill="#111" color="#111">rel. mRNA expression</text>
<rect x="46.50" y="347.60" width="5.80" height="3.50" fill="#ffffff" stroke="#000" stroke-width="0.6"/>
<text x="56.40" y="351.00" font-size="7.1" fill="#111" color="#111">luc RNAi, unstim.</text>
<rect x="46.50" y="354.50" width="5.80" height="3.50" fill="#000000" stroke="#000" stroke-width="0.6"/>
<text x="56.40" y="357.90" font-size="7.1" fill="#111" color="#111">luc RNAi, +4OHT</text>
<rect x="46.50" y="361.40" width="5.80" height="3.50" fill="#c4c4c4" stroke="#000" stroke-width="0.6"/>
<text x="56.40" y="364.80" font-size="7.1" fill="#111" color="#111">GATA1 RNAi, unstim.</text>
<rect x="46.50" y="368.30" width="5.80" height="3.50" fill="#808080" stroke="#000" stroke-width="0.6"/>
<text x="56.40" y="371.70" font-size="7.1" fill="#111" color="#111">GATA1 RNAi, +4OHT</text>
<text x="0.80" y="533.00" font-size="14.2" font-weight="bold" fill="#000" color="#000">D</text>
<text x="32.60" y="531.90" font-size="8.2" fill="#111" color="#111">known STAT5 target genes</text>
<text x="32.60" y="540.60" font-size="8.2" fill="#111" color="#111">(GATA1 independent)</text>
<line x1="27.10" y1="543.50" x2="27.10" y2="648.80" stroke="#000" stroke-width="0.9"/>
<line x1="27.10" y1="648.80" x2="129.00" y2="648.80" stroke="#000" stroke-width="1.0"/>
<line x1="25.40" y1="648.80" x2="27.10" y2="648.80" stroke="#000" stroke-width="0.7"/>
<text x="25.00" y="652.00" font-size="7.8" text-anchor="end" fill="#111" color="#111">0</text>
<line x1="25.40" y1="637.14" x2="27.10" y2="637.14" stroke="#000" stroke-width="0.7"/>
<text x="25.00" y="640.34" font-size="7.8" text-anchor="end" fill="#111" color="#111">2</text>
<line x1="25.40" y1="625.48" x2="27.10" y2="625.48" stroke="#000" stroke-width="0.7"/>
<text x="25.00" y="628.68" font-size="7.8" text-anchor="end" fill="#111" color="#111">4</text>
<line x1="25.40" y1="613.82" x2="27.10" y2="613.82" stroke="#000" stroke-width="0.7"/>
<text x="25.00" y="617.02" font-size="7.8" text-anchor="end" fill="#111" color="#111">6</text>
<line x1="25.40" y1="602.16" x2="27.10" y2="602.16" stroke="#000" stroke-width="0.7"/>
<text x="25.00" y="605.36" font-size="7.8" text-anchor="end" fill="#111" color="#111">8</text>
<line x1="25.40" y1="590.50" x2="27.10" y2="590.50" stroke="#000" stroke-width="0.7"/>
<text x="25.00" y="593.70" font-size="7.8" text-anchor="end" fill="#111" color="#111">10</text>
<line x1="25.40" y1="578.84" x2="27.10" y2="578.84" stroke="#000" stroke-width="0.7"/>
<text x="25.00" y="582.04" font-size="7.8" text-anchor="end" fill="#111" color="#111">12</text>
<line x1="25.40" y1="567.18" x2="27.10" y2="567.18" stroke="#000" stroke-width="0.7"/>
<text x="25.00" y="570.38" font-size="7.8" text-anchor="end" fill="#111" color="#111">14</text>
<line x1="25.40" y1="555.52" x2="27.10" y2="555.52" stroke="#000" stroke-width="0.7"/>
<text x="25.00" y="558.72" font-size="7.8" text-anchor="end" fill="#111" color="#111">16</text>
<line x1="25.40" y1="543.86" x2="27.10" y2="543.86" stroke="#000" stroke-width="0.7"/>
<text x="25.00" y="547.06" font-size="7.8" text-anchor="end" fill="#111" color="#111">18</text>
<rect x="27.90" y="642.39" width="3.70" height="6.41" fill="#ffffff" stroke="#000" stroke-width="0.55"/>
<rect x="31.60" y="604.49" width="3.70" height="44.31" fill="#000000" stroke="#000" stroke-width="0.55"/>
<rect x="35.30" y="630.44" width="3.70" height="18.36" fill="#c4c4c4" stroke="#000" stroke-width="0.55"/>
<rect x="39.00" y="561.35" width="3.70" height="87.45" fill="#808080" stroke="#000" stroke-width="0.55"/>
<line x1="27.10" y1="648.80" x2="27.10" y2="650.20" stroke="#000" stroke-width="0.6"/>
<text x="38.00" y="652.80" font-size="7.7" text-anchor="end" transform="rotate(-90 38.0 652.8)" fill="#111" color="#111">OSM</text>
<rect x="44.88" y="642.39" width="3.70" height="6.41" fill="#ffffff" stroke="#000" stroke-width="0.55"/>
<rect x="48.58" y="624.02" width="3.70" height="24.78" fill="#000000" stroke="#000" stroke-width="0.55"/>
<rect x="52.28" y="640.05" width="3.70" height="8.75" fill="#c4c4c4" stroke="#000" stroke-width="0.55"/>
<rect x="55.98" y="630.14" width="3.70" height="18.66" fill="#808080" stroke="#000" stroke-width="0.55"/>
<line x1="44.08" y1="648.80" x2="44.08" y2="650.20" stroke="#000" stroke-width="0.6"/>
<text x="54.98" y="652.80" font-size="7.7" text-anchor="end" transform="rotate(-90 54.98 652.8)" fill="#111" color="#111">CISH</text>
<rect x="61.86" y="641.80" width="3.70" height="7.00" fill="#ffffff" stroke="#000" stroke-width="0.55"/>
<rect x="65.56" y="567.47" width="3.70" height="81.33" fill="#000000" stroke="#000" stroke-width="0.55"/>
<rect x="69.26" y="640.35" width="3.70" height="8.45" fill="#c4c4c4" stroke="#000" stroke-width="0.55"/>
<rect x="72.96" y="579.42" width="3.70" height="69.38" fill="#808080" stroke="#000" stroke-width="0.55"/>
<line x1="61.06" y1="648.80" x2="61.06" y2="650.20" stroke="#000" stroke-width="0.6"/>
<text x="71.96" y="652.80" font-size="7.7" text-anchor="end" transform="rotate(-90 71.96 652.8)" fill="#111" color="#111">SOCS1</text>
<rect x="78.84" y="642.39" width="3.70" height="6.41" fill="#ffffff" stroke="#000" stroke-width="0.55"/>
<rect x="82.54" y="627.81" width="3.70" height="20.99" fill="#000000" stroke="#000" stroke-width="0.55"/>
<rect x="86.24" y="639.47" width="3.70" height="9.33" fill="#c4c4c4" stroke="#000" stroke-width="0.55"/>
<rect x="89.94" y="625.48" width="3.70" height="23.32" fill="#808080" stroke="#000" stroke-width="0.55"/>
<line x1="78.04" y1="648.80" x2="78.04" y2="650.20" stroke="#000" stroke-width="0.6"/>
<text x="88.94" y="652.80" font-size="7.7" text-anchor="end" transform="rotate(-90 88.94 652.8)" fill="#111" color="#111">PIM1</text>
<rect x="95.82" y="642.39" width="3.70" height="6.41" fill="#ffffff" stroke="#000" stroke-width="0.55"/>
<rect x="99.52" y="638.89" width="3.70" height="9.91" fill="#000000" stroke="#000" stroke-width="0.55"/>
<rect x="103.22" y="645.30" width="3.70" height="3.50" fill="#c4c4c4" stroke="#000" stroke-width="0.55"/>
<rect x="106.92" y="641.51" width="3.70" height="7.29" fill="#808080" stroke="#000" stroke-width="0.55"/>
<line x1="95.02" y1="648.80" x2="95.02" y2="650.20" stroke="#000" stroke-width="0.6"/>
<text x="105.92" y="652.80" font-size="7.7" text-anchor="end" transform="rotate(-90 105.91999999999999 652.8)" fill="#111" color="#111">CDKN1A</text>
<rect x="112.80" y="641.80" width="3.70" height="7.00" fill="#ffffff" stroke="#000" stroke-width="0.55"/>
<rect x="116.50" y="551.44" width="3.70" height="97.36" fill="#000000" stroke="#000" stroke-width="0.55"/>
<rect x="120.20" y="612.65" width="3.70" height="36.15" fill="#c4c4c4" stroke="#000" stroke-width="0.55"/>
<rect x="123.90" y="559.31" width="3.70" height="89.49" fill="#808080" stroke="#000" stroke-width="0.55"/>
<line x1="112.00" y1="648.80" x2="112.00" y2="650.20" stroke="#000" stroke-width="0.6"/>
<text x="122.90" y="652.80" font-size="7.7" text-anchor="end" transform="rotate(-90 122.9 652.8)" fill="#111" color="#111">MAF</text>
<text x="14.20" y="599.10" font-size="8.15" text-anchor="middle" transform="rotate(-90 14.2 599.1)" fill="#111" color="#111">rel. mRNA expression</text>
<text x="172.50" y="531.90" font-size="8.2" fill="#111" color="#111">known STAT5 target genes</text>
<text x="172.50" y="540.60" font-size="8.2" fill="#111" color="#111">(GATA1 dependent)</text>
<line x1="173.60" y1="544.30" x2="173.60" y2="649.30" stroke="#000" stroke-width="0.9"/>
<line x1="173.60" y1="649.30" x2="236.00" y2="649.30" stroke="#000" stroke-width="1.0"/>
<line x1="171.90" y1="649.30" x2="173.60" y2="649.30" stroke="#000" stroke-width="0.7"/>
<text x="171.80" y="652.70" font-size="8.3" text-anchor="end" fill="#111" color="#111">0</text>
<line x1="171.90" y1="628.30" x2="173.60" y2="628.30" stroke="#000" stroke-width="0.7"/>
<text x="171.80" y="631.70" font-size="8.3" text-anchor="end" fill="#111" color="#111">1</text>
<line x1="171.90" y1="607.30" x2="173.60" y2="607.30" stroke="#000" stroke-width="0.7"/>
<text x="171.80" y="610.70" font-size="8.3" text-anchor="end" fill="#111" color="#111">2</text>
<line x1="171.90" y1="586.30" x2="173.60" y2="586.30" stroke="#000" stroke-width="0.7"/>
<text x="171.80" y="589.70" font-size="8.3" text-anchor="end" fill="#111" color="#111">3</text>
<line x1="171.90" y1="565.30" x2="173.60" y2="565.30" stroke="#000" stroke-width="0.7"/>
<text x="171.80" y="568.70" font-size="8.3" text-anchor="end" fill="#111" color="#111">4</text>
<line x1="171.90" y1="544.30" x2="173.60" y2="544.30" stroke="#000" stroke-width="0.7"/>
<text x="171.80" y="547.70" font-size="8.3" text-anchor="end" fill="#111" color="#111">5</text>
<rect x="175.30" y="628.30" width="3.30" height="21.00" fill="#ffffff" stroke="#000" stroke-width="0.55"/>
<rect x="178.60" y="605.83" width="3.30" height="43.47" fill="#000000" stroke="#000" stroke-width="0.55"/>
<rect x="181.90" y="629.35" width="3.30" height="19.95" fill="#c4c4c4" stroke="#000" stroke-width="0.55"/>
<rect x="185.20" y="622.00" width="3.30" height="27.30" fill="#808080" stroke="#000" stroke-width="0.55"/>
<line x1="174.50" y1="649.30" x2="174.50" y2="650.70" stroke="#000" stroke-width="0.6"/>
<text x="184.20" y="653.00" font-size="7.7" text-anchor="end" transform="rotate(-90 184.20000000000002 653.0)" fill="#111" color="#111">PIM2</text>
<rect x="190.83" y="628.30" width="3.30" height="21.00" fill="#ffffff" stroke="#000" stroke-width="0.55"/>
<rect x="194.13" y="604.15" width="3.30" height="45.15" fill="#000000" stroke="#000" stroke-width="0.55"/>
<rect x="197.43" y="627.67" width="3.30" height="21.63" fill="#c4c4c4" stroke="#000" stroke-width="0.55"/>
<rect x="200.73" y="615.07" width="3.30" height="34.23" fill="#808080" stroke="#000" stroke-width="0.55"/>
<line x1="190.03" y1="649.30" x2="190.03" y2="650.70" stroke="#000" stroke-width="0.6"/>
<text x="199.73" y="653.00" font-size="7.7" text-anchor="end" transform="rotate(-90 199.73000000000002 653.0)" fill="#111" color="#111">BCL2L11</text>
<rect x="206.36" y="628.30" width="3.30" height="21.00" fill="#ffffff" stroke="#000" stroke-width="0.55"/>
<rect x="209.66" y="604.15" width="3.30" height="45.15" fill="#000000" stroke="#000" stroke-width="0.55"/>
<rect x="212.96" y="634.60" width="3.30" height="14.70" fill="#c4c4c4" stroke="#000" stroke-width="0.55"/>
<rect x="216.26" y="626.62" width="3.30" height="22.68" fill="#808080" stroke="#000" stroke-width="0.55"/>
<line x1="205.56" y1="649.30" x2="205.56" y2="650.70" stroke="#000" stroke-width="0.6"/>
<text x="215.26" y="653.00" font-size="7.7" text-anchor="end" transform="rotate(-90 215.26000000000002 653.0)" fill="#111" color="#111">LEPR</text>
<rect x="221.89" y="628.30" width="3.30" height="21.00" fill="#ffffff" stroke="#000" stroke-width="0.55"/>
<rect x="225.19" y="554.80" width="3.30" height="94.50" fill="#000000" stroke="#000" stroke-width="0.55"/>
<rect x="228.49" y="638.38" width="3.30" height="10.92" fill="#c4c4c4" stroke="#000" stroke-width="0.55"/>
<rect x="231.79" y="640.69" width="3.30" height="8.61" fill="#808080" stroke="#000" stroke-width="0.55"/>
<line x1="221.09" y1="649.30" x2="221.09" y2="650.70" stroke="#000" stroke-width="0.6"/>
<text x="230.79" y="653.00" font-size="7.7" text-anchor="end" transform="rotate(-90 230.79000000000002 653.0)" fill="#111" color="#111">BMP6</text>
<text x="163.40" y="600.90" font-size="8.25" text-anchor="middle" transform="rotate(-90 163.4 600.9)" fill="#111" color="#111">rel. mRNA expression</text>
<text x="294.80" y="532.80" font-size="14.2" font-weight="bold" fill="#000" color="#000">E</text>
<line x1="313.20" y1="543.60" x2="313.20" y2="649.30" stroke="#000" stroke-width="0.9"/>
<line x1="313.20" y1="649.30" x2="471.00" y2="649.30" stroke="#000" stroke-width="1.0"/>
<line x1="311.50" y1="649.30" x2="313.20" y2="649.30" stroke="#000" stroke-width="0.7"/>
<text x="311.40" y="652.40" font-size="8.5" text-anchor="end" fill="#111" color="#111">0</text>
<line x1="311.50" y1="634.46" x2="313.20" y2="634.46" stroke="#000" stroke-width="0.7"/>
<text x="311.40" y="637.56" font-size="8.5" text-anchor="end" fill="#111" color="#111">1</text>
<line x1="311.50" y1="619.62" x2="313.20" y2="619.62" stroke="#000" stroke-width="0.7"/>
<text x="311.40" y="622.72" font-size="8.5" text-anchor="end" fill="#111" color="#111">2</text>
<line x1="311.50" y1="604.78" x2="313.20" y2="604.78" stroke="#000" stroke-width="0.7"/>
<text x="311.40" y="607.88" font-size="8.5" text-anchor="end" fill="#111" color="#111">3</text>
<line x1="311.50" y1="589.94" x2="313.20" y2="589.94" stroke="#000" stroke-width="0.7"/>
<text x="311.40" y="593.04" font-size="8.5" text-anchor="end" fill="#111" color="#111">4</text>
<line x1="311.50" y1="575.10" x2="313.20" y2="575.10" stroke="#000" stroke-width="0.7"/>
<text x="311.40" y="578.20" font-size="8.5" text-anchor="end" fill="#111" color="#111">5</text>
<line x1="311.50" y1="560.26" x2="313.20" y2="560.26" stroke="#000" stroke-width="0.7"/>
<text x="311.40" y="563.36" font-size="8.5" text-anchor="end" fill="#111" color="#111">6</text>
<line x1="311.50" y1="545.42" x2="313.20" y2="545.42" stroke="#000" stroke-width="0.7"/>
<text x="311.40" y="548.52" font-size="8.5" text-anchor="end" fill="#111" color="#111">7</text>
<rect x="314.40" y="635.35" width="3.10" height="13.95" fill="#ffffff" stroke="#000" stroke-width="0.55"/>
<rect x="317.50" y="635.35" width="3.10" height="13.95" fill="#000000" stroke="#000" stroke-width="0.55"/>
<rect x="320.60" y="647.52" width="3.10" height="1.78" fill="#c4c4c4" stroke="#000" stroke-width="0.55"/>
<rect x="323.70" y="647.07" width="3.10" height="2.23" fill="#808080" stroke="#000" stroke-width="0.55"/>
<line x1="313.60" y1="649.30" x2="313.60" y2="650.70" stroke="#000" stroke-width="0.6"/>
<text x="323.90" y="654.30" font-size="7.3" text-anchor="end" transform="rotate(-90 323.9 654.3)" fill="#111" color="#111">GATA1</text>
<rect x="328.66" y="633.57" width="3.10" height="15.73" fill="#ffffff" stroke="#000" stroke-width="0.55"/>
<rect x="331.76" y="634.46" width="3.10" height="14.84" fill="#000000" stroke="#000" stroke-width="0.55"/>
<rect x="334.86" y="616.95" width="3.10" height="32.35" fill="#c4c4c4" stroke="#000" stroke-width="0.55"/>
<rect x="337.96" y="624.07" width="3.10" height="25.23" fill="#808080" stroke="#000" stroke-width="0.55"/>
<line x1="327.86" y1="649.30" x2="327.86" y2="650.70" stroke="#000" stroke-width="0.6"/>
<text x="338.16" y="654.30" font-size="7.3" text-anchor="end" transform="rotate(-90 338.15999999999997 654.3)" fill="#111" color="#111">GATA2</text>
<rect x="342.92" y="634.46" width="3.10" height="14.84" fill="#ffffff" stroke="#000" stroke-width="0.55"/>
<rect x="346.02" y="631.05" width="3.10" height="18.25" fill="#000000" stroke="#000" stroke-width="0.55"/>
<rect x="349.12" y="643.36" width="3.10" height="5.94" fill="#c4c4c4" stroke="#000" stroke-width="0.55"/>
<rect x="352.22" y="640.40" width="3.10" height="8.90" fill="#808080" stroke="#000" stroke-width="0.55"/>
<line x1="342.12" y1="649.30" x2="342.12" y2="650.70" stroke="#000" stroke-width="0.6"/>
<text x="352.42" y="654.30" font-size="7.3" text-anchor="end" transform="rotate(-90 352.41999999999996 654.3)" fill="#111" color="#111">KLF1</text>
<rect x="357.18" y="634.01" width="3.10" height="15.29" fill="#ffffff" stroke="#000" stroke-width="0.55"/>
<rect x="360.28" y="632.98" width="3.10" height="16.32" fill="#000000" stroke="#000" stroke-width="0.55"/>
<rect x="363.38" y="638.91" width="3.10" height="10.39" fill="#c4c4c4" stroke="#000" stroke-width="0.55"/>
<rect x="366.48" y="635.65" width="3.10" height="13.65" fill="#808080" stroke="#000" stroke-width="0.55"/>
<line x1="356.38" y1="649.30" x2="356.38" y2="650.70" stroke="#000" stroke-width="0.6"/>
<text x="366.68" y="654.30" font-size="7.3" text-anchor="end" transform="rotate(-90 366.67999999999995 654.3)" fill="#111" color="#111">NFE2</text>
<rect x="371.44" y="634.01" width="3.10" height="15.29" fill="#ffffff" stroke="#000" stroke-width="0.55"/>
<rect x="374.54" y="636.69" width="3.10" height="12.61" fill="#000000" stroke="#000" stroke-width="0.55"/>
<rect x="377.64" y="640.40" width="3.10" height="8.90" fill="#c4c4c4" stroke="#000" stroke-width="0.55"/>
<rect x="380.74" y="641.43" width="3.10" height="7.87" fill="#808080" stroke="#000" stroke-width="0.55"/>
<line x1="370.64" y1="649.30" x2="370.64" y2="650.70" stroke="#000" stroke-width="0.6"/>
<text x="380.94" y="654.30" font-size="7.3" text-anchor="end" transform="rotate(-90 380.94 654.3)" fill="#111" color="#111">FOG</text>
<rect x="385.70" y="633.57" width="3.10" height="15.73" fill="#ffffff" stroke="#000" stroke-width="0.55"/>
<rect x="388.80" y="566.20" width="3.10" height="83.10" fill="#000000" stroke="#000" stroke-width="0.55"/>
<line x1="390.35" y1="566.20" x2="390.35" y2="557.29" stroke="#000" stroke-width="0.6"/>
<line x1="389.55" y1="557.29" x2="391.15" y2="557.29" stroke="#000" stroke-width="0.6"/>
<rect x="391.90" y="644.85" width="3.10" height="4.45" fill="#c4c4c4" stroke="#000" stroke-width="0.55"/>
<rect x="395.00" y="626.30" width="3.10" height="23.00" fill="#808080" stroke="#000" stroke-width="0.55"/>
<line x1="396.55" y1="626.30" x2="396.55" y2="624.81" stroke="#000" stroke-width="0.6"/>
<line x1="395.75" y1="624.81" x2="397.35" y2="624.81" stroke="#000" stroke-width="0.6"/>
<line x1="384.90" y1="649.30" x2="384.90" y2="650.70" stroke="#000" stroke-width="0.6"/>
<text x="395.20" y="654.30" font-size="7.3" text-anchor="end" transform="rotate(-90 395.2 654.3)" fill="#111" color="#111">GYPA</text>
<rect x="399.96" y="634.46" width="3.10" height="14.84" fill="#ffffff" stroke="#000" stroke-width="0.55"/>
<rect x="403.06" y="575.84" width="3.10" height="73.46" fill="#000000" stroke="#000" stroke-width="0.55"/>
<line x1="404.61" y1="575.84" x2="404.61" y2="573.62" stroke="#000" stroke-width="0.6"/>
<line x1="403.81" y1="573.62" x2="405.41" y2="573.62" stroke="#000" stroke-width="0.6"/>
<rect x="406.16" y="639.65" width="3.10" height="9.65" fill="#c4c4c4" stroke="#000" stroke-width="0.55"/>
<rect x="409.26" y="607.75" width="3.10" height="41.55" fill="#808080" stroke="#000" stroke-width="0.55"/>
<line x1="399.16" y1="649.30" x2="399.16" y2="650.70" stroke="#000" stroke-width="0.6"/>
<text x="409.46" y="654.30" font-size="7.3" text-anchor="end" transform="rotate(-90 409.46 654.3)" fill="#111" color="#111">GYPB</text>
<rect x="414.22" y="633.27" width="3.10" height="16.03" fill="#ffffff" stroke="#000" stroke-width="0.55"/>
<rect x="417.32" y="592.91" width="3.10" height="56.39" fill="#000000" stroke="#000" stroke-width="0.55"/>
<line x1="418.87" y1="592.91" x2="418.87" y2="589.94" stroke="#000" stroke-width="0.6"/>
<line x1="418.07" y1="589.94" x2="419.67" y2="589.94" stroke="#000" stroke-width="0.6"/>
<rect x="420.42" y="631.49" width="3.10" height="17.81" fill="#c4c4c4" stroke="#000" stroke-width="0.55"/>
<line x1="421.97" y1="631.49" x2="421.97" y2="630.01" stroke="#000" stroke-width="0.6"/>
<line x1="421.17" y1="630.01" x2="422.77" y2="630.01" stroke="#000" stroke-width="0.6"/>
<rect x="423.52" y="603.30" width="3.10" height="46.00" fill="#808080" stroke="#000" stroke-width="0.55"/>
<line x1="425.07" y1="603.30" x2="425.07" y2="601.81" stroke="#000" stroke-width="0.6"/>
<line x1="424.27" y1="601.81" x2="425.87" y2="601.81" stroke="#000" stroke-width="0.6"/>
<line x1="413.42" y1="649.30" x2="413.42" y2="650.70" stroke="#000" stroke-width="0.6"/>
<text x="423.72" y="654.30" font-size="7.3" text-anchor="end" transform="rotate(-90 423.71999999999997 654.3)" fill="#111" color="#111">GYPE</text>
<rect x="428.48" y="634.01" width="3.10" height="15.29" fill="#ffffff" stroke="#000" stroke-width="0.55"/>
<rect x="431.58" y="603.30" width="3.10" height="46.00" fill="#000000" stroke="#000" stroke-width="0.55"/>
<line x1="433.13" y1="603.30" x2="433.13" y2="601.81" stroke="#000" stroke-width="0.6"/>
<line x1="432.33" y1="601.81" x2="433.93" y2="601.81" stroke="#000" stroke-width="0.6"/>
<rect x="434.68" y="632.98" width="3.10" height="16.32" fill="#c4c4c4" stroke="#000" stroke-width="0.55"/>
<rect x="437.78" y="611.75" width="3.10" height="37.55" fill="#808080" stroke="#000" stroke-width="0.55"/>
<line x1="439.33" y1="611.75" x2="439.33" y2="611.01" stroke="#000" stroke-width="0.6"/>
<line x1="438.53" y1="611.01" x2="440.13" y2="611.01" stroke="#000" stroke-width="0.6"/>
<line x1="427.68" y1="649.30" x2="427.68" y2="650.70" stroke="#000" stroke-width="0.6"/>
<text x="437.98" y="654.30" font-size="7.3" text-anchor="end" transform="rotate(-90 437.97999999999996 654.3)" fill="#111" color="#111">CISH</text>
<rect x="442.74" y="634.01" width="3.10" height="15.29" fill="#ffffff" stroke="#000" stroke-width="0.55"/>
<line x1="444.29" y1="634.01" x2="444.29" y2="633.27" stroke="#000" stroke-width="0.6"/>
<line x1="443.49" y1="633.27" x2="445.09" y2="633.27" stroke="#000" stroke-width="0.6"/>
<rect x="445.84" y="606.26" width="3.10" height="43.04" fill="#000000" stroke="#000" stroke-width="0.55"/>
<rect x="448.94" y="626.30" width="3.10" height="23.00" fill="#c4c4c4" stroke="#000" stroke-width="0.55"/>
<line x1="450.49" y1="626.30" x2="450.49" y2="624.81" stroke="#000" stroke-width="0.6"/>
<line x1="449.69" y1="624.81" x2="451.29" y2="624.81" stroke="#000" stroke-width="0.6"/>
<rect x="452.04" y="613.24" width="3.10" height="36.06" fill="#808080" stroke="#000" stroke-width="0.55"/>
<line x1="453.59" y1="613.24" x2="453.59" y2="612.50" stroke="#000" stroke-width="0.6"/>
<line x1="452.79" y1="612.50" x2="454.39" y2="612.50" stroke="#000" stroke-width="0.6"/>
<line x1="441.94" y1="649.30" x2="441.94" y2="650.70" stroke="#000" stroke-width="0.6"/>
<text x="452.24" y="654.30" font-size="7.3" text-anchor="end" transform="rotate(-90 452.24 654.3)" fill="#111" color="#111">SOCS2</text>
<rect x="457.00" y="634.46" width="3.10" height="14.84" fill="#ffffff" stroke="#000" stroke-width="0.55"/>
<rect x="460.10" y="591.42" width="3.10" height="57.88" fill="#000000" stroke="#000" stroke-width="0.55"/>
<line x1="461.65" y1="591.42" x2="461.65" y2="587.71" stroke="#000" stroke-width="0.6"/>
<line x1="460.85" y1="587.71" x2="462.45" y2="587.71" stroke="#000" stroke-width="0.6"/>
<rect x="463.20" y="627.04" width="3.10" height="22.26" fill="#c4c4c4" stroke="#000" stroke-width="0.55"/>
<rect x="466.30" y="586.97" width="3.10" height="62.33" fill="#808080" stroke="#000" stroke-width="0.55"/>
<line x1="467.85" y1="586.97" x2="467.85" y2="581.04" stroke="#000" stroke-width="0.6"/>
<line x1="467.05" y1="581.04" x2="468.65" y2="581.04" stroke="#000" stroke-width="0.6"/>
<line x1="456.20" y1="649.30" x2="456.20" y2="650.70" stroke="#000" stroke-width="0.6"/>
<text x="466.50" y="654.30" font-size="7.3" text-anchor="end" transform="rotate(-90 466.5 654.3)" fill="#111" color="#111">PIM1</text>
<text x="302.40" y="604.60" font-size="8.15" text-anchor="middle" transform="rotate(-90 302.4 604.6)" fill="#111" color="#111">rel. mRNA expression</text>
<rect x="398.30" y="543.50" width="5.80" height="3.50" fill="#ffffff" stroke="#000" stroke-width="0.6"/>
<text x="408.20" y="546.90" font-size="7.1" fill="#111" color="#111">luc RNAi, unstim.</text>
<rect x="398.30" y="550.30" width="5.80" height="3.50" fill="#000000" stroke="#000" stroke-width="0.6"/>
<text x="408.20" y="553.70" font-size="7.1" fill="#111" color="#111">luc RNAi, +4OHT</text>
<rect x="398.30" y="557.10" width="5.80" height="3.50" fill="#c4c4c4" stroke="#000" stroke-width="0.6"/>
<text x="408.20" y="560.50" font-size="7.1" fill="#111" color="#111">GATA1 RNAi, unstim.</text>
<rect x="398.30" y="563.90" width="5.80" height="3.50" fill="#808080" stroke="#000" stroke-width="0.6"/>
<text x="408.20" y="567.30" font-size="7.1" fill="#111" color="#111">GATA1 RNAi, +4OHT</text>
</svg></body></html>
